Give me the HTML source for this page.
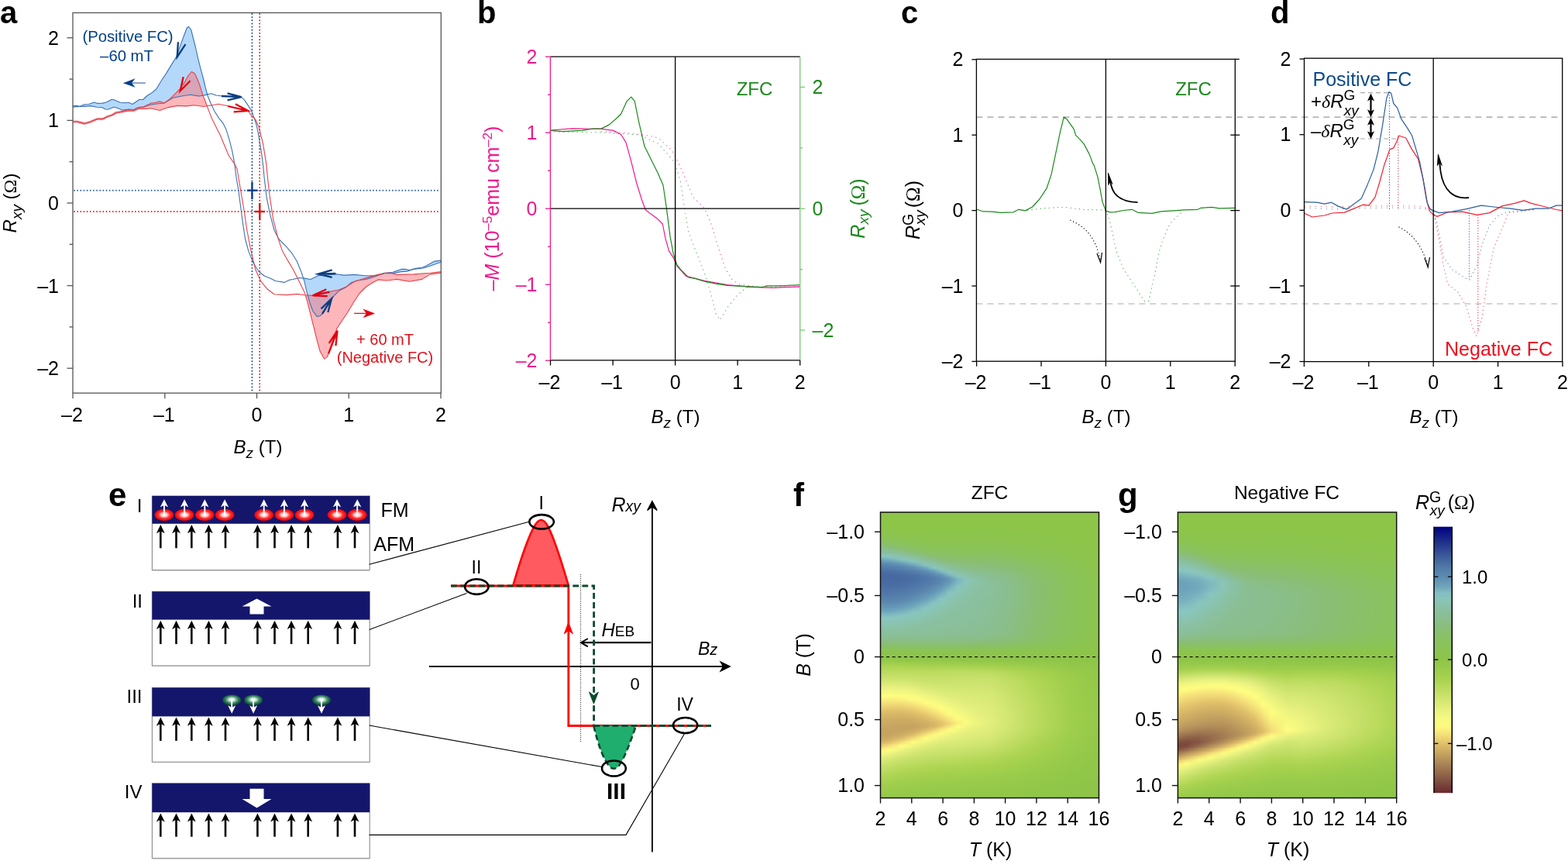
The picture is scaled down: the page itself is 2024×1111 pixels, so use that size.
<!DOCTYPE html>
<html><head><meta charset="utf-8"><style>
html,body{margin:0;padding:0;background:#fff;}
svg{display:block;}
text{font-family:"Liberation Sans",Arial,Helvetica,sans-serif;}
</style></head><body>
<svg width="2024" height="1111" viewBox="0 0 2024 1111">
<defs><clipPath id="cpb"><polygon points="94.1,136.6 98.7,136.4 102.5,137.4 109,134.7 114.5,134.5 121.5,132 125.9,133.4 132.4,133.1 137.3,132 144.3,128.2 147.1,128.8 155.2,132.3 160.7,132.8 166.1,132.3 171,134.5 179.7,128.5 184.6,128.5 190.5,123 195,120.6 201.7,115 208.5,103.7 215.2,93.6 222,82.4 227.6,73.4 233.2,57.6 237.7,45.2 241.1,36.2 243.6,34.2 246.7,38.5 249,47.5 252.4,61 255.7,75.6 259.1,89.1 262.5,101.5 265,112.2 267.5,121.4 267.5,122 263.6,122.9 256.9,124 245.6,122.3 234.4,124 223.1,126.2 211.9,133 200,134.3 193.3,135.5 185.1,138.3 177,139.3 172.6,141.5 166.1,141 157.9,142.1 150.9,139.3 147.1,138.3 138.9,141.3 136.2,141 131.3,138.5 124.8,138.3 117.2,136.6 109,137.4 102.5,137.4 94.1,138.3"/><polygon points="390.3,358.9 392.9,359.1 401,360.5 410.5,355.8 434.8,353.7 444.2,355.1 457.7,354.4 471.2,355.8 484.7,355.8 496.2,352.3 507,351.2 517.8,347.4 523.2,347.4 528.6,348.5 536.7,346.3 544.8,345.2 550.2,343.1 561,337.1 569.2,336.1 569.2,338.2 555.6,343.1 547.5,345.8 534,347.4 525.9,350.1 517.8,350.6 507,352.6 496.2,352.8 484.7,356.4 472.6,360.5 461.8,361.8 453.7,364.5 445.6,371.3 437.5,375.3 430.7,382.1 424,392.9 418.6,402.3 413.2,407.7 409.1,408.4 403.7,401 399.7,390.2 396.3,378 392.9,363.2 390.3,355.3"/></clipPath><radialGradient id="gred" cx="50%" cy="50%" r="50%"><stop offset="0" stop-color="#ffffff"/><stop offset="0.3" stop-color="#ffd0d0"/><stop offset="0.62" stop-color="#ff3030"/><stop offset="1" stop-color="#f00000"/></radialGradient><radialGradient id="ggrn" cx="50%" cy="45%" r="50%"><stop offset="0" stop-color="#ffffff"/><stop offset="0.25" stop-color="#e0f0e8"/><stop offset="0.65" stop-color="#3c8a66"/><stop offset="1" stop-color="#0c4a32"/></radialGradient><linearGradient id="f0"><stop offset="0" stop-color="#8dc548"/><stop offset="0.05" stop-color="#8dc548"/><stop offset="0.107" stop-color="#8dc548"/><stop offset="0.16" stop-color="#8dc548"/><stop offset="0.214" stop-color="#8dc548"/><stop offset="0.25" stop-color="#8dc548"/><stop offset="0.286" stop-color="#8dc548"/><stop offset="0.321" stop-color="#8dc548"/><stop offset="0.357" stop-color="#8dc548"/><stop offset="0.393" stop-color="#8dc548"/><stop offset="0.429" stop-color="#8dc548"/><stop offset="0.5" stop-color="#8dc548"/><stop offset="0.571" stop-color="#8dc548"/><stop offset="0.714" stop-color="#8dc548"/><stop offset="0.857" stop-color="#8dc548"/><stop offset="1" stop-color="#8dc548"/></linearGradient><linearGradient id="f1"><stop offset="0" stop-color="#8dc548"/><stop offset="0.05" stop-color="#8dc548"/><stop offset="0.107" stop-color="#8dc548"/><stop offset="0.16" stop-color="#8dc548"/><stop offset="0.214" stop-color="#8dc548"/><stop offset="0.25" stop-color="#8dc548"/><stop offset="0.286" stop-color="#8dc548"/><stop offset="0.321" stop-color="#8dc548"/><stop offset="0.357" stop-color="#8dc548"/><stop offset="0.393" stop-color="#8dc548"/><stop offset="0.429" stop-color="#8dc548"/><stop offset="0.5" stop-color="#8dc548"/><stop offset="0.571" stop-color="#8dc548"/><stop offset="0.714" stop-color="#8dc548"/><stop offset="0.857" stop-color="#8dc548"/><stop offset="1" stop-color="#8dc548"/></linearGradient><linearGradient id="f2"><stop offset="0" stop-color="#8dc548"/><stop offset="0.05" stop-color="#8dc548"/><stop offset="0.107" stop-color="#8dc548"/><stop offset="0.16" stop-color="#8dc548"/><stop offset="0.214" stop-color="#8dc548"/><stop offset="0.25" stop-color="#8dc548"/><stop offset="0.286" stop-color="#8dc548"/><stop offset="0.321" stop-color="#8dc548"/><stop offset="0.357" stop-color="#8dc548"/><stop offset="0.393" stop-color="#8dc548"/><stop offset="0.429" stop-color="#8dc548"/><stop offset="0.5" stop-color="#8dc548"/><stop offset="0.571" stop-color="#8dc548"/><stop offset="0.714" stop-color="#8dc548"/><stop offset="0.857" stop-color="#8dc548"/><stop offset="1" stop-color="#8dc548"/></linearGradient><linearGradient id="f3"><stop offset="0" stop-color="#8dc548"/><stop offset="0.05" stop-color="#8dc548"/><stop offset="0.107" stop-color="#8dc548"/><stop offset="0.16" stop-color="#8dc548"/><stop offset="0.214" stop-color="#8dc548"/><stop offset="0.25" stop-color="#8dc548"/><stop offset="0.286" stop-color="#8dc548"/><stop offset="0.321" stop-color="#8dc548"/><stop offset="0.357" stop-color="#8dc548"/><stop offset="0.393" stop-color="#8dc548"/><stop offset="0.429" stop-color="#8dc548"/><stop offset="0.5" stop-color="#8dc549"/><stop offset="0.571" stop-color="#8dc549"/><stop offset="0.714" stop-color="#8dc548"/><stop offset="0.857" stop-color="#8dc548"/><stop offset="1" stop-color="#8dc548"/></linearGradient><linearGradient id="f4"><stop offset="0" stop-color="#8dc548"/><stop offset="0.05" stop-color="#8dc548"/><stop offset="0.107" stop-color="#8dc548"/><stop offset="0.16" stop-color="#8dc548"/><stop offset="0.214" stop-color="#8dc548"/><stop offset="0.25" stop-color="#8dc548"/><stop offset="0.286" stop-color="#8dc548"/><stop offset="0.321" stop-color="#8dc548"/><stop offset="0.357" stop-color="#8dc549"/><stop offset="0.393" stop-color="#8dc549"/><stop offset="0.429" stop-color="#8dc549"/><stop offset="0.5" stop-color="#8dc549"/><stop offset="0.571" stop-color="#8dc549"/><stop offset="0.714" stop-color="#8dc549"/><stop offset="0.857" stop-color="#8dc548"/><stop offset="1" stop-color="#8dc548"/></linearGradient><linearGradient id="f5"><stop offset="0" stop-color="#8dc549"/><stop offset="0.05" stop-color="#8dc548"/><stop offset="0.107" stop-color="#8dc548"/><stop offset="0.16" stop-color="#8dc548"/><stop offset="0.214" stop-color="#8dc548"/><stop offset="0.25" stop-color="#8dc548"/><stop offset="0.286" stop-color="#8dc549"/><stop offset="0.321" stop-color="#8dc549"/><stop offset="0.357" stop-color="#8dc549"/><stop offset="0.393" stop-color="#8dc549"/><stop offset="0.429" stop-color="#8dc549"/><stop offset="0.5" stop-color="#8dc549"/><stop offset="0.571" stop-color="#8dc549"/><stop offset="0.714" stop-color="#8dc549"/><stop offset="0.857" stop-color="#8dc548"/><stop offset="1" stop-color="#8dc548"/></linearGradient><linearGradient id="f6"><stop offset="0" stop-color="#8dc549"/><stop offset="0.05" stop-color="#8dc548"/><stop offset="0.107" stop-color="#8dc548"/><stop offset="0.16" stop-color="#8dc548"/><stop offset="0.214" stop-color="#8dc549"/><stop offset="0.25" stop-color="#8dc549"/><stop offset="0.286" stop-color="#8dc549"/><stop offset="0.321" stop-color="#8dc549"/><stop offset="0.357" stop-color="#8dc549"/><stop offset="0.393" stop-color="#8dc549"/><stop offset="0.429" stop-color="#8dc549"/><stop offset="0.5" stop-color="#8dc549"/><stop offset="0.571" stop-color="#8dc549"/><stop offset="0.714" stop-color="#8dc549"/><stop offset="0.857" stop-color="#8dc548"/><stop offset="1" stop-color="#8dc548"/></linearGradient><linearGradient id="f7"><stop offset="0" stop-color="#8dc549"/><stop offset="0.05" stop-color="#8dc549"/><stop offset="0.107" stop-color="#8dc548"/><stop offset="0.16" stop-color="#8dc549"/><stop offset="0.214" stop-color="#8dc549"/><stop offset="0.25" stop-color="#8dc549"/><stop offset="0.286" stop-color="#8dc549"/><stop offset="0.321" stop-color="#8dc549"/><stop offset="0.357" stop-color="#8dc549"/><stop offset="0.393" stop-color="#8dc549"/><stop offset="0.429" stop-color="#8dc549"/><stop offset="0.5" stop-color="#8dc549"/><stop offset="0.571" stop-color="#8dc549"/><stop offset="0.714" stop-color="#8dc549"/><stop offset="0.857" stop-color="#8dc549"/><stop offset="1" stop-color="#8dc548"/></linearGradient><linearGradient id="f8"><stop offset="0" stop-color="#8dc54a"/><stop offset="0.05" stop-color="#8dc549"/><stop offset="0.107" stop-color="#8dc549"/><stop offset="0.16" stop-color="#8dc549"/><stop offset="0.214" stop-color="#8dc549"/><stop offset="0.25" stop-color="#8dc549"/><stop offset="0.286" stop-color="#8dc549"/><stop offset="0.321" stop-color="#8dc549"/><stop offset="0.357" stop-color="#8dc549"/><stop offset="0.393" stop-color="#8dc54a"/><stop offset="0.429" stop-color="#8dc54a"/><stop offset="0.5" stop-color="#8dc54a"/><stop offset="0.571" stop-color="#8dc54a"/><stop offset="0.714" stop-color="#8dc549"/><stop offset="0.857" stop-color="#8dc549"/><stop offset="1" stop-color="#8dc548"/></linearGradient><linearGradient id="f9"><stop offset="0" stop-color="#8dc54b"/><stop offset="0.05" stop-color="#8dc54a"/><stop offset="0.107" stop-color="#8dc549"/><stop offset="0.16" stop-color="#8dc549"/><stop offset="0.214" stop-color="#8dc549"/><stop offset="0.25" stop-color="#8dc54a"/><stop offset="0.286" stop-color="#8dc54a"/><stop offset="0.321" stop-color="#8dc54a"/><stop offset="0.357" stop-color="#8dc54a"/><stop offset="0.393" stop-color="#8dc54a"/><stop offset="0.429" stop-color="#8dc54a"/><stop offset="0.5" stop-color="#8dc54a"/><stop offset="0.571" stop-color="#8dc54a"/><stop offset="0.714" stop-color="#8dc549"/><stop offset="0.857" stop-color="#8dc549"/><stop offset="1" stop-color="#8dc548"/></linearGradient><linearGradient id="f10"><stop offset="0" stop-color="#8cc54d"/><stop offset="0.05" stop-color="#8dc54b"/><stop offset="0.107" stop-color="#8dc54a"/><stop offset="0.16" stop-color="#8dc54a"/><stop offset="0.214" stop-color="#8dc54a"/><stop offset="0.25" stop-color="#8dc54a"/><stop offset="0.286" stop-color="#8dc54a"/><stop offset="0.321" stop-color="#8dc54a"/><stop offset="0.357" stop-color="#8dc54a"/><stop offset="0.393" stop-color="#8dc54a"/><stop offset="0.429" stop-color="#8dc54b"/><stop offset="0.5" stop-color="#8dc54b"/><stop offset="0.571" stop-color="#8dc54b"/><stop offset="0.714" stop-color="#8dc54a"/><stop offset="0.857" stop-color="#8dc549"/><stop offset="1" stop-color="#8dc548"/></linearGradient><linearGradient id="f11"><stop offset="0" stop-color="#8cc44f"/><stop offset="0.05" stop-color="#8cc54c"/><stop offset="0.107" stop-color="#8dc54b"/><stop offset="0.16" stop-color="#8dc54a"/><stop offset="0.214" stop-color="#8dc54a"/><stop offset="0.25" stop-color="#8dc54a"/><stop offset="0.286" stop-color="#8dc54b"/><stop offset="0.321" stop-color="#8dc54b"/><stop offset="0.357" stop-color="#8dc54b"/><stop offset="0.393" stop-color="#8dc54b"/><stop offset="0.429" stop-color="#8dc54b"/><stop offset="0.5" stop-color="#8dc54b"/><stop offset="0.571" stop-color="#8dc54b"/><stop offset="0.714" stop-color="#8dc54a"/><stop offset="0.857" stop-color="#8dc549"/><stop offset="1" stop-color="#8dc548"/></linearGradient><linearGradient id="f12"><stop offset="0" stop-color="#8cc451"/><stop offset="0.05" stop-color="#8cc44e"/><stop offset="0.107" stop-color="#8cc54c"/><stop offset="0.16" stop-color="#8dc54b"/><stop offset="0.214" stop-color="#8dc54b"/><stop offset="0.25" stop-color="#8dc54b"/><stop offset="0.286" stop-color="#8cc54b"/><stop offset="0.321" stop-color="#8cc54c"/><stop offset="0.357" stop-color="#8cc54c"/><stop offset="0.393" stop-color="#8cc54c"/><stop offset="0.429" stop-color="#8cc54c"/><stop offset="0.5" stop-color="#8cc54c"/><stop offset="0.571" stop-color="#8cc54c"/><stop offset="0.714" stop-color="#8dc54b"/><stop offset="0.857" stop-color="#8dc54a"/><stop offset="1" stop-color="#8dc548"/></linearGradient><linearGradient id="f13"><stop offset="0" stop-color="#8bc455"/><stop offset="0.05" stop-color="#8cc451"/><stop offset="0.107" stop-color="#8cc44d"/><stop offset="0.16" stop-color="#8cc54c"/><stop offset="0.214" stop-color="#8cc54c"/><stop offset="0.25" stop-color="#8cc54c"/><stop offset="0.286" stop-color="#8cc54c"/><stop offset="0.321" stop-color="#8cc54c"/><stop offset="0.357" stop-color="#8cc54d"/><stop offset="0.393" stop-color="#8cc54d"/><stop offset="0.429" stop-color="#8cc54d"/><stop offset="0.5" stop-color="#8cc54d"/><stop offset="0.571" stop-color="#8cc54c"/><stop offset="0.714" stop-color="#8dc54b"/><stop offset="0.857" stop-color="#8dc54a"/><stop offset="1" stop-color="#8dc548"/></linearGradient><linearGradient id="f14"><stop offset="0" stop-color="#8bc358"/><stop offset="0.05" stop-color="#8bc454"/><stop offset="0.107" stop-color="#8cc44f"/><stop offset="0.16" stop-color="#8cc44d"/><stop offset="0.214" stop-color="#8cc54d"/><stop offset="0.25" stop-color="#8cc44d"/><stop offset="0.286" stop-color="#8cc44d"/><stop offset="0.321" stop-color="#8cc44d"/><stop offset="0.357" stop-color="#8cc44e"/><stop offset="0.393" stop-color="#8cc44e"/><stop offset="0.429" stop-color="#8cc44e"/><stop offset="0.5" stop-color="#8cc44e"/><stop offset="0.571" stop-color="#8cc44d"/><stop offset="0.714" stop-color="#8cc54c"/><stop offset="0.857" stop-color="#8dc54a"/><stop offset="1" stop-color="#8dc549"/></linearGradient><linearGradient id="f15"><stop offset="0" stop-color="#8ac35d"/><stop offset="0.05" stop-color="#8bc357"/><stop offset="0.107" stop-color="#8bc452"/><stop offset="0.16" stop-color="#8cc44f"/><stop offset="0.214" stop-color="#8cc44e"/><stop offset="0.25" stop-color="#8cc44e"/><stop offset="0.286" stop-color="#8cc44e"/><stop offset="0.321" stop-color="#8cc44f"/><stop offset="0.357" stop-color="#8cc44f"/><stop offset="0.393" stop-color="#8cc44f"/><stop offset="0.429" stop-color="#8cc44f"/><stop offset="0.5" stop-color="#8cc44f"/><stop offset="0.571" stop-color="#8cc44e"/><stop offset="0.714" stop-color="#8cc54d"/><stop offset="0.857" stop-color="#8dc54a"/><stop offset="1" stop-color="#8dc549"/></linearGradient><linearGradient id="f16"><stop offset="0" stop-color="#8ac163"/><stop offset="0.05" stop-color="#8ac35c"/><stop offset="0.107" stop-color="#8bc455"/><stop offset="0.16" stop-color="#8cc452"/><stop offset="0.214" stop-color="#8cc450"/><stop offset="0.25" stop-color="#8cc450"/><stop offset="0.286" stop-color="#8cc450"/><stop offset="0.321" stop-color="#8cc450"/><stop offset="0.357" stop-color="#8cc450"/><stop offset="0.393" stop-color="#8cc450"/><stop offset="0.429" stop-color="#8cc450"/><stop offset="0.5" stop-color="#8cc450"/><stop offset="0.571" stop-color="#8cc450"/><stop offset="0.714" stop-color="#8cc44d"/><stop offset="0.857" stop-color="#8dc54b"/><stop offset="1" stop-color="#8dc549"/></linearGradient><linearGradient id="f17"><stop offset="0" stop-color="#8ac06b"/><stop offset="0.05" stop-color="#8ac163"/><stop offset="0.107" stop-color="#8ac35a"/><stop offset="0.16" stop-color="#8bc454"/><stop offset="0.214" stop-color="#8cc452"/><stop offset="0.25" stop-color="#8cc451"/><stop offset="0.286" stop-color="#8cc451"/><stop offset="0.321" stop-color="#8cc452"/><stop offset="0.357" stop-color="#8cc452"/><stop offset="0.393" stop-color="#8cc452"/><stop offset="0.429" stop-color="#8cc452"/><stop offset="0.5" stop-color="#8cc452"/><stop offset="0.571" stop-color="#8cc451"/><stop offset="0.714" stop-color="#8cc44e"/><stop offset="0.857" stop-color="#8cc54b"/><stop offset="1" stop-color="#8dc549"/></linearGradient><linearGradient id="f18"><stop offset="0" stop-color="#8abe73"/><stop offset="0.05" stop-color="#8ac06b"/><stop offset="0.107" stop-color="#8ac25f"/><stop offset="0.16" stop-color="#8bc358"/><stop offset="0.214" stop-color="#8bc455"/><stop offset="0.25" stop-color="#8bc454"/><stop offset="0.286" stop-color="#8bc453"/><stop offset="0.321" stop-color="#8bc453"/><stop offset="0.357" stop-color="#8bc453"/><stop offset="0.393" stop-color="#8bc453"/><stop offset="0.429" stop-color="#8bc453"/><stop offset="0.5" stop-color="#8bc453"/><stop offset="0.571" stop-color="#8bc452"/><stop offset="0.714" stop-color="#8cc44f"/><stop offset="0.857" stop-color="#8cc54c"/><stop offset="1" stop-color="#8dc549"/></linearGradient><linearGradient id="f19"><stop offset="0" stop-color="#8abe80"/><stop offset="0.05" stop-color="#8abe74"/><stop offset="0.107" stop-color="#8ac067"/><stop offset="0.16" stop-color="#8ac35d"/><stop offset="0.214" stop-color="#8bc358"/><stop offset="0.25" stop-color="#8bc456"/><stop offset="0.286" stop-color="#8bc456"/><stop offset="0.321" stop-color="#8bc455"/><stop offset="0.357" stop-color="#8bc455"/><stop offset="0.393" stop-color="#8bc455"/><stop offset="0.429" stop-color="#8bc455"/><stop offset="0.5" stop-color="#8bc455"/><stop offset="0.571" stop-color="#8bc454"/><stop offset="0.714" stop-color="#8cc450"/><stop offset="0.857" stop-color="#8cc54d"/><stop offset="1" stop-color="#8dc549"/></linearGradient><linearGradient id="f20"><stop offset="0" stop-color="#8abe8d"/><stop offset="0.05" stop-color="#8abe81"/><stop offset="0.107" stop-color="#8abf70"/><stop offset="0.16" stop-color="#8ac164"/><stop offset="0.214" stop-color="#8ac35b"/><stop offset="0.25" stop-color="#8ac359"/><stop offset="0.286" stop-color="#8bc358"/><stop offset="0.321" stop-color="#8bc358"/><stop offset="0.357" stop-color="#8bc358"/><stop offset="0.393" stop-color="#8bc358"/><stop offset="0.429" stop-color="#8bc357"/><stop offset="0.5" stop-color="#8bc457"/><stop offset="0.571" stop-color="#8bc456"/><stop offset="0.714" stop-color="#8cc451"/><stop offset="0.857" stop-color="#8cc44d"/><stop offset="1" stop-color="#8dc549"/></linearGradient><linearGradient id="f21"><stop offset="0" stop-color="#8abf99"/><stop offset="0.05" stop-color="#8abe90"/><stop offset="0.107" stop-color="#8abe7d"/><stop offset="0.16" stop-color="#8abf6c"/><stop offset="0.214" stop-color="#8ac261"/><stop offset="0.25" stop-color="#8ac35d"/><stop offset="0.286" stop-color="#8ac35b"/><stop offset="0.321" stop-color="#8ac35a"/><stop offset="0.357" stop-color="#8ac35a"/><stop offset="0.393" stop-color="#8ac35a"/><stop offset="0.429" stop-color="#8ac35a"/><stop offset="0.5" stop-color="#8ac359"/><stop offset="0.571" stop-color="#8bc358"/><stop offset="0.714" stop-color="#8bc453"/><stop offset="0.857" stop-color="#8cc44e"/><stop offset="1" stop-color="#8dc54a"/></linearGradient><linearGradient id="f22"><stop offset="0" stop-color="#8ac1a5"/><stop offset="0.05" stop-color="#8ac09c"/><stop offset="0.107" stop-color="#8abe8b"/><stop offset="0.16" stop-color="#8abe76"/><stop offset="0.214" stop-color="#8ac068"/><stop offset="0.25" stop-color="#8ac263"/><stop offset="0.286" stop-color="#8ac25f"/><stop offset="0.321" stop-color="#8ac35e"/><stop offset="0.357" stop-color="#8ac35d"/><stop offset="0.393" stop-color="#8ac35d"/><stop offset="0.429" stop-color="#8ac35c"/><stop offset="0.5" stop-color="#8ac35b"/><stop offset="0.571" stop-color="#8ac35a"/><stop offset="0.714" stop-color="#8bc454"/><stop offset="0.857" stop-color="#8cc44f"/><stop offset="1" stop-color="#8dc54a"/></linearGradient><linearGradient id="f23"><stop offset="0" stop-color="#8ac3b2"/><stop offset="0.05" stop-color="#8ac2a9"/><stop offset="0.107" stop-color="#8abf99"/><stop offset="0.16" stop-color="#8abe85"/><stop offset="0.214" stop-color="#8abe70"/><stop offset="0.25" stop-color="#8ac069"/><stop offset="0.286" stop-color="#8ac165"/><stop offset="0.321" stop-color="#8ac262"/><stop offset="0.357" stop-color="#8ac261"/><stop offset="0.393" stop-color="#8ac260"/><stop offset="0.429" stop-color="#8ac260"/><stop offset="0.5" stop-color="#8ac25f"/><stop offset="0.571" stop-color="#8ac35c"/><stop offset="0.714" stop-color="#8bc456"/><stop offset="0.857" stop-color="#8cc44f"/><stop offset="1" stop-color="#8dc54a"/></linearGradient><linearGradient id="f24"><stop offset="0" stop-color="#8ac6c0"/><stop offset="0.05" stop-color="#8ac4b7"/><stop offset="0.107" stop-color="#8ac1a7"/><stop offset="0.16" stop-color="#8abf93"/><stop offset="0.214" stop-color="#8abe7d"/><stop offset="0.25" stop-color="#8abe71"/><stop offset="0.286" stop-color="#8ac06b"/><stop offset="0.321" stop-color="#8ac067"/><stop offset="0.357" stop-color="#8ac165"/><stop offset="0.393" stop-color="#8ac164"/><stop offset="0.429" stop-color="#8ac164"/><stop offset="0.5" stop-color="#8ac262"/><stop offset="0.571" stop-color="#8ac25f"/><stop offset="0.714" stop-color="#8bc357"/><stop offset="0.857" stop-color="#8cc450"/><stop offset="1" stop-color="#8dc54a"/></linearGradient><linearGradient id="f25"><stop offset="0" stop-color="#7ab3be"/><stop offset="0.05" stop-color="#85c0c1"/><stop offset="0.107" stop-color="#8ac4b6"/><stop offset="0.16" stop-color="#8ac1a1"/><stop offset="0.214" stop-color="#8abe8b"/><stop offset="0.25" stop-color="#8abe7c"/><stop offset="0.286" stop-color="#8abe71"/><stop offset="0.321" stop-color="#8abf6d"/><stop offset="0.357" stop-color="#8ac06a"/><stop offset="0.393" stop-color="#8ac069"/><stop offset="0.429" stop-color="#8ac068"/><stop offset="0.5" stop-color="#8ac166"/><stop offset="0.571" stop-color="#8ac262"/><stop offset="0.714" stop-color="#8ac359"/><stop offset="0.857" stop-color="#8cc451"/><stop offset="1" stop-color="#8dc54a"/></linearGradient><linearGradient id="f26"><stop offset="0" stop-color="#6a9fb9"/><stop offset="0.05" stop-color="#72aabc"/><stop offset="0.107" stop-color="#86c2c1"/><stop offset="0.16" stop-color="#8ac3b0"/><stop offset="0.214" stop-color="#8abf99"/><stop offset="0.25" stop-color="#8abe89"/><stop offset="0.286" stop-color="#8abe7c"/><stop offset="0.321" stop-color="#8abe73"/><stop offset="0.357" stop-color="#8abf6f"/><stop offset="0.393" stop-color="#8abf6d"/><stop offset="0.429" stop-color="#8abf6c"/><stop offset="0.5" stop-color="#8ac06a"/><stop offset="0.571" stop-color="#8ac166"/><stop offset="0.714" stop-color="#8ac35a"/><stop offset="0.857" stop-color="#8cc452"/><stop offset="1" stop-color="#8dc54b"/></linearGradient><linearGradient id="f27"><stop offset="0" stop-color="#6191b3"/><stop offset="0.05" stop-color="#6699b6"/><stop offset="0.107" stop-color="#73aabc"/><stop offset="0.16" stop-color="#8ac6c0"/><stop offset="0.214" stop-color="#8ac1a6"/><stop offset="0.25" stop-color="#8abf97"/><stop offset="0.286" stop-color="#8abe88"/><stop offset="0.321" stop-color="#8abe7d"/><stop offset="0.357" stop-color="#8abe76"/><stop offset="0.393" stop-color="#8abe72"/><stop offset="0.429" stop-color="#8abe71"/><stop offset="0.5" stop-color="#8abf6e"/><stop offset="0.571" stop-color="#8ac069"/><stop offset="0.714" stop-color="#8ac35c"/><stop offset="0.857" stop-color="#8bc453"/><stop offset="1" stop-color="#8dc54b"/></linearGradient><linearGradient id="f28"><stop offset="0" stop-color="#5986ae"/><stop offset="0.05" stop-color="#5d8cb1"/><stop offset="0.107" stop-color="#6699b6"/><stop offset="0.16" stop-color="#79b1bd"/><stop offset="0.214" stop-color="#8ac4b5"/><stop offset="0.25" stop-color="#8ac1a3"/><stop offset="0.286" stop-color="#8abf94"/><stop offset="0.321" stop-color="#8abe87"/><stop offset="0.357" stop-color="#8abe7e"/><stop offset="0.393" stop-color="#8abe79"/><stop offset="0.429" stop-color="#8abe76"/><stop offset="0.5" stop-color="#8abe72"/><stop offset="0.571" stop-color="#8abf6d"/><stop offset="0.714" stop-color="#8ac25e"/><stop offset="0.857" stop-color="#8bc454"/><stop offset="1" stop-color="#8dc54b"/></linearGradient><linearGradient id="f29"><stop offset="0" stop-color="#547fab"/><stop offset="0.05" stop-color="#5884ad"/><stop offset="0.107" stop-color="#5d8cb1"/><stop offset="0.16" stop-color="#689db8"/><stop offset="0.214" stop-color="#86c1c1"/><stop offset="0.25" stop-color="#8ac3b2"/><stop offset="0.286" stop-color="#8ac1a0"/><stop offset="0.321" stop-color="#8abe92"/><stop offset="0.357" stop-color="#8abe87"/><stop offset="0.393" stop-color="#8abe80"/><stop offset="0.429" stop-color="#8abe7d"/><stop offset="0.5" stop-color="#8abe77"/><stop offset="0.571" stop-color="#8abe71"/><stop offset="0.714" stop-color="#8ac261"/><stop offset="0.857" stop-color="#8bc455"/><stop offset="1" stop-color="#8dc54b"/></linearGradient><linearGradient id="f30"><stop offset="0" stop-color="#5078a8"/><stop offset="0.05" stop-color="#537daa"/><stop offset="0.107" stop-color="#5783ad"/><stop offset="0.16" stop-color="#5f8eb2"/><stop offset="0.214" stop-color="#72a9bc"/><stop offset="0.25" stop-color="#8ac6c1"/><stop offset="0.286" stop-color="#8ac3ad"/><stop offset="0.321" stop-color="#8ac09d"/><stop offset="0.357" stop-color="#8abe91"/><stop offset="0.393" stop-color="#8abe88"/><stop offset="0.429" stop-color="#8abe83"/><stop offset="0.5" stop-color="#8abe7d"/><stop offset="0.571" stop-color="#8abe75"/><stop offset="0.714" stop-color="#8ac163"/><stop offset="0.857" stop-color="#8bc456"/><stop offset="1" stop-color="#8cc54c"/></linearGradient><linearGradient id="f31"><stop offset="0" stop-color="#4b70a4"/><stop offset="0.05" stop-color="#4f76a7"/><stop offset="0.107" stop-color="#537caa"/><stop offset="0.16" stop-color="#5885ae"/><stop offset="0.214" stop-color="#6597b6"/><stop offset="0.25" stop-color="#77b0bd"/><stop offset="0.286" stop-color="#8ac5bb"/><stop offset="0.321" stop-color="#8ac2a8"/><stop offset="0.357" stop-color="#8abf9a"/><stop offset="0.393" stop-color="#8abe90"/><stop offset="0.429" stop-color="#8abe8a"/><stop offset="0.5" stop-color="#8abe83"/><stop offset="0.571" stop-color="#8abe7a"/><stop offset="0.714" stop-color="#8ac165"/><stop offset="0.857" stop-color="#8bc456"/><stop offset="1" stop-color="#8cc54c"/></linearGradient><linearGradient id="f32"><stop offset="0" stop-color="#486ba2"/><stop offset="0.05" stop-color="#4b70a4"/><stop offset="0.107" stop-color="#4f76a7"/><stop offset="0.16" stop-color="#547daa"/><stop offset="0.214" stop-color="#5c8ab0"/><stop offset="0.25" stop-color="#689cb7"/><stop offset="0.286" stop-color="#80babf"/><stop offset="0.321" stop-color="#8ac4b5"/><stop offset="0.357" stop-color="#8ac1a3"/><stop offset="0.393" stop-color="#8abf97"/><stop offset="0.429" stop-color="#8abe91"/><stop offset="0.5" stop-color="#8abe88"/><stop offset="0.571" stop-color="#8abe7e"/><stop offset="0.714" stop-color="#8ac067"/><stop offset="0.857" stop-color="#8bc357"/><stop offset="1" stop-color="#8cc54c"/></linearGradient><linearGradient id="f33"><stop offset="0" stop-color="#4668a1"/><stop offset="0.05" stop-color="#486ba2"/><stop offset="0.107" stop-color="#4b70a4"/><stop offset="0.16" stop-color="#5077a8"/><stop offset="0.214" stop-color="#5782ac"/><stop offset="0.25" stop-color="#5f8eb2"/><stop offset="0.286" stop-color="#6da4ba"/><stop offset="0.321" stop-color="#8ac6c2"/><stop offset="0.357" stop-color="#8ac2ad"/><stop offset="0.393" stop-color="#8ac09f"/><stop offset="0.429" stop-color="#8abf96"/><stop offset="0.5" stop-color="#8abe8d"/><stop offset="0.571" stop-color="#8abe83"/><stop offset="0.714" stop-color="#8ac069"/><stop offset="0.857" stop-color="#8bc358"/><stop offset="1" stop-color="#8cc54c"/></linearGradient><linearGradient id="f34"><stop offset="0" stop-color="#4668a1"/><stop offset="0.05" stop-color="#4669a1"/><stop offset="0.107" stop-color="#486ca2"/><stop offset="0.16" stop-color="#4b70a5"/><stop offset="0.214" stop-color="#527ba9"/><stop offset="0.25" stop-color="#5885ae"/><stop offset="0.286" stop-color="#6495b5"/><stop offset="0.321" stop-color="#79b2be"/><stop offset="0.357" stop-color="#8ac4b8"/><stop offset="0.393" stop-color="#8ac1a7"/><stop offset="0.429" stop-color="#8ac09c"/><stop offset="0.5" stop-color="#8abe91"/><stop offset="0.571" stop-color="#8abe87"/><stop offset="0.714" stop-color="#8ac06b"/><stop offset="0.857" stop-color="#8ac359"/><stop offset="1" stop-color="#8cc54c"/></linearGradient><linearGradient id="f35"><stop offset="0" stop-color="#4668a1"/><stop offset="0.05" stop-color="#4669a1"/><stop offset="0.107" stop-color="#476aa2"/><stop offset="0.16" stop-color="#4a6ea3"/><stop offset="0.214" stop-color="#4e76a7"/><stop offset="0.25" stop-color="#547eab"/><stop offset="0.286" stop-color="#5c89b0"/><stop offset="0.321" stop-color="#6aa0b9"/><stop offset="0.357" stop-color="#88c3c1"/><stop offset="0.393" stop-color="#8ac3af"/><stop offset="0.429" stop-color="#8ac1a2"/><stop offset="0.5" stop-color="#8abf94"/><stop offset="0.571" stop-color="#8abe8a"/><stop offset="0.714" stop-color="#8abf6d"/><stop offset="0.857" stop-color="#8ac359"/><stop offset="1" stop-color="#8cc54d"/></linearGradient><linearGradient id="f36"><stop offset="0" stop-color="#4769a1"/><stop offset="0.05" stop-color="#4769a1"/><stop offset="0.107" stop-color="#476aa2"/><stop offset="0.16" stop-color="#4a6ea3"/><stop offset="0.214" stop-color="#4f76a7"/><stop offset="0.25" stop-color="#537daa"/><stop offset="0.286" stop-color="#5985ae"/><stop offset="0.321" stop-color="#6394b4"/><stop offset="0.357" stop-color="#79b2bd"/><stop offset="0.393" stop-color="#8ac4b9"/><stop offset="0.429" stop-color="#8ac2a8"/><stop offset="0.5" stop-color="#8abf97"/><stop offset="0.571" stop-color="#8abe8d"/><stop offset="0.714" stop-color="#8abf6e"/><stop offset="0.857" stop-color="#8ac35a"/><stop offset="1" stop-color="#8cc54d"/></linearGradient><linearGradient id="f37"><stop offset="0" stop-color="#476aa2"/><stop offset="0.05" stop-color="#476aa2"/><stop offset="0.107" stop-color="#486ba2"/><stop offset="0.16" stop-color="#4b6fa4"/><stop offset="0.214" stop-color="#5078a8"/><stop offset="0.25" stop-color="#547eab"/><stop offset="0.286" stop-color="#5a87af"/><stop offset="0.321" stop-color="#6598b6"/><stop offset="0.357" stop-color="#79b2bd"/><stop offset="0.393" stop-color="#8ac5bc"/><stop offset="0.429" stop-color="#8ac2ac"/><stop offset="0.5" stop-color="#8ac09a"/><stop offset="0.571" stop-color="#8abe8f"/><stop offset="0.714" stop-color="#8abf6f"/><stop offset="0.857" stop-color="#8ac35a"/><stop offset="1" stop-color="#8cc54d"/></linearGradient><linearGradient id="f38"><stop offset="0" stop-color="#486ba2"/><stop offset="0.05" stop-color="#486ba2"/><stop offset="0.107" stop-color="#496da3"/><stop offset="0.16" stop-color="#4c72a5"/><stop offset="0.214" stop-color="#517aa9"/><stop offset="0.25" stop-color="#5681ac"/><stop offset="0.286" stop-color="#5d8bb0"/><stop offset="0.321" stop-color="#689db8"/><stop offset="0.357" stop-color="#7fb8bf"/><stop offset="0.393" stop-color="#8ac4b9"/><stop offset="0.429" stop-color="#8ac2ab"/><stop offset="0.5" stop-color="#8ac09b"/><stop offset="0.571" stop-color="#8abe90"/><stop offset="0.714" stop-color="#8abe70"/><stop offset="0.857" stop-color="#8ac35b"/><stop offset="1" stop-color="#8cc54d"/></linearGradient><linearGradient id="f39"><stop offset="0" stop-color="#496da3"/><stop offset="0.05" stop-color="#496da3"/><stop offset="0.107" stop-color="#4a6fa4"/><stop offset="0.16" stop-color="#4e75a6"/><stop offset="0.214" stop-color="#537daa"/><stop offset="0.25" stop-color="#5884ae"/><stop offset="0.286" stop-color="#6090b3"/><stop offset="0.321" stop-color="#6da3ba"/><stop offset="0.357" stop-color="#85c0c1"/><stop offset="0.393" stop-color="#8ac4b5"/><stop offset="0.429" stop-color="#8ac2a9"/><stop offset="0.5" stop-color="#8ac09b"/><stop offset="0.571" stop-color="#8abe91"/><stop offset="0.714" stop-color="#8abe70"/><stop offset="0.857" stop-color="#8ac35b"/><stop offset="1" stop-color="#8cc54d"/></linearGradient><linearGradient id="f40"><stop offset="0" stop-color="#4a6fa4"/><stop offset="0.05" stop-color="#4a6fa4"/><stop offset="0.107" stop-color="#4c71a5"/><stop offset="0.16" stop-color="#5078a8"/><stop offset="0.214" stop-color="#5580ac"/><stop offset="0.25" stop-color="#5b88af"/><stop offset="0.286" stop-color="#6496b5"/><stop offset="0.321" stop-color="#74abbc"/><stop offset="0.357" stop-color="#8ac6c1"/><stop offset="0.393" stop-color="#8ac3b2"/><stop offset="0.429" stop-color="#8ac2a7"/><stop offset="0.5" stop-color="#8ac09b"/><stop offset="0.571" stop-color="#8abe91"/><stop offset="0.714" stop-color="#8abe71"/><stop offset="0.857" stop-color="#8ac35b"/><stop offset="1" stop-color="#8cc54d"/></linearGradient><linearGradient id="f41"><stop offset="0" stop-color="#4c72a5"/><stop offset="0.05" stop-color="#4c71a5"/><stop offset="0.107" stop-color="#4e74a6"/><stop offset="0.16" stop-color="#527aa9"/><stop offset="0.214" stop-color="#5783ad"/><stop offset="0.25" stop-color="#5e8db1"/><stop offset="0.286" stop-color="#689cb8"/><stop offset="0.321" stop-color="#7bb4be"/><stop offset="0.357" stop-color="#8ac5bc"/><stop offset="0.393" stop-color="#8ac3ae"/><stop offset="0.429" stop-color="#8ac1a5"/><stop offset="0.5" stop-color="#8ac09b"/><stop offset="0.571" stop-color="#8abe91"/><stop offset="0.714" stop-color="#8abe71"/><stop offset="0.857" stop-color="#8ac35b"/><stop offset="1" stop-color="#8cc54d"/></linearGradient><linearGradient id="f42"><stop offset="0" stop-color="#4e75a7"/><stop offset="0.05" stop-color="#4e74a6"/><stop offset="0.107" stop-color="#5078a8"/><stop offset="0.16" stop-color="#537daa"/><stop offset="0.214" stop-color="#5a87af"/><stop offset="0.25" stop-color="#6292b4"/><stop offset="0.286" stop-color="#6ca2ba"/><stop offset="0.321" stop-color="#82bdc0"/><stop offset="0.357" stop-color="#8ac4b8"/><stop offset="0.393" stop-color="#8ac2ac"/><stop offset="0.429" stop-color="#8ac1a4"/><stop offset="0.5" stop-color="#8ac09a"/><stop offset="0.571" stop-color="#8abe91"/><stop offset="0.714" stop-color="#8abe71"/><stop offset="0.857" stop-color="#8ac35b"/><stop offset="1" stop-color="#8cc54d"/></linearGradient><linearGradient id="f43"><stop offset="0" stop-color="#5078a8"/><stop offset="0.05" stop-color="#5078a8"/><stop offset="0.107" stop-color="#527ba9"/><stop offset="0.16" stop-color="#5680ac"/><stop offset="0.214" stop-color="#5d8bb0"/><stop offset="0.25" stop-color="#6698b6"/><stop offset="0.286" stop-color="#74abbc"/><stop offset="0.321" stop-color="#89c5c2"/><stop offset="0.357" stop-color="#8ac4b4"/><stop offset="0.393" stop-color="#8ac2a9"/><stop offset="0.429" stop-color="#8ac1a3"/><stop offset="0.5" stop-color="#8ac09a"/><stop offset="0.571" stop-color="#8abe91"/><stop offset="0.714" stop-color="#8abe71"/><stop offset="0.857" stop-color="#8ac35b"/><stop offset="1" stop-color="#8cc54d"/></linearGradient><linearGradient id="f44"><stop offset="0" stop-color="#527ba9"/><stop offset="0.05" stop-color="#527aa9"/><stop offset="0.107" stop-color="#547daa"/><stop offset="0.16" stop-color="#5884ad"/><stop offset="0.214" stop-color="#6091b3"/><stop offset="0.25" stop-color="#6a9fb9"/><stop offset="0.286" stop-color="#7bb4be"/><stop offset="0.321" stop-color="#8ac5be"/><stop offset="0.357" stop-color="#8ac3b1"/><stop offset="0.393" stop-color="#8ac2a7"/><stop offset="0.429" stop-color="#8ac1a2"/><stop offset="0.5" stop-color="#8ac09a"/><stop offset="0.571" stop-color="#8abe91"/><stop offset="0.714" stop-color="#8abe71"/><stop offset="0.857" stop-color="#8ac35b"/><stop offset="1" stop-color="#8cc54d"/></linearGradient><linearGradient id="f45"><stop offset="0" stop-color="#547eab"/><stop offset="0.05" stop-color="#547daa"/><stop offset="0.107" stop-color="#5681ac"/><stop offset="0.16" stop-color="#5a88af"/><stop offset="0.214" stop-color="#6597b5"/><stop offset="0.25" stop-color="#6fa6bb"/><stop offset="0.286" stop-color="#82bdc0"/><stop offset="0.321" stop-color="#8ac5ba"/><stop offset="0.357" stop-color="#8ac3ae"/><stop offset="0.393" stop-color="#8ac1a5"/><stop offset="0.429" stop-color="#8ac1a1"/><stop offset="0.5" stop-color="#8abf9a"/><stop offset="0.571" stop-color="#8abe91"/><stop offset="0.714" stop-color="#8abe70"/><stop offset="0.857" stop-color="#8ac35b"/><stop offset="1" stop-color="#8cc54d"/></linearGradient><linearGradient id="f46"><stop offset="0" stop-color="#5681ac"/><stop offset="0.05" stop-color="#5681ac"/><stop offset="0.107" stop-color="#5884ad"/><stop offset="0.16" stop-color="#5d8cb1"/><stop offset="0.214" stop-color="#699db8"/><stop offset="0.25" stop-color="#77afbd"/><stop offset="0.286" stop-color="#89c5c2"/><stop offset="0.321" stop-color="#8ac4b6"/><stop offset="0.357" stop-color="#8ac2ab"/><stop offset="0.393" stop-color="#8ac1a4"/><stop offset="0.429" stop-color="#8ac0a0"/><stop offset="0.5" stop-color="#8abf99"/><stop offset="0.571" stop-color="#8abe91"/><stop offset="0.714" stop-color="#8abe70"/><stop offset="0.857" stop-color="#8ac35b"/><stop offset="1" stop-color="#8cc54d"/></linearGradient><linearGradient id="f47"><stop offset="0" stop-color="#5985ae"/><stop offset="0.05" stop-color="#5884ad"/><stop offset="0.107" stop-color="#5b88af"/><stop offset="0.16" stop-color="#6292b3"/><stop offset="0.214" stop-color="#6ea4ba"/><stop offset="0.25" stop-color="#7fb8bf"/><stop offset="0.286" stop-color="#8ac5be"/><stop offset="0.321" stop-color="#8ac3b2"/><stop offset="0.357" stop-color="#8ac2a8"/><stop offset="0.393" stop-color="#8ac1a3"/><stop offset="0.429" stop-color="#8ac09f"/><stop offset="0.5" stop-color="#8abf99"/><stop offset="0.571" stop-color="#8abe90"/><stop offset="0.714" stop-color="#8abe70"/><stop offset="0.857" stop-color="#8ac35b"/><stop offset="1" stop-color="#8cc54d"/></linearGradient><linearGradient id="f48"><stop offset="0" stop-color="#5b89b0"/><stop offset="0.05" stop-color="#5b88af"/><stop offset="0.107" stop-color="#5e8db1"/><stop offset="0.16" stop-color="#6699b6"/><stop offset="0.214" stop-color="#75adbd"/><stop offset="0.25" stop-color="#86c1c1"/><stop offset="0.286" stop-color="#8ac5b9"/><stop offset="0.321" stop-color="#8ac3ae"/><stop offset="0.357" stop-color="#8ac1a6"/><stop offset="0.393" stop-color="#8ac1a2"/><stop offset="0.429" stop-color="#8ac09f"/><stop offset="0.5" stop-color="#8abf99"/><stop offset="0.571" stop-color="#8abe90"/><stop offset="0.714" stop-color="#8abe70"/><stop offset="0.857" stop-color="#8ac35b"/><stop offset="1" stop-color="#8cc54d"/></linearGradient><linearGradient id="f49"><stop offset="0" stop-color="#5f8fb2"/><stop offset="0.05" stop-color="#5e8db1"/><stop offset="0.107" stop-color="#6293b4"/><stop offset="0.16" stop-color="#6a9fb9"/><stop offset="0.214" stop-color="#7db7bf"/><stop offset="0.25" stop-color="#8ac6c0"/><stop offset="0.286" stop-color="#8ac4b5"/><stop offset="0.321" stop-color="#8ac2ab"/><stop offset="0.357" stop-color="#8ac1a5"/><stop offset="0.393" stop-color="#8ac1a1"/><stop offset="0.429" stop-color="#8ac09e"/><stop offset="0.5" stop-color="#8abf98"/><stop offset="0.571" stop-color="#8abe90"/><stop offset="0.714" stop-color="#8abe70"/><stop offset="0.857" stop-color="#8ac35b"/><stop offset="1" stop-color="#8cc54d"/></linearGradient><linearGradient id="f50"><stop offset="0" stop-color="#6395b5"/><stop offset="0.05" stop-color="#6293b4"/><stop offset="0.107" stop-color="#669ab6"/><stop offset="0.16" stop-color="#70a7bb"/><stop offset="0.214" stop-color="#85c0c1"/><stop offset="0.25" stop-color="#8ac5bb"/><stop offset="0.286" stop-color="#8ac3b1"/><stop offset="0.321" stop-color="#8ac2a9"/><stop offset="0.357" stop-color="#8ac1a3"/><stop offset="0.393" stop-color="#8ac0a0"/><stop offset="0.429" stop-color="#8ac09e"/><stop offset="0.5" stop-color="#8abf98"/><stop offset="0.571" stop-color="#8abe8f"/><stop offset="0.714" stop-color="#8abf70"/><stop offset="0.857" stop-color="#8ac35b"/><stop offset="1" stop-color="#8cc54d"/></linearGradient><linearGradient id="f51"><stop offset="0" stop-color="#689bb7"/><stop offset="0.05" stop-color="#669ab7"/><stop offset="0.107" stop-color="#6ba0b9"/><stop offset="0.16" stop-color="#78b1bd"/><stop offset="0.214" stop-color="#8ac6c0"/><stop offset="0.25" stop-color="#8ac4b7"/><stop offset="0.286" stop-color="#8ac3ae"/><stop offset="0.321" stop-color="#8ac1a7"/><stop offset="0.357" stop-color="#8ac1a2"/><stop offset="0.393" stop-color="#8ac09f"/><stop offset="0.429" stop-color="#8ac09d"/><stop offset="0.5" stop-color="#8abf98"/><stop offset="0.571" stop-color="#8abe8f"/><stop offset="0.714" stop-color="#8abf70"/><stop offset="0.857" stop-color="#8ac35b"/><stop offset="1" stop-color="#8cc54d"/></linearGradient><linearGradient id="f52"><stop offset="0" stop-color="#6ca2ba"/><stop offset="0.05" stop-color="#6ba0b9"/><stop offset="0.107" stop-color="#72a9bc"/><stop offset="0.16" stop-color="#80babf"/><stop offset="0.214" stop-color="#8ac5bb"/><stop offset="0.25" stop-color="#8ac3b2"/><stop offset="0.286" stop-color="#8ac2aa"/><stop offset="0.321" stop-color="#8ac1a5"/><stop offset="0.357" stop-color="#8ac1a1"/><stop offset="0.393" stop-color="#8ac09e"/><stop offset="0.429" stop-color="#8ac09c"/><stop offset="0.5" stop-color="#8abf97"/><stop offset="0.571" stop-color="#8abe8e"/><stop offset="0.714" stop-color="#8abf6f"/><stop offset="0.857" stop-color="#8ac35b"/><stop offset="1" stop-color="#8cc54d"/></linearGradient><linearGradient id="f53"><stop offset="0" stop-color="#75acbc"/><stop offset="0.05" stop-color="#72a9bc"/><stop offset="0.107" stop-color="#7ab3be"/><stop offset="0.16" stop-color="#88c4c1"/><stop offset="0.214" stop-color="#8ac4b7"/><stop offset="0.25" stop-color="#8ac3ae"/><stop offset="0.286" stop-color="#8ac2a8"/><stop offset="0.321" stop-color="#8ac1a3"/><stop offset="0.357" stop-color="#8ac0a0"/><stop offset="0.393" stop-color="#8ac09d"/><stop offset="0.429" stop-color="#8ac09c"/><stop offset="0.5" stop-color="#8abf97"/><stop offset="0.571" stop-color="#8abe8e"/><stop offset="0.714" stop-color="#8abf6f"/><stop offset="0.857" stop-color="#8ac35a"/><stop offset="1" stop-color="#8cc54d"/></linearGradient><linearGradient id="f54"><stop offset="0" stop-color="#7db6bf"/><stop offset="0.05" stop-color="#7bb4be"/><stop offset="0.107" stop-color="#82bdc0"/><stop offset="0.16" stop-color="#8ac5be"/><stop offset="0.214" stop-color="#8ac3b2"/><stop offset="0.25" stop-color="#8ac2ab"/><stop offset="0.286" stop-color="#8ac1a6"/><stop offset="0.321" stop-color="#8ac1a1"/><stop offset="0.357" stop-color="#8ac09f"/><stop offset="0.393" stop-color="#8ac09d"/><stop offset="0.429" stop-color="#8ac09b"/><stop offset="0.5" stop-color="#8abf96"/><stop offset="0.571" stop-color="#8abe8d"/><stop offset="0.714" stop-color="#8abf6f"/><stop offset="0.857" stop-color="#8ac35a"/><stop offset="1" stop-color="#8cc54d"/></linearGradient><linearGradient id="f55"><stop offset="0" stop-color="#85c0c1"/><stop offset="0.05" stop-color="#83bec0"/><stop offset="0.107" stop-color="#8ac6c2"/><stop offset="0.16" stop-color="#8ac4b9"/><stop offset="0.214" stop-color="#8ac3ae"/><stop offset="0.25" stop-color="#8ac2a8"/><stop offset="0.286" stop-color="#8ac1a4"/><stop offset="0.321" stop-color="#8ac0a0"/><stop offset="0.357" stop-color="#8ac09e"/><stop offset="0.393" stop-color="#8ac09c"/><stop offset="0.429" stop-color="#8ac09b"/><stop offset="0.5" stop-color="#8abf96"/><stop offset="0.571" stop-color="#8abe8d"/><stop offset="0.714" stop-color="#8abf6f"/><stop offset="0.857" stop-color="#8ac35a"/><stop offset="1" stop-color="#8cc54d"/></linearGradient><linearGradient id="f56"><stop offset="0" stop-color="#8ac6bf"/><stop offset="0.05" stop-color="#8ac6c1"/><stop offset="0.107" stop-color="#8ac5bc"/><stop offset="0.16" stop-color="#8ac4b4"/><stop offset="0.214" stop-color="#8ac2aa"/><stop offset="0.25" stop-color="#8ac1a5"/><stop offset="0.286" stop-color="#8ac1a2"/><stop offset="0.321" stop-color="#8ac09f"/><stop offset="0.357" stop-color="#8ac09d"/><stop offset="0.393" stop-color="#8ac09b"/><stop offset="0.429" stop-color="#8ac09a"/><stop offset="0.5" stop-color="#8abf95"/><stop offset="0.571" stop-color="#8abe8c"/><stop offset="0.714" stop-color="#8abf6e"/><stop offset="0.857" stop-color="#8ac35a"/><stop offset="1" stop-color="#8cc54d"/></linearGradient><linearGradient id="f57"><stop offset="0" stop-color="#8ac5ba"/><stop offset="0.05" stop-color="#8ac5bb"/><stop offset="0.107" stop-color="#8ac4b7"/><stop offset="0.16" stop-color="#8ac3af"/><stop offset="0.214" stop-color="#8ac2a7"/><stop offset="0.25" stop-color="#8ac1a3"/><stop offset="0.286" stop-color="#8ac0a0"/><stop offset="0.321" stop-color="#8ac09e"/><stop offset="0.357" stop-color="#8ac09c"/><stop offset="0.393" stop-color="#8ac09a"/><stop offset="0.429" stop-color="#8abf99"/><stop offset="0.5" stop-color="#8abf94"/><stop offset="0.571" stop-color="#8abe8c"/><stop offset="0.714" stop-color="#8abf6e"/><stop offset="0.857" stop-color="#8ac35a"/><stop offset="1" stop-color="#8cc54d"/></linearGradient><linearGradient id="f58"><stop offset="0" stop-color="#8ac4b4"/><stop offset="0.05" stop-color="#8ac4b6"/><stop offset="0.107" stop-color="#8ac3b2"/><stop offset="0.16" stop-color="#8ac2ab"/><stop offset="0.214" stop-color="#8ac1a4"/><stop offset="0.25" stop-color="#8ac1a1"/><stop offset="0.286" stop-color="#8ac09f"/><stop offset="0.321" stop-color="#8ac09d"/><stop offset="0.357" stop-color="#8ac09b"/><stop offset="0.393" stop-color="#8abf9a"/><stop offset="0.429" stop-color="#8abf99"/><stop offset="0.5" stop-color="#8abf94"/><stop offset="0.571" stop-color="#8abe8b"/><stop offset="0.714" stop-color="#8abf6e"/><stop offset="0.857" stop-color="#8ac35a"/><stop offset="1" stop-color="#8cc54d"/></linearGradient><linearGradient id="f59"><stop offset="0" stop-color="#8ac3af"/><stop offset="0.05" stop-color="#8ac3b1"/><stop offset="0.107" stop-color="#8ac2ad"/><stop offset="0.16" stop-color="#8ac2a7"/><stop offset="0.214" stop-color="#8ac1a2"/><stop offset="0.25" stop-color="#8ac09f"/><stop offset="0.286" stop-color="#8ac09d"/><stop offset="0.321" stop-color="#8ac09c"/><stop offset="0.357" stop-color="#8ac09a"/><stop offset="0.393" stop-color="#8abf99"/><stop offset="0.429" stop-color="#8abf98"/><stop offset="0.5" stop-color="#8abe93"/><stop offset="0.571" stop-color="#8abe8a"/><stop offset="0.714" stop-color="#8abf6d"/><stop offset="0.857" stop-color="#8ac35a"/><stop offset="1" stop-color="#8cc54d"/></linearGradient><linearGradient id="f60"><stop offset="0" stop-color="#8ac2aa"/><stop offset="0.05" stop-color="#8ac2ac"/><stop offset="0.107" stop-color="#8ac2a9"/><stop offset="0.16" stop-color="#8ac1a4"/><stop offset="0.214" stop-color="#8ac0a0"/><stop offset="0.25" stop-color="#8ac09d"/><stop offset="0.286" stop-color="#8ac09c"/><stop offset="0.321" stop-color="#8ac09a"/><stop offset="0.357" stop-color="#8abf99"/><stop offset="0.393" stop-color="#8abf98"/><stop offset="0.429" stop-color="#8abf97"/><stop offset="0.5" stop-color="#8abe92"/><stop offset="0.571" stop-color="#8abe89"/><stop offset="0.714" stop-color="#8abf6d"/><stop offset="0.857" stop-color="#8ac35a"/><stop offset="1" stop-color="#8cc54d"/></linearGradient><linearGradient id="f61"><stop offset="0" stop-color="#8ac1a6"/><stop offset="0.05" stop-color="#8ac2a7"/><stop offset="0.107" stop-color="#8ac1a5"/><stop offset="0.16" stop-color="#8ac1a1"/><stop offset="0.214" stop-color="#8ac09d"/><stop offset="0.25" stop-color="#8ac09c"/><stop offset="0.286" stop-color="#8ac09b"/><stop offset="0.321" stop-color="#8abf99"/><stop offset="0.357" stop-color="#8abf98"/><stop offset="0.393" stop-color="#8abf97"/><stop offset="0.429" stop-color="#8abf96"/><stop offset="0.5" stop-color="#8abe92"/><stop offset="0.571" stop-color="#8abe89"/><stop offset="0.714" stop-color="#8abf6d"/><stop offset="0.857" stop-color="#8ac359"/><stop offset="1" stop-color="#8cc54d"/></linearGradient><linearGradient id="f62"><stop offset="0" stop-color="#8ac1a2"/><stop offset="0.05" stop-color="#8ac1a3"/><stop offset="0.107" stop-color="#8ac1a2"/><stop offset="0.16" stop-color="#8ac09e"/><stop offset="0.214" stop-color="#8ac09b"/><stop offset="0.25" stop-color="#8ac09a"/><stop offset="0.286" stop-color="#8abf99"/><stop offset="0.321" stop-color="#8abf98"/><stop offset="0.357" stop-color="#8abf97"/><stop offset="0.393" stop-color="#8abf96"/><stop offset="0.429" stop-color="#8abf95"/><stop offset="0.5" stop-color="#8abe91"/><stop offset="0.571" stop-color="#8abe88"/><stop offset="0.714" stop-color="#8abf6c"/><stop offset="0.857" stop-color="#8ac359"/><stop offset="1" stop-color="#8cc54d"/></linearGradient><linearGradient id="f63"><stop offset="0" stop-color="#8ac09e"/><stop offset="0.05" stop-color="#8ac0a0"/><stop offset="0.107" stop-color="#8ac09e"/><stop offset="0.16" stop-color="#8ac09c"/><stop offset="0.214" stop-color="#8abf99"/><stop offset="0.25" stop-color="#8abf98"/><stop offset="0.286" stop-color="#8abf98"/><stop offset="0.321" stop-color="#8abf97"/><stop offset="0.357" stop-color="#8abf96"/><stop offset="0.393" stop-color="#8abf95"/><stop offset="0.429" stop-color="#8abf94"/><stop offset="0.5" stop-color="#8abe8f"/><stop offset="0.571" stop-color="#8abe86"/><stop offset="0.714" stop-color="#8abf6c"/><stop offset="0.857" stop-color="#8ac359"/><stop offset="1" stop-color="#8cc54c"/></linearGradient><linearGradient id="f64"><stop offset="0" stop-color="#8ac09a"/><stop offset="0.05" stop-color="#8ac09c"/><stop offset="0.107" stop-color="#8ac09b"/><stop offset="0.16" stop-color="#8abf99"/><stop offset="0.214" stop-color="#8abf97"/><stop offset="0.25" stop-color="#8abf96"/><stop offset="0.286" stop-color="#8abf96"/><stop offset="0.321" stop-color="#8abf95"/><stop offset="0.357" stop-color="#8abf94"/><stop offset="0.393" stop-color="#8abe93"/><stop offset="0.429" stop-color="#8abe92"/><stop offset="0.5" stop-color="#8abe8d"/><stop offset="0.571" stop-color="#8abe85"/><stop offset="0.714" stop-color="#8ac06b"/><stop offset="0.857" stop-color="#8ac359"/><stop offset="1" stop-color="#8cc54c"/></linearGradient><linearGradient id="f65"><stop offset="0" stop-color="#8abf96"/><stop offset="0.05" stop-color="#8abf97"/><stop offset="0.107" stop-color="#8abf97"/><stop offset="0.16" stop-color="#8abf95"/><stop offset="0.214" stop-color="#8abf94"/><stop offset="0.25" stop-color="#8abf93"/><stop offset="0.286" stop-color="#8abf93"/><stop offset="0.321" stop-color="#8abe92"/><stop offset="0.357" stop-color="#8abe92"/><stop offset="0.393" stop-color="#8abe91"/><stop offset="0.429" stop-color="#8abe90"/><stop offset="0.5" stop-color="#8abe8b"/><stop offset="0.571" stop-color="#8abe82"/><stop offset="0.714" stop-color="#8ac06a"/><stop offset="0.857" stop-color="#8bc358"/><stop offset="1" stop-color="#8cc54c"/></linearGradient><linearGradient id="f66"><stop offset="0" stop-color="#8abe91"/><stop offset="0.05" stop-color="#8abe92"/><stop offset="0.107" stop-color="#8abe92"/><stop offset="0.16" stop-color="#8abe91"/><stop offset="0.214" stop-color="#8abe90"/><stop offset="0.25" stop-color="#8abe90"/><stop offset="0.286" stop-color="#8abe90"/><stop offset="0.321" stop-color="#8abe8f"/><stop offset="0.357" stop-color="#8abe8e"/><stop offset="0.393" stop-color="#8abe8d"/><stop offset="0.429" stop-color="#8abe8c"/><stop offset="0.5" stop-color="#8abe87"/><stop offset="0.571" stop-color="#8abe7f"/><stop offset="0.714" stop-color="#8ac068"/><stop offset="0.857" stop-color="#8bc358"/><stop offset="1" stop-color="#8cc54c"/></linearGradient><linearGradient id="f67"><stop offset="0" stop-color="#8abe8a"/><stop offset="0.05" stop-color="#8abe8b"/><stop offset="0.107" stop-color="#8abe8b"/><stop offset="0.16" stop-color="#8abe8b"/><stop offset="0.214" stop-color="#8abe8a"/><stop offset="0.25" stop-color="#8abe8a"/><stop offset="0.286" stop-color="#8abe8a"/><stop offset="0.321" stop-color="#8abe89"/><stop offset="0.357" stop-color="#8abe88"/><stop offset="0.393" stop-color="#8abe87"/><stop offset="0.429" stop-color="#8abe86"/><stop offset="0.5" stop-color="#8abe82"/><stop offset="0.571" stop-color="#8abe7a"/><stop offset="0.714" stop-color="#8ac166"/><stop offset="0.857" stop-color="#8bc457"/><stop offset="1" stop-color="#8cc54c"/></linearGradient><linearGradient id="f68"><stop offset="0" stop-color="#8abe81"/><stop offset="0.05" stop-color="#8abe83"/><stop offset="0.107" stop-color="#8abe83"/><stop offset="0.16" stop-color="#8abe82"/><stop offset="0.214" stop-color="#8abe82"/><stop offset="0.25" stop-color="#8abe82"/><stop offset="0.286" stop-color="#8abe82"/><stop offset="0.321" stop-color="#8abe82"/><stop offset="0.357" stop-color="#8abe81"/><stop offset="0.393" stop-color="#8abe80"/><stop offset="0.429" stop-color="#8abe7f"/><stop offset="0.5" stop-color="#8abe7b"/><stop offset="0.571" stop-color="#8abe74"/><stop offset="0.714" stop-color="#8ac163"/><stop offset="0.857" stop-color="#8bc456"/><stop offset="1" stop-color="#8cc54c"/></linearGradient><linearGradient id="f69"><stop offset="0" stop-color="#8abe77"/><stop offset="0.05" stop-color="#8abe78"/><stop offset="0.107" stop-color="#8abe78"/><stop offset="0.16" stop-color="#8abe78"/><stop offset="0.214" stop-color="#8abe78"/><stop offset="0.25" stop-color="#8abe78"/><stop offset="0.286" stop-color="#8abe78"/><stop offset="0.321" stop-color="#8abe78"/><stop offset="0.357" stop-color="#8abe77"/><stop offset="0.393" stop-color="#8abe76"/><stop offset="0.429" stop-color="#8abe75"/><stop offset="0.5" stop-color="#8abe72"/><stop offset="0.571" stop-color="#8abf6e"/><stop offset="0.714" stop-color="#8ac25f"/><stop offset="0.857" stop-color="#8bc454"/><stop offset="1" stop-color="#8dc54b"/></linearGradient><linearGradient id="f70"><stop offset="0" stop-color="#8abf6d"/><stop offset="0.05" stop-color="#8abf6d"/><stop offset="0.107" stop-color="#8abf6e"/><stop offset="0.16" stop-color="#8abf6e"/><stop offset="0.214" stop-color="#8abf6e"/><stop offset="0.25" stop-color="#8abf6e"/><stop offset="0.286" stop-color="#8abf6e"/><stop offset="0.321" stop-color="#8abf6e"/><stop offset="0.357" stop-color="#8abf6d"/><stop offset="0.393" stop-color="#8abf6d"/><stop offset="0.429" stop-color="#8abf6c"/><stop offset="0.5" stop-color="#8ac06a"/><stop offset="0.571" stop-color="#8ac167"/><stop offset="0.714" stop-color="#8ac35b"/><stop offset="0.857" stop-color="#8bc452"/><stop offset="1" stop-color="#8dc54b"/></linearGradient><linearGradient id="f71"><stop offset="0" stop-color="#8ac163"/><stop offset="0.05" stop-color="#8ac164"/><stop offset="0.107" stop-color="#8ac164"/><stop offset="0.16" stop-color="#8ac164"/><stop offset="0.214" stop-color="#8ac164"/><stop offset="0.25" stop-color="#8ac164"/><stop offset="0.286" stop-color="#8ac164"/><stop offset="0.321" stop-color="#8ac164"/><stop offset="0.357" stop-color="#8ac164"/><stop offset="0.393" stop-color="#8ac163"/><stop offset="0.429" stop-color="#8ac163"/><stop offset="0.5" stop-color="#8ac261"/><stop offset="0.571" stop-color="#8ac25f"/><stop offset="0.714" stop-color="#8bc457"/><stop offset="0.857" stop-color="#8cc450"/><stop offset="1" stop-color="#8dc54a"/></linearGradient><linearGradient id="f72"><stop offset="0" stop-color="#8ac35a"/><stop offset="0.05" stop-color="#8ac35a"/><stop offset="0.107" stop-color="#8ac35a"/><stop offset="0.16" stop-color="#8ac35b"/><stop offset="0.214" stop-color="#8ac35b"/><stop offset="0.25" stop-color="#8ac35b"/><stop offset="0.286" stop-color="#8ac35b"/><stop offset="0.321" stop-color="#8ac35b"/><stop offset="0.357" stop-color="#8ac35a"/><stop offset="0.393" stop-color="#8ac35a"/><stop offset="0.429" stop-color="#8ac35a"/><stop offset="0.5" stop-color="#8ac359"/><stop offset="0.571" stop-color="#8bc358"/><stop offset="0.714" stop-color="#8bc453"/><stop offset="0.857" stop-color="#8cc44e"/><stop offset="1" stop-color="#8dc54a"/></linearGradient><linearGradient id="f73"><stop offset="0" stop-color="#8bc453"/><stop offset="0.05" stop-color="#8bc453"/><stop offset="0.107" stop-color="#8bc453"/><stop offset="0.16" stop-color="#8bc454"/><stop offset="0.214" stop-color="#8bc454"/><stop offset="0.25" stop-color="#8bc454"/><stop offset="0.286" stop-color="#8bc454"/><stop offset="0.321" stop-color="#8bc454"/><stop offset="0.357" stop-color="#8bc453"/><stop offset="0.393" stop-color="#8bc453"/><stop offset="0.429" stop-color="#8bc453"/><stop offset="0.5" stop-color="#8bc453"/><stop offset="0.571" stop-color="#8cc452"/><stop offset="0.714" stop-color="#8cc44f"/><stop offset="0.857" stop-color="#8cc54c"/><stop offset="1" stop-color="#8dc549"/></linearGradient><linearGradient id="f74"><stop offset="0" stop-color="#8cc44d"/><stop offset="0.05" stop-color="#8cc44e"/><stop offset="0.107" stop-color="#8cc44e"/><stop offset="0.16" stop-color="#8cc44e"/><stop offset="0.214" stop-color="#8cc44e"/><stop offset="0.25" stop-color="#8cc44e"/><stop offset="0.286" stop-color="#8cc44e"/><stop offset="0.321" stop-color="#8cc44e"/><stop offset="0.357" stop-color="#8cc44e"/><stop offset="0.393" stop-color="#8cc44e"/><stop offset="0.429" stop-color="#8cc44e"/><stop offset="0.5" stop-color="#8cc44d"/><stop offset="0.571" stop-color="#8cc54d"/><stop offset="0.714" stop-color="#8dc54b"/><stop offset="0.857" stop-color="#8dc54a"/><stop offset="1" stop-color="#8dc548"/></linearGradient><linearGradient id="f75"><stop offset="0" stop-color="#8dc54a"/><stop offset="0.05" stop-color="#8dc54a"/><stop offset="0.107" stop-color="#8dc54a"/><stop offset="0.16" stop-color="#8dc54a"/><stop offset="0.214" stop-color="#8dc54a"/><stop offset="0.25" stop-color="#8dc54a"/><stop offset="0.286" stop-color="#8dc54a"/><stop offset="0.321" stop-color="#8dc54a"/><stop offset="0.357" stop-color="#8dc54a"/><stop offset="0.393" stop-color="#8dc54a"/><stop offset="0.429" stop-color="#8dc54a"/><stop offset="0.5" stop-color="#8dc54a"/><stop offset="0.571" stop-color="#8dc549"/><stop offset="0.714" stop-color="#8dc549"/><stop offset="0.857" stop-color="#8dc549"/><stop offset="1" stop-color="#8dc548"/></linearGradient><linearGradient id="f76"><stop offset="0" stop-color="#8dc548"/><stop offset="0.05" stop-color="#8dc548"/><stop offset="0.107" stop-color="#8dc548"/><stop offset="0.16" stop-color="#8dc548"/><stop offset="0.214" stop-color="#8dc548"/><stop offset="0.25" stop-color="#8dc548"/><stop offset="0.286" stop-color="#8dc548"/><stop offset="0.321" stop-color="#8dc548"/><stop offset="0.357" stop-color="#8dc548"/><stop offset="0.393" stop-color="#8dc548"/><stop offset="0.429" stop-color="#8dc548"/><stop offset="0.5" stop-color="#8dc548"/><stop offset="0.571" stop-color="#8dc548"/><stop offset="0.714" stop-color="#8dc548"/><stop offset="0.857" stop-color="#8dc548"/><stop offset="1" stop-color="#8dc548"/></linearGradient><linearGradient id="f77"><stop offset="0" stop-color="#90c649"/><stop offset="0.05" stop-color="#8fc649"/><stop offset="0.107" stop-color="#8fc648"/><stop offset="0.16" stop-color="#8ec648"/><stop offset="0.214" stop-color="#8ec648"/><stop offset="0.25" stop-color="#8ec648"/><stop offset="0.286" stop-color="#8ec648"/><stop offset="0.321" stop-color="#8ec648"/><stop offset="0.357" stop-color="#8ec648"/><stop offset="0.393" stop-color="#8ec648"/><stop offset="0.429" stop-color="#8ec648"/><stop offset="0.5" stop-color="#8ec548"/><stop offset="0.571" stop-color="#8ec548"/><stop offset="0.714" stop-color="#8ec548"/><stop offset="0.857" stop-color="#8dc548"/><stop offset="1" stop-color="#8dc548"/></linearGradient><linearGradient id="f78"><stop offset="0" stop-color="#97ca4b"/><stop offset="0.05" stop-color="#96c94a"/><stop offset="0.107" stop-color="#94c84a"/><stop offset="0.16" stop-color="#93c84a"/><stop offset="0.214" stop-color="#93c84a"/><stop offset="0.25" stop-color="#93c84a"/><stop offset="0.286" stop-color="#92c849"/><stop offset="0.321" stop-color="#92c849"/><stop offset="0.357" stop-color="#92c849"/><stop offset="0.393" stop-color="#92c749"/><stop offset="0.429" stop-color="#92c749"/><stop offset="0.5" stop-color="#92c749"/><stop offset="0.571" stop-color="#91c749"/><stop offset="0.714" stop-color="#90c649"/><stop offset="0.857" stop-color="#8ec648"/><stop offset="1" stop-color="#8dc548"/></linearGradient><linearGradient id="f79"><stop offset="0" stop-color="#a0ce4d"/><stop offset="0.05" stop-color="#9ecd4d"/><stop offset="0.107" stop-color="#9ccc4c"/><stop offset="0.16" stop-color="#9bcc4c"/><stop offset="0.214" stop-color="#9acb4b"/><stop offset="0.25" stop-color="#99cb4b"/><stop offset="0.286" stop-color="#99cb4b"/><stop offset="0.321" stop-color="#99cb4b"/><stop offset="0.357" stop-color="#99cb4b"/><stop offset="0.393" stop-color="#98ca4b"/><stop offset="0.429" stop-color="#98ca4b"/><stop offset="0.5" stop-color="#97ca4b"/><stop offset="0.571" stop-color="#96c94a"/><stop offset="0.714" stop-color="#93c84a"/><stop offset="0.857" stop-color="#90c649"/><stop offset="1" stop-color="#8ec548"/></linearGradient><linearGradient id="f80"><stop offset="0" stop-color="#a7d24f"/><stop offset="0.05" stop-color="#a6d14f"/><stop offset="0.107" stop-color="#a4d04e"/><stop offset="0.16" stop-color="#a2cf4e"/><stop offset="0.214" stop-color="#a1cf4e"/><stop offset="0.25" stop-color="#a1cf4d"/><stop offset="0.286" stop-color="#a1ce4d"/><stop offset="0.321" stop-color="#a0ce4d"/><stop offset="0.357" stop-color="#a0ce4d"/><stop offset="0.393" stop-color="#a0ce4d"/><stop offset="0.429" stop-color="#9fce4d"/><stop offset="0.5" stop-color="#9fcd4d"/><stop offset="0.571" stop-color="#9ccc4c"/><stop offset="0.714" stop-color="#97ca4b"/><stop offset="0.857" stop-color="#92c749"/><stop offset="1" stop-color="#8ec648"/></linearGradient><linearGradient id="f81"><stop offset="0" stop-color="#acd451"/><stop offset="0.05" stop-color="#add453"/><stop offset="0.107" stop-color="#abd451"/><stop offset="0.16" stop-color="#aad350"/><stop offset="0.214" stop-color="#a8d250"/><stop offset="0.25" stop-color="#a8d24f"/><stop offset="0.286" stop-color="#a8d24f"/><stop offset="0.321" stop-color="#a8d24f"/><stop offset="0.357" stop-color="#a8d24f"/><stop offset="0.393" stop-color="#a7d24f"/><stop offset="0.429" stop-color="#a7d24f"/><stop offset="0.5" stop-color="#a6d14f"/><stop offset="0.571" stop-color="#a3cf4e"/><stop offset="0.714" stop-color="#9bcc4c"/><stop offset="0.857" stop-color="#94c84a"/><stop offset="1" stop-color="#8fc649"/></linearGradient><linearGradient id="f82"><stop offset="0" stop-color="#b0d655"/><stop offset="0.05" stop-color="#b3d758"/><stop offset="0.107" stop-color="#b3d758"/><stop offset="0.16" stop-color="#b1d656"/><stop offset="0.214" stop-color="#b0d655"/><stop offset="0.25" stop-color="#b0d655"/><stop offset="0.286" stop-color="#b0d655"/><stop offset="0.321" stop-color="#b0d655"/><stop offset="0.357" stop-color="#b0d656"/><stop offset="0.393" stop-color="#b0d655"/><stop offset="0.429" stop-color="#afd554"/><stop offset="0.5" stop-color="#aed553"/><stop offset="0.571" stop-color="#a9d250"/><stop offset="0.714" stop-color="#a0ce4d"/><stop offset="0.857" stop-color="#96c94a"/><stop offset="1" stop-color="#90c649"/></linearGradient><linearGradient id="f83"><stop offset="0" stop-color="#b4d859"/><stop offset="0.05" stop-color="#b8d95c"/><stop offset="0.107" stop-color="#b8da5c"/><stop offset="0.16" stop-color="#b7d95b"/><stop offset="0.214" stop-color="#b6d95b"/><stop offset="0.25" stop-color="#b6d95b"/><stop offset="0.286" stop-color="#b6d95b"/><stop offset="0.321" stop-color="#b7d95c"/><stop offset="0.357" stop-color="#b8d95c"/><stop offset="0.393" stop-color="#b7d95c"/><stop offset="0.429" stop-color="#b7d95b"/><stop offset="0.5" stop-color="#b6d85a"/><stop offset="0.571" stop-color="#afd555"/><stop offset="0.714" stop-color="#a3d04e"/><stop offset="0.857" stop-color="#98ca4b"/><stop offset="1" stop-color="#90c749"/></linearGradient><linearGradient id="f84"><stop offset="0" stop-color="#b8da5d"/><stop offset="0.05" stop-color="#bcdc60"/><stop offset="0.107" stop-color="#bddc61"/><stop offset="0.16" stop-color="#bcdb60"/><stop offset="0.214" stop-color="#bbdb5f"/><stop offset="0.25" stop-color="#bbdb5f"/><stop offset="0.286" stop-color="#bbdb60"/><stop offset="0.321" stop-color="#bcdc60"/><stop offset="0.357" stop-color="#bddc61"/><stop offset="0.393" stop-color="#bddc61"/><stop offset="0.429" stop-color="#bddc61"/><stop offset="0.5" stop-color="#bcdb60"/><stop offset="0.571" stop-color="#b5d859"/><stop offset="0.714" stop-color="#a6d14f"/><stop offset="0.857" stop-color="#99cb4b"/><stop offset="1" stop-color="#91c749"/></linearGradient><linearGradient id="f85"><stop offset="0" stop-color="#bddc60"/><stop offset="0.05" stop-color="#c1de64"/><stop offset="0.107" stop-color="#c1de64"/><stop offset="0.16" stop-color="#c0dd63"/><stop offset="0.214" stop-color="#bedd62"/><stop offset="0.25" stop-color="#bfdd62"/><stop offset="0.286" stop-color="#bfdd63"/><stop offset="0.321" stop-color="#c0de64"/><stop offset="0.357" stop-color="#c2de65"/><stop offset="0.393" stop-color="#c1de65"/><stop offset="0.429" stop-color="#c1de65"/><stop offset="0.5" stop-color="#c0de64"/><stop offset="0.571" stop-color="#b9da5d"/><stop offset="0.714" stop-color="#a8d250"/><stop offset="0.857" stop-color="#9bcc4c"/><stop offset="1" stop-color="#91c749"/></linearGradient><linearGradient id="f86"><stop offset="0" stop-color="#c1de65"/><stop offset="0.05" stop-color="#c5e068"/><stop offset="0.107" stop-color="#c6e068"/><stop offset="0.16" stop-color="#c4df67"/><stop offset="0.214" stop-color="#c2de65"/><stop offset="0.25" stop-color="#c2de65"/><stop offset="0.286" stop-color="#c2de66"/><stop offset="0.321" stop-color="#c3df67"/><stop offset="0.357" stop-color="#c5e068"/><stop offset="0.393" stop-color="#c5e068"/><stop offset="0.429" stop-color="#c5e068"/><stop offset="0.5" stop-color="#c4df67"/><stop offset="0.571" stop-color="#bcdc60"/><stop offset="0.714" stop-color="#aad350"/><stop offset="0.857" stop-color="#9bcc4c"/><stop offset="1" stop-color="#91c749"/></linearGradient><linearGradient id="f87"><stop offset="0" stop-color="#c7e069"/><stop offset="0.05" stop-color="#cbe26d"/><stop offset="0.107" stop-color="#cae26d"/><stop offset="0.16" stop-color="#c8e16a"/><stop offset="0.214" stop-color="#c5e068"/><stop offset="0.25" stop-color="#c5e068"/><stop offset="0.286" stop-color="#c5e068"/><stop offset="0.321" stop-color="#c6e069"/><stop offset="0.357" stop-color="#c7e16a"/><stop offset="0.393" stop-color="#c7e16a"/><stop offset="0.429" stop-color="#c7e16a"/><stop offset="0.5" stop-color="#c7e16a"/><stop offset="0.571" stop-color="#bfdd62"/><stop offset="0.714" stop-color="#acd452"/><stop offset="0.857" stop-color="#9ccc4c"/><stop offset="1" stop-color="#92c749"/></linearGradient><linearGradient id="f88"><stop offset="0" stop-color="#cce36e"/><stop offset="0.05" stop-color="#d0e571"/><stop offset="0.107" stop-color="#cfe571"/><stop offset="0.16" stop-color="#cce36e"/><stop offset="0.214" stop-color="#c9e16b"/><stop offset="0.25" stop-color="#c8e16a"/><stop offset="0.286" stop-color="#c8e16a"/><stop offset="0.321" stop-color="#c8e16b"/><stop offset="0.357" stop-color="#cae26c"/><stop offset="0.393" stop-color="#cae26c"/><stop offset="0.429" stop-color="#cae26c"/><stop offset="0.5" stop-color="#c9e26c"/><stop offset="0.571" stop-color="#c1de64"/><stop offset="0.714" stop-color="#aed553"/><stop offset="0.857" stop-color="#9dcd4c"/><stop offset="1" stop-color="#92c749"/></linearGradient><linearGradient id="f89"><stop offset="0" stop-color="#d2e672"/><stop offset="0.05" stop-color="#d6e875"/><stop offset="0.107" stop-color="#d5e874"/><stop offset="0.16" stop-color="#d1e572"/><stop offset="0.214" stop-color="#cce36e"/><stop offset="0.25" stop-color="#cbe26d"/><stop offset="0.286" stop-color="#cae26d"/><stop offset="0.321" stop-color="#cbe26d"/><stop offset="0.357" stop-color="#cce36e"/><stop offset="0.393" stop-color="#cce36e"/><stop offset="0.429" stop-color="#cce36e"/><stop offset="0.5" stop-color="#cbe36d"/><stop offset="0.571" stop-color="#c3df66"/><stop offset="0.714" stop-color="#afd554"/><stop offset="0.857" stop-color="#9dcd4c"/><stop offset="1" stop-color="#92c749"/></linearGradient><linearGradient id="f90"><stop offset="0" stop-color="#d8e976"/><stop offset="0.05" stop-color="#ddeb78"/><stop offset="0.107" stop-color="#dbeb77"/><stop offset="0.16" stop-color="#d6e875"/><stop offset="0.214" stop-color="#d0e571"/><stop offset="0.25" stop-color="#cee470"/><stop offset="0.286" stop-color="#cde36f"/><stop offset="0.321" stop-color="#cde36f"/><stop offset="0.357" stop-color="#cee470"/><stop offset="0.393" stop-color="#cee470"/><stop offset="0.429" stop-color="#cde46f"/><stop offset="0.5" stop-color="#cde36f"/><stop offset="0.571" stop-color="#c4df67"/><stop offset="0.714" stop-color="#b0d655"/><stop offset="0.857" stop-color="#9dcd4d"/><stop offset="1" stop-color="#92c749"/></linearGradient><linearGradient id="f91"><stop offset="0" stop-color="#dfec7a"/><stop offset="0.05" stop-color="#e3ef7c"/><stop offset="0.107" stop-color="#e1ee7b"/><stop offset="0.16" stop-color="#dceb78"/><stop offset="0.214" stop-color="#d5e774"/><stop offset="0.25" stop-color="#d2e672"/><stop offset="0.286" stop-color="#d0e571"/><stop offset="0.321" stop-color="#cfe571"/><stop offset="0.357" stop-color="#d0e571"/><stop offset="0.393" stop-color="#d0e571"/><stop offset="0.429" stop-color="#cfe571"/><stop offset="0.5" stop-color="#cfe470"/><stop offset="0.571" stop-color="#c6e069"/><stop offset="0.714" stop-color="#b1d656"/><stop offset="0.857" stop-color="#9ecd4d"/><stop offset="1" stop-color="#92c749"/></linearGradient><linearGradient id="f92"><stop offset="0" stop-color="#e6f07d"/><stop offset="0.05" stop-color="#eaf280"/><stop offset="0.107" stop-color="#e8f17f"/><stop offset="0.16" stop-color="#e2ee7b"/><stop offset="0.214" stop-color="#daea77"/><stop offset="0.25" stop-color="#d6e874"/><stop offset="0.286" stop-color="#d3e773"/><stop offset="0.321" stop-color="#d2e672"/><stop offset="0.357" stop-color="#d2e672"/><stop offset="0.393" stop-color="#d2e672"/><stop offset="0.429" stop-color="#d1e672"/><stop offset="0.5" stop-color="#d0e571"/><stop offset="0.571" stop-color="#c7e16a"/><stop offset="0.714" stop-color="#b2d757"/><stop offset="0.857" stop-color="#9ecd4d"/><stop offset="1" stop-color="#92c849"/></linearGradient><linearGradient id="f93"><stop offset="0" stop-color="#ecf380"/><stop offset="0.05" stop-color="#eff580"/><stop offset="0.107" stop-color="#edf480"/><stop offset="0.16" stop-color="#e8f17f"/><stop offset="0.214" stop-color="#dfec7a"/><stop offset="0.25" stop-color="#daea77"/><stop offset="0.286" stop-color="#d6e875"/><stop offset="0.321" stop-color="#d5e774"/><stop offset="0.357" stop-color="#d4e774"/><stop offset="0.393" stop-color="#d3e773"/><stop offset="0.429" stop-color="#d3e673"/><stop offset="0.5" stop-color="#d2e672"/><stop offset="0.571" stop-color="#c8e16b"/><stop offset="0.714" stop-color="#b3d758"/><stop offset="0.857" stop-color="#9ecd4d"/><stop offset="1" stop-color="#92c849"/></linearGradient><linearGradient id="f94"><stop offset="0" stop-color="#f1f680"/><stop offset="0.05" stop-color="#f4f880"/><stop offset="0.107" stop-color="#f2f780"/><stop offset="0.16" stop-color="#edf480"/><stop offset="0.214" stop-color="#e4ef7d"/><stop offset="0.25" stop-color="#dfec79"/><stop offset="0.286" stop-color="#daea77"/><stop offset="0.321" stop-color="#d8e975"/><stop offset="0.357" stop-color="#d7e875"/><stop offset="0.393" stop-color="#d5e874"/><stop offset="0.429" stop-color="#d5e774"/><stop offset="0.5" stop-color="#d4e773"/><stop offset="0.571" stop-color="#cae26c"/><stop offset="0.714" stop-color="#b3d758"/><stop offset="0.857" stop-color="#9fce4d"/><stop offset="1" stop-color="#92c84a"/></linearGradient><linearGradient id="f95"><stop offset="0" stop-color="#f6f980"/><stop offset="0.05" stop-color="#f9fb80"/><stop offset="0.107" stop-color="#f7fa80"/><stop offset="0.16" stop-color="#f2f780"/><stop offset="0.214" stop-color="#eaf280"/><stop offset="0.25" stop-color="#e3ef7c"/><stop offset="0.286" stop-color="#deec79"/><stop offset="0.321" stop-color="#dbea77"/><stop offset="0.357" stop-color="#d9ea76"/><stop offset="0.393" stop-color="#d7e975"/><stop offset="0.429" stop-color="#d6e875"/><stop offset="0.5" stop-color="#d5e874"/><stop offset="0.571" stop-color="#cbe36d"/><stop offset="0.714" stop-color="#b4d859"/><stop offset="0.857" stop-color="#9fce4d"/><stop offset="1" stop-color="#93c84a"/></linearGradient><linearGradient id="f96"><stop offset="0" stop-color="#fbfc80"/><stop offset="0.05" stop-color="#fefe80"/><stop offset="0.107" stop-color="#fcfd80"/><stop offset="0.16" stop-color="#f7fa80"/><stop offset="0.214" stop-color="#eef580"/><stop offset="0.25" stop-color="#e9f17f"/><stop offset="0.286" stop-color="#e2ee7c"/><stop offset="0.321" stop-color="#deec79"/><stop offset="0.357" stop-color="#dceb78"/><stop offset="0.393" stop-color="#d9ea76"/><stop offset="0.429" stop-color="#d8e976"/><stop offset="0.5" stop-color="#d7e875"/><stop offset="0.571" stop-color="#cce36e"/><stop offset="0.714" stop-color="#b5d85a"/><stop offset="0.857" stop-color="#9fce4d"/><stop offset="1" stop-color="#93c84a"/></linearGradient><linearGradient id="f97"><stop offset="0" stop-color="#fffe80"/><stop offset="0.05" stop-color="#fcf77e"/><stop offset="0.107" stop-color="#fdfb7f"/><stop offset="0.16" stop-color="#fcfd80"/><stop offset="0.214" stop-color="#f3f780"/><stop offset="0.25" stop-color="#edf480"/><stop offset="0.286" stop-color="#e7f07e"/><stop offset="0.321" stop-color="#e1ee7b"/><stop offset="0.357" stop-color="#deec79"/><stop offset="0.393" stop-color="#dbeb78"/><stop offset="0.429" stop-color="#daea77"/><stop offset="0.5" stop-color="#d8e976"/><stop offset="0.571" stop-color="#cde46f"/><stop offset="0.714" stop-color="#b6d95a"/><stop offset="0.857" stop-color="#9fce4d"/><stop offset="1" stop-color="#93c84a"/></linearGradient><linearGradient id="f98"><stop offset="0" stop-color="#fbf47e"/><stop offset="0.05" stop-color="#f9ee7c"/><stop offset="0.107" stop-color="#faf17d"/><stop offset="0.16" stop-color="#fefc7f"/><stop offset="0.214" stop-color="#f7fa80"/><stop offset="0.25" stop-color="#f1f680"/><stop offset="0.286" stop-color="#ebf380"/><stop offset="0.321" stop-color="#e5f07d"/><stop offset="0.357" stop-color="#e1ed7b"/><stop offset="0.393" stop-color="#ddec79"/><stop offset="0.429" stop-color="#dbeb78"/><stop offset="0.5" stop-color="#d9ea77"/><stop offset="0.571" stop-color="#cee470"/><stop offset="0.714" stop-color="#b6d95b"/><stop offset="0.857" stop-color="#a0ce4d"/><stop offset="1" stop-color="#93c84a"/></linearGradient><linearGradient id="f99"><stop offset="0" stop-color="#f8ec7c"/><stop offset="0.05" stop-color="#f6e57a"/><stop offset="0.107" stop-color="#f7e87b"/><stop offset="0.16" stop-color="#fbf27d"/><stop offset="0.214" stop-color="#fcfd80"/><stop offset="0.25" stop-color="#f5f980"/><stop offset="0.286" stop-color="#eff580"/><stop offset="0.321" stop-color="#e9f17f"/><stop offset="0.357" stop-color="#e4ef7c"/><stop offset="0.393" stop-color="#dfed7a"/><stop offset="0.429" stop-color="#ddeb79"/><stop offset="0.5" stop-color="#dbea77"/><stop offset="0.571" stop-color="#cfe571"/><stop offset="0.714" stop-color="#b7d95b"/><stop offset="0.857" stop-color="#a0ce4d"/><stop offset="1" stop-color="#93c84a"/></linearGradient><linearGradient id="f100"><stop offset="0" stop-color="#f5e37a"/><stop offset="0.05" stop-color="#f3dd79"/><stop offset="0.107" stop-color="#f4df79"/><stop offset="0.16" stop-color="#f7e97b"/><stop offset="0.214" stop-color="#fefb7f"/><stop offset="0.25" stop-color="#fafc80"/><stop offset="0.286" stop-color="#f3f780"/><stop offset="0.321" stop-color="#ecf380"/><stop offset="0.357" stop-color="#e7f07e"/><stop offset="0.393" stop-color="#e1ee7b"/><stop offset="0.429" stop-color="#deec79"/><stop offset="0.5" stop-color="#dceb78"/><stop offset="0.571" stop-color="#d0e571"/><stop offset="0.714" stop-color="#b7d95c"/><stop offset="0.857" stop-color="#a0ce4d"/><stop offset="1" stop-color="#93c84a"/></linearGradient><linearGradient id="f101"><stop offset="0" stop-color="#f2db78"/><stop offset="0.05" stop-color="#eed575"/><stop offset="0.107" stop-color="#f0d676"/><stop offset="0.16" stop-color="#f4e079"/><stop offset="0.214" stop-color="#faf27d"/><stop offset="0.25" stop-color="#feff80"/><stop offset="0.286" stop-color="#f7fa80"/><stop offset="0.321" stop-color="#f0f580"/><stop offset="0.357" stop-color="#eaf280"/><stop offset="0.393" stop-color="#e4ef7c"/><stop offset="0.429" stop-color="#e0ed7a"/><stop offset="0.5" stop-color="#ddeb79"/><stop offset="0.571" stop-color="#d1e572"/><stop offset="0.714" stop-color="#b8da5c"/><stop offset="0.857" stop-color="#a0ce4d"/><stop offset="1" stop-color="#93c84a"/></linearGradient><linearGradient id="f102"><stop offset="0" stop-color="#edd374"/><stop offset="0.05" stop-color="#e9cc70"/><stop offset="0.107" stop-color="#eace71"/><stop offset="0.16" stop-color="#f0d776"/><stop offset="0.214" stop-color="#f7e97b"/><stop offset="0.25" stop-color="#fcf77e"/><stop offset="0.286" stop-color="#fbfc80"/><stop offset="0.321" stop-color="#f3f880"/><stop offset="0.357" stop-color="#edf480"/><stop offset="0.393" stop-color="#e6f07e"/><stop offset="0.429" stop-color="#e2ee7b"/><stop offset="0.5" stop-color="#deec79"/><stop offset="0.571" stop-color="#d2e672"/><stop offset="0.714" stop-color="#b8da5d"/><stop offset="0.857" stop-color="#a0ce4d"/><stop offset="1" stop-color="#93c84a"/></linearGradient><linearGradient id="f103"><stop offset="0" stop-color="#e8cc70"/><stop offset="0.05" stop-color="#e4c56c"/><stop offset="0.107" stop-color="#e4c56c"/><stop offset="0.16" stop-color="#eace71"/><stop offset="0.214" stop-color="#f4e079"/><stop offset="0.25" stop-color="#f9ee7c"/><stop offset="0.286" stop-color="#ffff80"/><stop offset="0.321" stop-color="#f7fa80"/><stop offset="0.357" stop-color="#f0f580"/><stop offset="0.393" stop-color="#e9f17f"/><stop offset="0.429" stop-color="#e3ef7c"/><stop offset="0.5" stop-color="#dfec7a"/><stop offset="0.571" stop-color="#d2e672"/><stop offset="0.714" stop-color="#b9da5d"/><stop offset="0.857" stop-color="#a1ce4d"/><stop offset="1" stop-color="#93c84a"/></linearGradient><linearGradient id="f104"><stop offset="0" stop-color="#e4c56c"/><stop offset="0.05" stop-color="#dfbf69"/><stop offset="0.107" stop-color="#dfbf69"/><stop offset="0.16" stop-color="#e5c66c"/><stop offset="0.214" stop-color="#f0d776"/><stop offset="0.25" stop-color="#f6e67b"/><stop offset="0.286" stop-color="#fcf77e"/><stop offset="0.321" stop-color="#fbfc80"/><stop offset="0.357" stop-color="#f3f780"/><stop offset="0.393" stop-color="#ebf380"/><stop offset="0.429" stop-color="#e5f07d"/><stop offset="0.5" stop-color="#e0ed7a"/><stop offset="0.571" stop-color="#d3e673"/><stop offset="0.714" stop-color="#b9da5d"/><stop offset="0.857" stop-color="#a1ce4d"/><stop offset="1" stop-color="#93c84a"/></linearGradient><linearGradient id="f105"><stop offset="0" stop-color="#dfbf69"/><stop offset="0.05" stop-color="#daba68"/><stop offset="0.107" stop-color="#dab967"/><stop offset="0.16" stop-color="#dfbf69"/><stop offset="0.214" stop-color="#eace71"/><stop offset="0.25" stop-color="#f3dd79"/><stop offset="0.286" stop-color="#f9ee7c"/><stop offset="0.321" stop-color="#feff80"/><stop offset="0.357" stop-color="#f6f980"/><stop offset="0.393" stop-color="#edf480"/><stop offset="0.429" stop-color="#e7f07e"/><stop offset="0.5" stop-color="#e0ed7a"/><stop offset="0.571" stop-color="#d3e773"/><stop offset="0.714" stop-color="#b9da5e"/><stop offset="0.857" stop-color="#a1ce4d"/><stop offset="1" stop-color="#93c84a"/></linearGradient><linearGradient id="f106"><stop offset="0" stop-color="#dbbb68"/><stop offset="0.05" stop-color="#d6b666"/><stop offset="0.107" stop-color="#d5b566"/><stop offset="0.16" stop-color="#dab967"/><stop offset="0.214" stop-color="#e5c66c"/><stop offset="0.25" stop-color="#eed475"/><stop offset="0.286" stop-color="#f6e67b"/><stop offset="0.321" stop-color="#fdf87f"/><stop offset="0.357" stop-color="#f9fb80"/><stop offset="0.393" stop-color="#f0f680"/><stop offset="0.429" stop-color="#e9f17f"/><stop offset="0.5" stop-color="#e1ed7b"/><stop offset="0.571" stop-color="#d4e773"/><stop offset="0.714" stop-color="#b9da5e"/><stop offset="0.857" stop-color="#a1cf4d"/><stop offset="1" stop-color="#93c84a"/></linearGradient><linearGradient id="f107"><stop offset="0" stop-color="#d7b767"/><stop offset="0.05" stop-color="#d3b265"/><stop offset="0.107" stop-color="#d2b165"/><stop offset="0.16" stop-color="#d5b466"/><stop offset="0.214" stop-color="#dfbf69"/><stop offset="0.25" stop-color="#e8cc70"/><stop offset="0.286" stop-color="#f3de79"/><stop offset="0.321" stop-color="#faf07d"/><stop offset="0.357" stop-color="#fcfd80"/><stop offset="0.393" stop-color="#f2f780"/><stop offset="0.429" stop-color="#ebf280"/><stop offset="0.5" stop-color="#e2ee7b"/><stop offset="0.571" stop-color="#d4e773"/><stop offset="0.714" stop-color="#bada5e"/><stop offset="0.857" stop-color="#a1cf4d"/><stop offset="1" stop-color="#93c84a"/></linearGradient><linearGradient id="f108"><stop offset="0" stop-color="#d4b366"/><stop offset="0.05" stop-color="#d0ae64"/><stop offset="0.107" stop-color="#cead64"/><stop offset="0.16" stop-color="#d1b065"/><stop offset="0.214" stop-color="#dab967"/><stop offset="0.25" stop-color="#e3c36b"/><stop offset="0.286" stop-color="#efd575"/><stop offset="0.321" stop-color="#f7e87b"/><stop offset="0.357" stop-color="#fefd80"/><stop offset="0.393" stop-color="#f5f980"/><stop offset="0.429" stop-color="#ecf480"/><stop offset="0.5" stop-color="#e2ee7c"/><stop offset="0.571" stop-color="#d4e774"/><stop offset="0.714" stop-color="#bada5e"/><stop offset="0.857" stop-color="#a1cf4d"/><stop offset="1" stop-color="#93c84a"/></linearGradient><linearGradient id="f109"><stop offset="0" stop-color="#d1b065"/><stop offset="0.05" stop-color="#cdac63"/><stop offset="0.107" stop-color="#cbaa63"/><stop offset="0.16" stop-color="#cdac64"/><stop offset="0.214" stop-color="#d5b466"/><stop offset="0.25" stop-color="#ddbd69"/><stop offset="0.286" stop-color="#e9cd70"/><stop offset="0.321" stop-color="#f4e179"/><stop offset="0.357" stop-color="#fcf67e"/><stop offset="0.393" stop-color="#f8fb80"/><stop offset="0.429" stop-color="#eef580"/><stop offset="0.5" stop-color="#e3ee7c"/><stop offset="0.571" stop-color="#d4e774"/><stop offset="0.714" stop-color="#bada5e"/><stop offset="0.857" stop-color="#a1cf4d"/><stop offset="1" stop-color="#93c84a"/></linearGradient><linearGradient id="f110"><stop offset="0" stop-color="#cfad64"/><stop offset="0.05" stop-color="#cba963"/><stop offset="0.107" stop-color="#c9a762"/><stop offset="0.16" stop-color="#caa963"/><stop offset="0.214" stop-color="#d1b065"/><stop offset="0.25" stop-color="#d8b867"/><stop offset="0.286" stop-color="#e4c56c"/><stop offset="0.321" stop-color="#f1d977"/><stop offset="0.357" stop-color="#f9ef7c"/><stop offset="0.393" stop-color="#fbfc80"/><stop offset="0.429" stop-color="#f0f680"/><stop offset="0.5" stop-color="#e3ee7c"/><stop offset="0.571" stop-color="#d4e774"/><stop offset="0.714" stop-color="#b9da5e"/><stop offset="0.857" stop-color="#a1ce4d"/><stop offset="1" stop-color="#93c84a"/></linearGradient><linearGradient id="f111"><stop offset="0" stop-color="#ccab63"/><stop offset="0.05" stop-color="#c9a762"/><stop offset="0.107" stop-color="#c7a562"/><stop offset="0.16" stop-color="#c8a662"/><stop offset="0.214" stop-color="#cdac63"/><stop offset="0.25" stop-color="#d4b366"/><stop offset="0.286" stop-color="#dfbe69"/><stop offset="0.321" stop-color="#efd575"/><stop offset="0.357" stop-color="#faf17d"/><stop offset="0.393" stop-color="#f8fa80"/><stop offset="0.429" stop-color="#edf480"/><stop offset="0.5" stop-color="#e2ee7b"/><stop offset="0.571" stop-color="#d4e773"/><stop offset="0.714" stop-color="#b9da5d"/><stop offset="0.857" stop-color="#a0ce4d"/><stop offset="1" stop-color="#93c84a"/></linearGradient><linearGradient id="f112"><stop offset="0" stop-color="#cba963"/><stop offset="0.05" stop-color="#c7a662"/><stop offset="0.107" stop-color="#c5a461"/><stop offset="0.16" stop-color="#c6a461"/><stop offset="0.214" stop-color="#ccab63"/><stop offset="0.25" stop-color="#d7b767"/><stop offset="0.286" stop-color="#e8cb6f"/><stop offset="0.321" stop-color="#f6e67b"/><stop offset="0.357" stop-color="#feff80"/><stop offset="0.393" stop-color="#f2f780"/><stop offset="0.429" stop-color="#eaf280"/><stop offset="0.5" stop-color="#e1ed7b"/><stop offset="0.571" stop-color="#d3e673"/><stop offset="0.714" stop-color="#b8da5d"/><stop offset="0.857" stop-color="#a0ce4d"/><stop offset="1" stop-color="#93c84a"/></linearGradient><linearGradient id="f113"><stop offset="0" stop-color="#c9a762"/><stop offset="0.05" stop-color="#c6a461"/><stop offset="0.107" stop-color="#c4a261"/><stop offset="0.16" stop-color="#c7a562"/><stop offset="0.214" stop-color="#d3b265"/><stop offset="0.25" stop-color="#e2c26a"/><stop offset="0.286" stop-color="#f3dc78"/><stop offset="0.321" stop-color="#fcf67e"/><stop offset="0.357" stop-color="#f8fa80"/><stop offset="0.393" stop-color="#edf480"/><stop offset="0.429" stop-color="#e6f07e"/><stop offset="0.5" stop-color="#e0ed7a"/><stop offset="0.571" stop-color="#d2e672"/><stop offset="0.714" stop-color="#b7d95c"/><stop offset="0.857" stop-color="#a0ce4d"/><stop offset="1" stop-color="#93c84a"/></linearGradient><linearGradient id="f114"><stop offset="0" stop-color="#c8a662"/><stop offset="0.05" stop-color="#c5a361"/><stop offset="0.107" stop-color="#c5a361"/><stop offset="0.16" stop-color="#cbaa63"/><stop offset="0.214" stop-color="#ddbc68"/><stop offset="0.25" stop-color="#edd274"/><stop offset="0.286" stop-color="#f8ec7c"/><stop offset="0.321" stop-color="#fcfd80"/><stop offset="0.357" stop-color="#f2f780"/><stop offset="0.393" stop-color="#eaf280"/><stop offset="0.429" stop-color="#e4ef7c"/><stop offset="0.5" stop-color="#deec79"/><stop offset="0.571" stop-color="#d1e572"/><stop offset="0.714" stop-color="#b7d95b"/><stop offset="0.857" stop-color="#9fce4d"/><stop offset="1" stop-color="#93c84a"/></linearGradient><linearGradient id="f115"><stop offset="0" stop-color="#c6a561"/><stop offset="0.05" stop-color="#c5a361"/><stop offset="0.107" stop-color="#c7a562"/><stop offset="0.16" stop-color="#d1b065"/><stop offset="0.214" stop-color="#e7ca6f"/><stop offset="0.25" stop-color="#f5e37a"/><stop offset="0.286" stop-color="#fefd80"/><stop offset="0.321" stop-color="#f5f980"/><stop offset="0.357" stop-color="#edf480"/><stop offset="0.393" stop-color="#e6f07d"/><stop offset="0.429" stop-color="#e1ee7b"/><stop offset="0.5" stop-color="#ddeb78"/><stop offset="0.571" stop-color="#cfe571"/><stop offset="0.714" stop-color="#b5d85a"/><stop offset="0.857" stop-color="#9fce4d"/><stop offset="1" stop-color="#92c84a"/></linearGradient><linearGradient id="f116"><stop offset="0" stop-color="#c6a461"/><stop offset="0.05" stop-color="#c5a361"/><stop offset="0.107" stop-color="#cbaa63"/><stop offset="0.16" stop-color="#daba68"/><stop offset="0.214" stop-color="#f3dc78"/><stop offset="0.25" stop-color="#fbf57e"/><stop offset="0.286" stop-color="#f8fb80"/><stop offset="0.321" stop-color="#eff580"/><stop offset="0.357" stop-color="#e8f17f"/><stop offset="0.393" stop-color="#e2ee7c"/><stop offset="0.429" stop-color="#dfec7a"/><stop offset="0.5" stop-color="#dbea77"/><stop offset="0.571" stop-color="#cde46f"/><stop offset="0.714" stop-color="#b4d859"/><stop offset="0.857" stop-color="#9fcd4d"/><stop offset="1" stop-color="#92c849"/></linearGradient><linearGradient id="f117"><stop offset="0" stop-color="#c6a461"/><stop offset="0.05" stop-color="#c8a662"/><stop offset="0.107" stop-color="#d2b165"/><stop offset="0.16" stop-color="#e5c76d"/><stop offset="0.214" stop-color="#f9ed7c"/><stop offset="0.25" stop-color="#fcfd80"/><stop offset="0.286" stop-color="#f1f680"/><stop offset="0.321" stop-color="#eaf280"/><stop offset="0.357" stop-color="#e4ef7d"/><stop offset="0.393" stop-color="#dfed7a"/><stop offset="0.429" stop-color="#ddeb78"/><stop offset="0.5" stop-color="#d8e976"/><stop offset="0.571" stop-color="#cbe36e"/><stop offset="0.714" stop-color="#b3d758"/><stop offset="0.857" stop-color="#9ecd4d"/><stop offset="1" stop-color="#92c749"/></linearGradient><linearGradient id="f118"><stop offset="0" stop-color="#c7a662"/><stop offset="0.05" stop-color="#ccab63"/><stop offset="0.107" stop-color="#dbba68"/><stop offset="0.16" stop-color="#f1d977"/><stop offset="0.214" stop-color="#ffff80"/><stop offset="0.25" stop-color="#f4f880"/><stop offset="0.286" stop-color="#ebf380"/><stop offset="0.321" stop-color="#e4ef7d"/><stop offset="0.357" stop-color="#e0ed7a"/><stop offset="0.393" stop-color="#ddeb78"/><stop offset="0.429" stop-color="#daea77"/><stop offset="0.5" stop-color="#d6e874"/><stop offset="0.571" stop-color="#c9e26c"/><stop offset="0.714" stop-color="#b1d656"/><stop offset="0.857" stop-color="#9dcd4d"/><stop offset="1" stop-color="#92c749"/></linearGradient><linearGradient id="f119"><stop offset="0" stop-color="#cbaa63"/><stop offset="0.05" stop-color="#d3b265"/><stop offset="0.107" stop-color="#e6c86d"/><stop offset="0.16" stop-color="#f8eb7c"/><stop offset="0.214" stop-color="#f7fa80"/><stop offset="0.25" stop-color="#edf480"/><stop offset="0.286" stop-color="#e5ef7d"/><stop offset="0.321" stop-color="#dfed7a"/><stop offset="0.357" stop-color="#ddeb79"/><stop offset="0.393" stop-color="#daea77"/><stop offset="0.429" stop-color="#d7e975"/><stop offset="0.5" stop-color="#d3e773"/><stop offset="0.571" stop-color="#c7e16a"/><stop offset="0.714" stop-color="#b0d655"/><stop offset="0.857" stop-color="#9dcd4c"/><stop offset="1" stop-color="#92c749"/></linearGradient><linearGradient id="f120"><stop offset="0" stop-color="#d1b065"/><stop offset="0.05" stop-color="#ddbc68"/><stop offset="0.107" stop-color="#f2da78"/><stop offset="0.16" stop-color="#fefd80"/><stop offset="0.214" stop-color="#eff580"/><stop offset="0.25" stop-color="#e6f07e"/><stop offset="0.286" stop-color="#dfed7a"/><stop offset="0.321" stop-color="#dbeb78"/><stop offset="0.357" stop-color="#daea77"/><stop offset="0.393" stop-color="#d7e875"/><stop offset="0.429" stop-color="#d4e774"/><stop offset="0.5" stop-color="#d0e571"/><stop offset="0.571" stop-color="#c4df67"/><stop offset="0.714" stop-color="#aed553"/><stop offset="0.857" stop-color="#9ccc4c"/><stop offset="1" stop-color="#92c749"/></linearGradient><linearGradient id="f121"><stop offset="0" stop-color="#daba68"/><stop offset="0.05" stop-color="#e8ca6f"/><stop offset="0.107" stop-color="#f8ec7c"/><stop offset="0.16" stop-color="#f7fa80"/><stop offset="0.214" stop-color="#e8f17f"/><stop offset="0.25" stop-color="#dfed7a"/><stop offset="0.286" stop-color="#daea77"/><stop offset="0.321" stop-color="#d8e976"/><stop offset="0.357" stop-color="#d6e875"/><stop offset="0.393" stop-color="#d4e773"/><stop offset="0.429" stop-color="#d1e672"/><stop offset="0.5" stop-color="#cde36f"/><stop offset="0.571" stop-color="#c2de65"/><stop offset="0.714" stop-color="#acd452"/><stop offset="0.857" stop-color="#9ccc4c"/><stop offset="1" stop-color="#91c749"/></linearGradient><linearGradient id="f122"><stop offset="0" stop-color="#e5c66c"/><stop offset="0.05" stop-color="#f3dc79"/><stop offset="0.107" stop-color="#ffff80"/><stop offset="0.16" stop-color="#eff580"/><stop offset="0.214" stop-color="#e0ed7a"/><stop offset="0.25" stop-color="#daea77"/><stop offset="0.286" stop-color="#d6e875"/><stop offset="0.321" stop-color="#d4e774"/><stop offset="0.357" stop-color="#d3e673"/><stop offset="0.393" stop-color="#d0e571"/><stop offset="0.429" stop-color="#cee470"/><stop offset="0.5" stop-color="#cae26c"/><stop offset="0.571" stop-color="#bfdd63"/><stop offset="0.714" stop-color="#aad350"/><stop offset="0.857" stop-color="#9bcc4c"/><stop offset="1" stop-color="#91c749"/></linearGradient><linearGradient id="f123"><stop offset="0" stop-color="#f0d776"/><stop offset="0.05" stop-color="#f9ee7c"/><stop offset="0.107" stop-color="#f6fa80"/><stop offset="0.16" stop-color="#e7f17e"/><stop offset="0.214" stop-color="#daea77"/><stop offset="0.25" stop-color="#d5e774"/><stop offset="0.286" stop-color="#d2e672"/><stop offset="0.321" stop-color="#d1e571"/><stop offset="0.357" stop-color="#cfe571"/><stop offset="0.393" stop-color="#cde36f"/><stop offset="0.429" stop-color="#cbe26d"/><stop offset="0.5" stop-color="#c7e069"/><stop offset="0.571" stop-color="#bcdc60"/><stop offset="0.714" stop-color="#a9d250"/><stop offset="0.857" stop-color="#9acb4c"/><stop offset="1" stop-color="#91c749"/></linearGradient><linearGradient id="f124"><stop offset="0" stop-color="#f7e87b"/><stop offset="0.05" stop-color="#fefe80"/><stop offset="0.107" stop-color="#eef480"/><stop offset="0.16" stop-color="#dfec7a"/><stop offset="0.214" stop-color="#d4e773"/><stop offset="0.25" stop-color="#d1e571"/><stop offset="0.286" stop-color="#cee470"/><stop offset="0.321" stop-color="#cde46f"/><stop offset="0.357" stop-color="#cce36e"/><stop offset="0.393" stop-color="#c9e26c"/><stop offset="0.429" stop-color="#c7e16a"/><stop offset="0.5" stop-color="#c3df66"/><stop offset="0.571" stop-color="#b9da5e"/><stop offset="0.714" stop-color="#a7d24f"/><stop offset="0.857" stop-color="#99cb4b"/><stop offset="1" stop-color="#91c749"/></linearGradient><linearGradient id="f125"><stop offset="0" stop-color="#fdfa7f"/><stop offset="0.05" stop-color="#f5f980"/><stop offset="0.107" stop-color="#e5f07d"/><stop offset="0.16" stop-color="#d8e976"/><stop offset="0.214" stop-color="#cfe571"/><stop offset="0.25" stop-color="#cde36f"/><stop offset="0.286" stop-color="#cbe26d"/><stop offset="0.321" stop-color="#c9e26c"/><stop offset="0.357" stop-color="#c8e16b"/><stop offset="0.393" stop-color="#c6e069"/><stop offset="0.429" stop-color="#c4df67"/><stop offset="0.5" stop-color="#c0dd63"/><stop offset="0.571" stop-color="#b6d95b"/><stop offset="0.714" stop-color="#a6d14f"/><stop offset="0.857" stop-color="#99cb4b"/><stop offset="1" stop-color="#91c749"/></linearGradient><linearGradient id="f126"><stop offset="0" stop-color="#f9fb80"/><stop offset="0.05" stop-color="#edf480"/><stop offset="0.107" stop-color="#ddeb79"/><stop offset="0.16" stop-color="#d2e672"/><stop offset="0.214" stop-color="#cbe36d"/><stop offset="0.25" stop-color="#c9e26b"/><stop offset="0.286" stop-color="#c7e16a"/><stop offset="0.321" stop-color="#c6e069"/><stop offset="0.357" stop-color="#c5e068"/><stop offset="0.393" stop-color="#c2de66"/><stop offset="0.429" stop-color="#c0dd64"/><stop offset="0.5" stop-color="#bcdc60"/><stop offset="0.571" stop-color="#b3d758"/><stop offset="0.714" stop-color="#a4d04e"/><stop offset="0.857" stop-color="#98ca4b"/><stop offset="1" stop-color="#90c749"/></linearGradient><linearGradient id="f127"><stop offset="0" stop-color="#f1f680"/><stop offset="0.05" stop-color="#e4ef7d"/><stop offset="0.107" stop-color="#d6e874"/><stop offset="0.16" stop-color="#cde36f"/><stop offset="0.214" stop-color="#c7e16a"/><stop offset="0.25" stop-color="#c5e068"/><stop offset="0.286" stop-color="#c3df67"/><stop offset="0.321" stop-color="#c2de65"/><stop offset="0.357" stop-color="#c1de64"/><stop offset="0.393" stop-color="#bfdd62"/><stop offset="0.429" stop-color="#bddc60"/><stop offset="0.5" stop-color="#b9da5d"/><stop offset="0.571" stop-color="#b0d656"/><stop offset="0.714" stop-color="#a3d04e"/><stop offset="0.857" stop-color="#97ca4b"/><stop offset="1" stop-color="#90c649"/></linearGradient><linearGradient id="f128"><stop offset="0" stop-color="#e9f280"/><stop offset="0.05" stop-color="#dceb78"/><stop offset="0.107" stop-color="#d0e571"/><stop offset="0.16" stop-color="#c8e16b"/><stop offset="0.214" stop-color="#c3df67"/><stop offset="0.25" stop-color="#c1de65"/><stop offset="0.286" stop-color="#c0dd63"/><stop offset="0.321" stop-color="#bedd62"/><stop offset="0.357" stop-color="#bddc61"/><stop offset="0.393" stop-color="#bbdb5f"/><stop offset="0.429" stop-color="#b9da5d"/><stop offset="0.5" stop-color="#b6d85a"/><stop offset="0.571" stop-color="#aed553"/><stop offset="0.714" stop-color="#a1cf4e"/><stop offset="0.857" stop-color="#97ca4b"/><stop offset="1" stop-color="#90c649"/></linearGradient><linearGradient id="f129"><stop offset="0" stop-color="#e1ed7b"/><stop offset="0.05" stop-color="#d5e774"/><stop offset="0.107" stop-color="#cae26d"/><stop offset="0.16" stop-color="#c4df67"/><stop offset="0.214" stop-color="#c0dd63"/><stop offset="0.25" stop-color="#bedc61"/><stop offset="0.286" stop-color="#bcdc60"/><stop offset="0.321" stop-color="#bbdb5f"/><stop offset="0.357" stop-color="#b9da5e"/><stop offset="0.393" stop-color="#b7d95c"/><stop offset="0.429" stop-color="#b5d85a"/><stop offset="0.5" stop-color="#b2d757"/><stop offset="0.571" stop-color="#abd351"/><stop offset="0.714" stop-color="#a0ce4d"/><stop offset="0.857" stop-color="#96c94a"/><stop offset="1" stop-color="#90c649"/></linearGradient><linearGradient id="f130"><stop offset="0" stop-color="#d9ea76"/><stop offset="0.05" stop-color="#cfe470"/><stop offset="0.107" stop-color="#c6e069"/><stop offset="0.16" stop-color="#c0dd64"/><stop offset="0.214" stop-color="#bcdb60"/><stop offset="0.25" stop-color="#badb5e"/><stop offset="0.286" stop-color="#b8da5d"/><stop offset="0.321" stop-color="#b7d95c"/><stop offset="0.357" stop-color="#b6d95a"/><stop offset="0.393" stop-color="#b4d859"/><stop offset="0.429" stop-color="#b2d757"/><stop offset="0.5" stop-color="#afd554"/><stop offset="0.571" stop-color="#a8d250"/><stop offset="0.714" stop-color="#9fce4d"/><stop offset="0.857" stop-color="#95c94a"/><stop offset="1" stop-color="#8fc649"/></linearGradient><linearGradient id="f131"><stop offset="0" stop-color="#d3e673"/><stop offset="0.05" stop-color="#c9e26c"/><stop offset="0.107" stop-color="#c2de65"/><stop offset="0.16" stop-color="#bcdc60"/><stop offset="0.214" stop-color="#b8da5c"/><stop offset="0.25" stop-color="#b6d95b"/><stop offset="0.286" stop-color="#b5d859"/><stop offset="0.321" stop-color="#b3d758"/><stop offset="0.357" stop-color="#b2d757"/><stop offset="0.393" stop-color="#b0d656"/><stop offset="0.429" stop-color="#afd554"/><stop offset="0.5" stop-color="#acd451"/><stop offset="0.571" stop-color="#a6d14f"/><stop offset="0.714" stop-color="#9dcd4d"/><stop offset="0.857" stop-color="#95c94a"/><stop offset="1" stop-color="#8fc649"/></linearGradient><linearGradient id="f132"><stop offset="0" stop-color="#cde46f"/><stop offset="0.05" stop-color="#c5e068"/><stop offset="0.107" stop-color="#bddc61"/><stop offset="0.16" stop-color="#b8da5d"/><stop offset="0.214" stop-color="#b4d859"/><stop offset="0.25" stop-color="#b2d758"/><stop offset="0.286" stop-color="#b1d656"/><stop offset="0.321" stop-color="#b0d655"/><stop offset="0.357" stop-color="#afd554"/><stop offset="0.393" stop-color="#add453"/><stop offset="0.429" stop-color="#abd451"/><stop offset="0.5" stop-color="#a9d250"/><stop offset="0.571" stop-color="#a4d04e"/><stop offset="0.714" stop-color="#9ccc4c"/><stop offset="0.857" stop-color="#94c84a"/><stop offset="1" stop-color="#8fc649"/></linearGradient><linearGradient id="f133"><stop offset="0" stop-color="#c8e16b"/><stop offset="0.05" stop-color="#c0dd64"/><stop offset="0.107" stop-color="#b9da5e"/><stop offset="0.16" stop-color="#b4d859"/><stop offset="0.214" stop-color="#b1d656"/><stop offset="0.25" stop-color="#afd554"/><stop offset="0.286" stop-color="#add553"/><stop offset="0.321" stop-color="#acd452"/><stop offset="0.357" stop-color="#abd451"/><stop offset="0.393" stop-color="#aad350"/><stop offset="0.429" stop-color="#a9d250"/><stop offset="0.5" stop-color="#a7d14f"/><stop offset="0.571" stop-color="#a3cf4e"/><stop offset="0.714" stop-color="#9bcc4c"/><stop offset="0.857" stop-color="#94c84a"/><stop offset="1" stop-color="#8fc649"/></linearGradient><linearGradient id="f134"><stop offset="0" stop-color="#c4df67"/><stop offset="0.05" stop-color="#bcdb60"/><stop offset="0.107" stop-color="#b5d85a"/><stop offset="0.16" stop-color="#b1d656"/><stop offset="0.214" stop-color="#add453"/><stop offset="0.25" stop-color="#abd451"/><stop offset="0.286" stop-color="#aad350"/><stop offset="0.321" stop-color="#a9d350"/><stop offset="0.357" stop-color="#a8d250"/><stop offset="0.393" stop-color="#a7d24f"/><stop offset="0.429" stop-color="#a6d14f"/><stop offset="0.5" stop-color="#a5d04e"/><stop offset="0.571" stop-color="#a1cf4d"/><stop offset="0.714" stop-color="#9acb4b"/><stop offset="0.857" stop-color="#93c84a"/><stop offset="1" stop-color="#8fc648"/></linearGradient><linearGradient id="f135"><stop offset="0" stop-color="#bfdd63"/><stop offset="0.05" stop-color="#b8d95c"/><stop offset="0.107" stop-color="#b1d657"/><stop offset="0.16" stop-color="#add453"/><stop offset="0.214" stop-color="#aad350"/><stop offset="0.25" stop-color="#a9d250"/><stop offset="0.286" stop-color="#a8d24f"/><stop offset="0.321" stop-color="#a7d14f"/><stop offset="0.357" stop-color="#a6d14f"/><stop offset="0.393" stop-color="#a5d14f"/><stop offset="0.429" stop-color="#a4d04e"/><stop offset="0.5" stop-color="#a2cf4e"/><stop offset="0.571" stop-color="#9fce4d"/><stop offset="0.714" stop-color="#99cb4b"/><stop offset="0.857" stop-color="#92c849"/><stop offset="1" stop-color="#8fc648"/></linearGradient><linearGradient id="f136"><stop offset="0" stop-color="#badb5f"/><stop offset="0.05" stop-color="#b3d758"/><stop offset="0.107" stop-color="#add553"/><stop offset="0.16" stop-color="#aad350"/><stop offset="0.214" stop-color="#a7d24f"/><stop offset="0.25" stop-color="#a6d14f"/><stop offset="0.286" stop-color="#a5d14f"/><stop offset="0.321" stop-color="#a4d04e"/><stop offset="0.357" stop-color="#a4d04e"/><stop offset="0.393" stop-color="#a3d04e"/><stop offset="0.429" stop-color="#a2cf4e"/><stop offset="0.5" stop-color="#a1ce4d"/><stop offset="0.571" stop-color="#9dcd4d"/><stop offset="0.714" stop-color="#97ca4b"/><stop offset="0.857" stop-color="#92c749"/><stop offset="1" stop-color="#8ec648"/></linearGradient><linearGradient id="f137"><stop offset="0" stop-color="#b6d95b"/><stop offset="0.05" stop-color="#afd655"/><stop offset="0.107" stop-color="#aad350"/><stop offset="0.16" stop-color="#a7d24f"/><stop offset="0.214" stop-color="#a5d04f"/><stop offset="0.25" stop-color="#a4d04e"/><stop offset="0.286" stop-color="#a3d04e"/><stop offset="0.321" stop-color="#a2cf4e"/><stop offset="0.357" stop-color="#a2cf4e"/><stop offset="0.393" stop-color="#a1cf4d"/><stop offset="0.429" stop-color="#a0ce4d"/><stop offset="0.5" stop-color="#9fce4d"/><stop offset="0.571" stop-color="#9ccc4c"/><stop offset="0.714" stop-color="#96ca4b"/><stop offset="0.857" stop-color="#91c749"/><stop offset="1" stop-color="#8ec648"/></linearGradient><linearGradient id="f138"><stop offset="0" stop-color="#b2d757"/><stop offset="0.05" stop-color="#abd451"/><stop offset="0.107" stop-color="#a7d24f"/><stop offset="0.16" stop-color="#a5d04f"/><stop offset="0.214" stop-color="#a3cf4e"/><stop offset="0.25" stop-color="#a2cf4e"/><stop offset="0.286" stop-color="#a1cf4d"/><stop offset="0.321" stop-color="#a0ce4d"/><stop offset="0.357" stop-color="#a0ce4d"/><stop offset="0.393" stop-color="#9fce4d"/><stop offset="0.429" stop-color="#9ecd4d"/><stop offset="0.5" stop-color="#9dcd4c"/><stop offset="0.571" stop-color="#9acb4c"/><stop offset="0.714" stop-color="#96c94a"/><stop offset="0.857" stop-color="#91c749"/><stop offset="1" stop-color="#8ec648"/></linearGradient><linearGradient id="f139"><stop offset="0" stop-color="#add553"/><stop offset="0.05" stop-color="#a8d250"/><stop offset="0.107" stop-color="#a5d04f"/><stop offset="0.16" stop-color="#a2cf4e"/><stop offset="0.214" stop-color="#a0ce4d"/><stop offset="0.25" stop-color="#a0ce4d"/><stop offset="0.286" stop-color="#9fce4d"/><stop offset="0.321" stop-color="#9ecd4d"/><stop offset="0.357" stop-color="#9ecd4d"/><stop offset="0.393" stop-color="#9dcd4c"/><stop offset="0.429" stop-color="#9ccc4c"/><stop offset="0.5" stop-color="#9bcc4c"/><stop offset="0.571" stop-color="#99cb4b"/><stop offset="0.714" stop-color="#95c94a"/><stop offset="0.857" stop-color="#91c749"/><stop offset="1" stop-color="#8ec648"/></linearGradient><linearGradient id="f140"><stop offset="0" stop-color="#a9d350"/><stop offset="0.05" stop-color="#a6d14f"/><stop offset="0.107" stop-color="#a2cf4e"/><stop offset="0.16" stop-color="#a0ce4d"/><stop offset="0.214" stop-color="#9ecd4d"/><stop offset="0.25" stop-color="#9ecd4d"/><stop offset="0.286" stop-color="#9dcd4c"/><stop offset="0.321" stop-color="#9dcd4c"/><stop offset="0.357" stop-color="#9ccc4c"/><stop offset="0.393" stop-color="#9bcc4c"/><stop offset="0.429" stop-color="#9bcc4c"/><stop offset="0.5" stop-color="#9acb4c"/><stop offset="0.571" stop-color="#98ca4b"/><stop offset="0.714" stop-color="#94c84a"/><stop offset="0.857" stop-color="#90c749"/><stop offset="1" stop-color="#8ec548"/></linearGradient><linearGradient id="f141"><stop offset="0" stop-color="#a7d14f"/><stop offset="0.05" stop-color="#a3d04e"/><stop offset="0.107" stop-color="#a0ce4d"/><stop offset="0.16" stop-color="#9ecd4d"/><stop offset="0.214" stop-color="#9dcd4c"/><stop offset="0.25" stop-color="#9ccc4c"/><stop offset="0.286" stop-color="#9bcc4c"/><stop offset="0.321" stop-color="#9bcc4c"/><stop offset="0.357" stop-color="#9bcc4c"/><stop offset="0.393" stop-color="#9acb4c"/><stop offset="0.429" stop-color="#99cb4b"/><stop offset="0.5" stop-color="#99cb4b"/><stop offset="0.571" stop-color="#97ca4b"/><stop offset="0.714" stop-color="#93c84a"/><stop offset="0.857" stop-color="#90c649"/><stop offset="1" stop-color="#8ec548"/></linearGradient><linearGradient id="f142"><stop offset="0" stop-color="#a4d04e"/><stop offset="0.05" stop-color="#a1ce4d"/><stop offset="0.107" stop-color="#9ecd4d"/><stop offset="0.16" stop-color="#9ccc4c"/><stop offset="0.214" stop-color="#9bcc4c"/><stop offset="0.25" stop-color="#9acb4c"/><stop offset="0.286" stop-color="#9acb4c"/><stop offset="0.321" stop-color="#99cb4b"/><stop offset="0.357" stop-color="#99cb4b"/><stop offset="0.393" stop-color="#99cb4b"/><stop offset="0.429" stop-color="#98ca4b"/><stop offset="0.5" stop-color="#97ca4b"/><stop offset="0.571" stop-color="#96c94a"/><stop offset="0.714" stop-color="#92c84a"/><stop offset="0.857" stop-color="#90c649"/><stop offset="1" stop-color="#8ec548"/></linearGradient><linearGradient id="f143"><stop offset="0" stop-color="#a1cf4e"/><stop offset="0.05" stop-color="#9ecd4d"/><stop offset="0.107" stop-color="#9ccc4c"/><stop offset="0.16" stop-color="#9bcc4c"/><stop offset="0.214" stop-color="#99cb4b"/><stop offset="0.25" stop-color="#99cb4b"/><stop offset="0.286" stop-color="#98ca4b"/><stop offset="0.321" stop-color="#98ca4b"/><stop offset="0.357" stop-color="#98ca4b"/><stop offset="0.393" stop-color="#97ca4b"/><stop offset="0.429" stop-color="#97ca4b"/><stop offset="0.5" stop-color="#96c94b"/><stop offset="0.571" stop-color="#95c94a"/><stop offset="0.714" stop-color="#92c749"/><stop offset="0.857" stop-color="#8fc649"/><stop offset="1" stop-color="#8ec548"/></linearGradient><linearGradient id="f144"><stop offset="0" stop-color="#9fce4d"/><stop offset="0.05" stop-color="#9ccc4c"/><stop offset="0.107" stop-color="#9acb4c"/><stop offset="0.16" stop-color="#99cb4b"/><stop offset="0.214" stop-color="#98ca4b"/><stop offset="0.25" stop-color="#97ca4b"/><stop offset="0.286" stop-color="#97ca4b"/><stop offset="0.321" stop-color="#97ca4b"/><stop offset="0.357" stop-color="#96ca4b"/><stop offset="0.393" stop-color="#96c94a"/><stop offset="0.429" stop-color="#96c94a"/><stop offset="0.5" stop-color="#95c94a"/><stop offset="0.571" stop-color="#94c84a"/><stop offset="0.714" stop-color="#91c749"/><stop offset="0.857" stop-color="#8fc649"/><stop offset="1" stop-color="#8ec548"/></linearGradient><linearGradient id="f145"><stop offset="0" stop-color="#9dcd4c"/><stop offset="0.05" stop-color="#9acc4c"/><stop offset="0.107" stop-color="#99cb4b"/><stop offset="0.16" stop-color="#97ca4b"/><stop offset="0.214" stop-color="#97ca4b"/><stop offset="0.25" stop-color="#96c94b"/><stop offset="0.286" stop-color="#96c94a"/><stop offset="0.321" stop-color="#96c94a"/><stop offset="0.357" stop-color="#95c94a"/><stop offset="0.393" stop-color="#95c94a"/><stop offset="0.429" stop-color="#95c94a"/><stop offset="0.5" stop-color="#94c84a"/><stop offset="0.571" stop-color="#93c84a"/><stop offset="0.714" stop-color="#91c749"/><stop offset="0.857" stop-color="#8fc648"/><stop offset="1" stop-color="#8ec548"/></linearGradient><linearGradient id="f146"><stop offset="0" stop-color="#9bcc4c"/><stop offset="0.05" stop-color="#99cb4b"/><stop offset="0.107" stop-color="#97ca4b"/><stop offset="0.16" stop-color="#96c94b"/><stop offset="0.214" stop-color="#95c94a"/><stop offset="0.25" stop-color="#95c94a"/><stop offset="0.286" stop-color="#95c94a"/><stop offset="0.321" stop-color="#94c94a"/><stop offset="0.357" stop-color="#94c94a"/><stop offset="0.393" stop-color="#94c84a"/><stop offset="0.429" stop-color="#94c84a"/><stop offset="0.5" stop-color="#93c84a"/><stop offset="0.571" stop-color="#92c749"/><stop offset="0.714" stop-color="#90c749"/><stop offset="0.857" stop-color="#8fc648"/><stop offset="1" stop-color="#8dc548"/></linearGradient><linearGradient id="f147"><stop offset="0" stop-color="#99cb4b"/><stop offset="0.05" stop-color="#97ca4b"/><stop offset="0.107" stop-color="#96c94a"/><stop offset="0.16" stop-color="#95c94a"/><stop offset="0.214" stop-color="#94c94a"/><stop offset="0.25" stop-color="#94c84a"/><stop offset="0.286" stop-color="#94c84a"/><stop offset="0.321" stop-color="#94c84a"/><stop offset="0.357" stop-color="#93c84a"/><stop offset="0.393" stop-color="#93c84a"/><stop offset="0.429" stop-color="#93c84a"/><stop offset="0.5" stop-color="#92c849"/><stop offset="0.571" stop-color="#92c749"/><stop offset="0.714" stop-color="#90c649"/><stop offset="0.857" stop-color="#8ec648"/><stop offset="1" stop-color="#8dc548"/></linearGradient><linearGradient id="f148"><stop offset="0" stop-color="#97ca4b"/><stop offset="0.05" stop-color="#96c94a"/><stop offset="0.107" stop-color="#95c94a"/><stop offset="0.16" stop-color="#94c84a"/><stop offset="0.214" stop-color="#93c84a"/><stop offset="0.25" stop-color="#93c84a"/><stop offset="0.286" stop-color="#93c84a"/><stop offset="0.321" stop-color="#93c84a"/><stop offset="0.357" stop-color="#93c84a"/><stop offset="0.393" stop-color="#92c849"/><stop offset="0.429" stop-color="#92c749"/><stop offset="0.5" stop-color="#92c749"/><stop offset="0.571" stop-color="#91c749"/><stop offset="0.714" stop-color="#90c649"/><stop offset="0.857" stop-color="#8ec648"/><stop offset="1" stop-color="#8dc548"/></linearGradient><linearGradient id="f149"><stop offset="0" stop-color="#96c94a"/><stop offset="0.05" stop-color="#95c94a"/><stop offset="0.107" stop-color="#94c84a"/><stop offset="0.16" stop-color="#93c84a"/><stop offset="0.214" stop-color="#93c84a"/><stop offset="0.25" stop-color="#92c849"/><stop offset="0.286" stop-color="#92c749"/><stop offset="0.321" stop-color="#92c749"/><stop offset="0.357" stop-color="#92c749"/><stop offset="0.393" stop-color="#92c749"/><stop offset="0.429" stop-color="#91c749"/><stop offset="0.5" stop-color="#91c749"/><stop offset="0.571" stop-color="#90c749"/><stop offset="0.714" stop-color="#8fc649"/><stop offset="0.857" stop-color="#8ec548"/><stop offset="1" stop-color="#8dc548"/></linearGradient><linearGradient id="f150"><stop offset="0" stop-color="#96c94a"/><stop offset="0.05" stop-color="#95c94a"/><stop offset="0.107" stop-color="#94c84a"/><stop offset="0.16" stop-color="#93c84a"/><stop offset="0.214" stop-color="#93c84a"/><stop offset="0.25" stop-color="#92c849"/><stop offset="0.286" stop-color="#92c749"/><stop offset="0.321" stop-color="#92c749"/><stop offset="0.357" stop-color="#92c749"/><stop offset="0.393" stop-color="#92c749"/><stop offset="0.429" stop-color="#91c749"/><stop offset="0.5" stop-color="#91c749"/><stop offset="0.571" stop-color="#90c749"/><stop offset="0.714" stop-color="#8fc649"/><stop offset="0.857" stop-color="#8ec548"/><stop offset="1" stop-color="#8dc548"/></linearGradient><linearGradient id="f151"><stop offset="0" stop-color="#96c94a"/><stop offset="0.05" stop-color="#95c94a"/><stop offset="0.107" stop-color="#94c84a"/><stop offset="0.16" stop-color="#93c84a"/><stop offset="0.214" stop-color="#93c84a"/><stop offset="0.25" stop-color="#92c849"/><stop offset="0.286" stop-color="#92c749"/><stop offset="0.321" stop-color="#92c749"/><stop offset="0.357" stop-color="#92c749"/><stop offset="0.393" stop-color="#92c749"/><stop offset="0.429" stop-color="#91c749"/><stop offset="0.5" stop-color="#91c749"/><stop offset="0.571" stop-color="#90c749"/><stop offset="0.714" stop-color="#8fc649"/><stop offset="0.857" stop-color="#8ec548"/><stop offset="1" stop-color="#8dc548"/></linearGradient><clipPath id="cf"><rect x="1136.5" y="661" width="282" height="368.6"/></clipPath><filter id="bf" x="-5%" y="-5%" width="110%" height="110%"><feGaussianBlur stdDeviation="0.6 1.3"/></filter><linearGradient id="g0"><stop offset="0" stop-color="#8dc548"/><stop offset="0.05" stop-color="#8dc548"/><stop offset="0.107" stop-color="#8dc548"/><stop offset="0.16" stop-color="#8dc548"/><stop offset="0.214" stop-color="#8dc548"/><stop offset="0.25" stop-color="#8dc548"/><stop offset="0.286" stop-color="#8dc548"/><stop offset="0.321" stop-color="#8dc548"/><stop offset="0.357" stop-color="#8dc548"/><stop offset="0.393" stop-color="#8dc548"/><stop offset="0.429" stop-color="#8dc548"/><stop offset="0.5" stop-color="#8dc548"/><stop offset="0.571" stop-color="#8dc548"/><stop offset="0.714" stop-color="#8dc548"/><stop offset="0.857" stop-color="#8dc548"/><stop offset="1" stop-color="#8dc548"/></linearGradient><linearGradient id="g1"><stop offset="0" stop-color="#8dc548"/><stop offset="0.05" stop-color="#8dc548"/><stop offset="0.107" stop-color="#8dc548"/><stop offset="0.16" stop-color="#8dc548"/><stop offset="0.214" stop-color="#8dc548"/><stop offset="0.25" stop-color="#8dc548"/><stop offset="0.286" stop-color="#8dc548"/><stop offset="0.321" stop-color="#8dc548"/><stop offset="0.357" stop-color="#8dc548"/><stop offset="0.393" stop-color="#8dc548"/><stop offset="0.429" stop-color="#8dc548"/><stop offset="0.5" stop-color="#8dc548"/><stop offset="0.571" stop-color="#8dc548"/><stop offset="0.714" stop-color="#8dc548"/><stop offset="0.857" stop-color="#8dc548"/><stop offset="1" stop-color="#8dc548"/></linearGradient><linearGradient id="g2"><stop offset="0" stop-color="#8dc548"/><stop offset="0.05" stop-color="#8dc548"/><stop offset="0.107" stop-color="#8dc548"/><stop offset="0.16" stop-color="#8dc548"/><stop offset="0.214" stop-color="#8dc548"/><stop offset="0.25" stop-color="#8dc548"/><stop offset="0.286" stop-color="#8dc548"/><stop offset="0.321" stop-color="#8dc548"/><stop offset="0.357" stop-color="#8dc548"/><stop offset="0.393" stop-color="#8dc548"/><stop offset="0.429" stop-color="#8dc548"/><stop offset="0.5" stop-color="#8dc548"/><stop offset="0.571" stop-color="#8dc548"/><stop offset="0.714" stop-color="#8dc548"/><stop offset="0.857" stop-color="#8dc548"/><stop offset="1" stop-color="#8dc548"/></linearGradient><linearGradient id="g3"><stop offset="0" stop-color="#8dc548"/><stop offset="0.05" stop-color="#8dc548"/><stop offset="0.107" stop-color="#8dc548"/><stop offset="0.16" stop-color="#8dc548"/><stop offset="0.214" stop-color="#8dc548"/><stop offset="0.25" stop-color="#8dc548"/><stop offset="0.286" stop-color="#8dc548"/><stop offset="0.321" stop-color="#8dc548"/><stop offset="0.357" stop-color="#8dc549"/><stop offset="0.393" stop-color="#8dc549"/><stop offset="0.429" stop-color="#8dc549"/><stop offset="0.5" stop-color="#8dc549"/><stop offset="0.571" stop-color="#8dc548"/><stop offset="0.714" stop-color="#8dc548"/><stop offset="0.857" stop-color="#8dc548"/><stop offset="1" stop-color="#8dc548"/></linearGradient><linearGradient id="g4"><stop offset="0" stop-color="#8dc548"/><stop offset="0.05" stop-color="#8dc548"/><stop offset="0.107" stop-color="#8dc548"/><stop offset="0.16" stop-color="#8dc549"/><stop offset="0.214" stop-color="#8dc549"/><stop offset="0.25" stop-color="#8dc549"/><stop offset="0.286" stop-color="#8dc549"/><stop offset="0.321" stop-color="#8dc549"/><stop offset="0.357" stop-color="#8dc549"/><stop offset="0.393" stop-color="#8dc549"/><stop offset="0.429" stop-color="#8dc549"/><stop offset="0.5" stop-color="#8dc549"/><stop offset="0.571" stop-color="#8dc549"/><stop offset="0.714" stop-color="#8dc549"/><stop offset="0.857" stop-color="#8dc548"/><stop offset="1" stop-color="#8dc548"/></linearGradient><linearGradient id="g5"><stop offset="0" stop-color="#8dc548"/><stop offset="0.05" stop-color="#8dc549"/><stop offset="0.107" stop-color="#8dc549"/><stop offset="0.16" stop-color="#8dc549"/><stop offset="0.214" stop-color="#8dc549"/><stop offset="0.25" stop-color="#8dc549"/><stop offset="0.286" stop-color="#8dc549"/><stop offset="0.321" stop-color="#8dc549"/><stop offset="0.357" stop-color="#8dc549"/><stop offset="0.393" stop-color="#8dc549"/><stop offset="0.429" stop-color="#8dc549"/><stop offset="0.5" stop-color="#8dc549"/><stop offset="0.571" stop-color="#8dc549"/><stop offset="0.714" stop-color="#8dc549"/><stop offset="0.857" stop-color="#8dc549"/><stop offset="1" stop-color="#8dc548"/></linearGradient><linearGradient id="g6"><stop offset="0" stop-color="#8dc549"/><stop offset="0.05" stop-color="#8dc549"/><stop offset="0.107" stop-color="#8dc549"/><stop offset="0.16" stop-color="#8dc549"/><stop offset="0.214" stop-color="#8dc549"/><stop offset="0.25" stop-color="#8dc549"/><stop offset="0.286" stop-color="#8dc549"/><stop offset="0.321" stop-color="#8dc549"/><stop offset="0.357" stop-color="#8dc549"/><stop offset="0.393" stop-color="#8dc549"/><stop offset="0.429" stop-color="#8dc549"/><stop offset="0.5" stop-color="#8dc549"/><stop offset="0.571" stop-color="#8dc549"/><stop offset="0.714" stop-color="#8dc549"/><stop offset="0.857" stop-color="#8dc549"/><stop offset="1" stop-color="#8dc548"/></linearGradient><linearGradient id="g7"><stop offset="0" stop-color="#8dc549"/><stop offset="0.05" stop-color="#8dc549"/><stop offset="0.107" stop-color="#8dc549"/><stop offset="0.16" stop-color="#8dc549"/><stop offset="0.214" stop-color="#8dc549"/><stop offset="0.25" stop-color="#8dc549"/><stop offset="0.286" stop-color="#8dc549"/><stop offset="0.321" stop-color="#8dc549"/><stop offset="0.357" stop-color="#8dc549"/><stop offset="0.393" stop-color="#8dc549"/><stop offset="0.429" stop-color="#8dc549"/><stop offset="0.5" stop-color="#8dc549"/><stop offset="0.571" stop-color="#8dc549"/><stop offset="0.714" stop-color="#8dc549"/><stop offset="0.857" stop-color="#8dc549"/><stop offset="1" stop-color="#8dc549"/></linearGradient><linearGradient id="g8"><stop offset="0" stop-color="#8dc549"/><stop offset="0.05" stop-color="#8dc549"/><stop offset="0.107" stop-color="#8dc549"/><stop offset="0.16" stop-color="#8dc549"/><stop offset="0.214" stop-color="#8dc549"/><stop offset="0.25" stop-color="#8dc549"/><stop offset="0.286" stop-color="#8dc549"/><stop offset="0.321" stop-color="#8dc549"/><stop offset="0.357" stop-color="#8dc549"/><stop offset="0.393" stop-color="#8dc549"/><stop offset="0.429" stop-color="#8dc549"/><stop offset="0.5" stop-color="#8dc549"/><stop offset="0.571" stop-color="#8dc549"/><stop offset="0.714" stop-color="#8dc549"/><stop offset="0.857" stop-color="#8dc549"/><stop offset="1" stop-color="#8dc549"/></linearGradient><linearGradient id="g9"><stop offset="0" stop-color="#8dc54a"/><stop offset="0.05" stop-color="#8dc54a"/><stop offset="0.107" stop-color="#8dc54a"/><stop offset="0.16" stop-color="#8dc54a"/><stop offset="0.214" stop-color="#8dc54a"/><stop offset="0.25" stop-color="#8dc54a"/><stop offset="0.286" stop-color="#8dc54a"/><stop offset="0.321" stop-color="#8dc54a"/><stop offset="0.357" stop-color="#8dc54a"/><stop offset="0.393" stop-color="#8dc54a"/><stop offset="0.429" stop-color="#8dc54a"/><stop offset="0.5" stop-color="#8dc54a"/><stop offset="0.571" stop-color="#8dc54a"/><stop offset="0.714" stop-color="#8dc549"/><stop offset="0.857" stop-color="#8dc549"/><stop offset="1" stop-color="#8dc549"/></linearGradient><linearGradient id="g10"><stop offset="0" stop-color="#8dc54a"/><stop offset="0.05" stop-color="#8dc54a"/><stop offset="0.107" stop-color="#8dc54a"/><stop offset="0.16" stop-color="#8dc54a"/><stop offset="0.214" stop-color="#8dc54a"/><stop offset="0.25" stop-color="#8dc54a"/><stop offset="0.286" stop-color="#8dc54a"/><stop offset="0.321" stop-color="#8dc54a"/><stop offset="0.357" stop-color="#8dc54a"/><stop offset="0.393" stop-color="#8dc54a"/><stop offset="0.429" stop-color="#8dc54a"/><stop offset="0.5" stop-color="#8dc54a"/><stop offset="0.571" stop-color="#8dc54a"/><stop offset="0.714" stop-color="#8dc54a"/><stop offset="0.857" stop-color="#8dc549"/><stop offset="1" stop-color="#8dc549"/></linearGradient><linearGradient id="g11"><stop offset="0" stop-color="#8dc54b"/><stop offset="0.05" stop-color="#8dc54b"/><stop offset="0.107" stop-color="#8dc54a"/><stop offset="0.16" stop-color="#8dc54a"/><stop offset="0.214" stop-color="#8dc54b"/><stop offset="0.25" stop-color="#8dc54b"/><stop offset="0.286" stop-color="#8dc54b"/><stop offset="0.321" stop-color="#8dc54b"/><stop offset="0.357" stop-color="#8dc54b"/><stop offset="0.393" stop-color="#8dc54b"/><stop offset="0.429" stop-color="#8dc54a"/><stop offset="0.5" stop-color="#8dc54a"/><stop offset="0.571" stop-color="#8dc54a"/><stop offset="0.714" stop-color="#8dc54a"/><stop offset="0.857" stop-color="#8dc549"/><stop offset="1" stop-color="#8dc549"/></linearGradient><linearGradient id="g12"><stop offset="0" stop-color="#8cc54c"/><stop offset="0.05" stop-color="#8dc54b"/><stop offset="0.107" stop-color="#8dc54b"/><stop offset="0.16" stop-color="#8dc54b"/><stop offset="0.214" stop-color="#8dc54b"/><stop offset="0.25" stop-color="#8dc54b"/><stop offset="0.286" stop-color="#8dc54b"/><stop offset="0.321" stop-color="#8dc54b"/><stop offset="0.357" stop-color="#8dc54b"/><stop offset="0.393" stop-color="#8dc54b"/><stop offset="0.429" stop-color="#8dc54b"/><stop offset="0.5" stop-color="#8dc54b"/><stop offset="0.571" stop-color="#8dc54b"/><stop offset="0.714" stop-color="#8dc54a"/><stop offset="0.857" stop-color="#8dc54a"/><stop offset="1" stop-color="#8dc549"/></linearGradient><linearGradient id="g13"><stop offset="0" stop-color="#8cc44e"/><stop offset="0.05" stop-color="#8cc54c"/><stop offset="0.107" stop-color="#8cc54c"/><stop offset="0.16" stop-color="#8cc54c"/><stop offset="0.214" stop-color="#8cc54c"/><stop offset="0.25" stop-color="#8cc54c"/><stop offset="0.286" stop-color="#8cc54c"/><stop offset="0.321" stop-color="#8cc54c"/><stop offset="0.357" stop-color="#8cc54c"/><stop offset="0.393" stop-color="#8cc54c"/><stop offset="0.429" stop-color="#8cc54c"/><stop offset="0.5" stop-color="#8cc54b"/><stop offset="0.571" stop-color="#8dc54b"/><stop offset="0.714" stop-color="#8dc54b"/><stop offset="0.857" stop-color="#8dc54a"/><stop offset="1" stop-color="#8dc549"/></linearGradient><linearGradient id="g14"><stop offset="0" stop-color="#8cc450"/><stop offset="0.05" stop-color="#8cc44e"/><stop offset="0.107" stop-color="#8cc54d"/><stop offset="0.16" stop-color="#8cc54c"/><stop offset="0.214" stop-color="#8cc54c"/><stop offset="0.25" stop-color="#8cc54c"/><stop offset="0.286" stop-color="#8cc54c"/><stop offset="0.321" stop-color="#8cc54c"/><stop offset="0.357" stop-color="#8cc54c"/><stop offset="0.393" stop-color="#8cc54c"/><stop offset="0.429" stop-color="#8cc54c"/><stop offset="0.5" stop-color="#8cc54c"/><stop offset="0.571" stop-color="#8cc54c"/><stop offset="0.714" stop-color="#8dc54b"/><stop offset="0.857" stop-color="#8dc54a"/><stop offset="1" stop-color="#8dc54a"/></linearGradient><linearGradient id="g15"><stop offset="0" stop-color="#8cc452"/><stop offset="0.05" stop-color="#8cc44f"/><stop offset="0.107" stop-color="#8cc44e"/><stop offset="0.16" stop-color="#8cc44d"/><stop offset="0.214" stop-color="#8cc44d"/><stop offset="0.25" stop-color="#8cc44d"/><stop offset="0.286" stop-color="#8cc44d"/><stop offset="0.321" stop-color="#8cc44d"/><stop offset="0.357" stop-color="#8cc44d"/><stop offset="0.393" stop-color="#8cc54d"/><stop offset="0.429" stop-color="#8cc54d"/><stop offset="0.5" stop-color="#8cc54d"/><stop offset="0.571" stop-color="#8cc54c"/><stop offset="0.714" stop-color="#8cc54c"/><stop offset="0.857" stop-color="#8dc54b"/><stop offset="1" stop-color="#8dc54a"/></linearGradient><linearGradient id="g16"><stop offset="0" stop-color="#8bc455"/><stop offset="0.05" stop-color="#8cc451"/><stop offset="0.107" stop-color="#8cc44f"/><stop offset="0.16" stop-color="#8cc44e"/><stop offset="0.214" stop-color="#8cc44e"/><stop offset="0.25" stop-color="#8cc44e"/><stop offset="0.286" stop-color="#8cc44e"/><stop offset="0.321" stop-color="#8cc44e"/><stop offset="0.357" stop-color="#8cc44e"/><stop offset="0.393" stop-color="#8cc44e"/><stop offset="0.429" stop-color="#8cc44e"/><stop offset="0.5" stop-color="#8cc44d"/><stop offset="0.571" stop-color="#8cc54d"/><stop offset="0.714" stop-color="#8cc54c"/><stop offset="0.857" stop-color="#8dc54b"/><stop offset="1" stop-color="#8dc54a"/></linearGradient><linearGradient id="g17"><stop offset="0" stop-color="#8bc358"/><stop offset="0.05" stop-color="#8bc454"/><stop offset="0.107" stop-color="#8cc450"/><stop offset="0.16" stop-color="#8cc44f"/><stop offset="0.214" stop-color="#8cc44f"/><stop offset="0.25" stop-color="#8cc44f"/><stop offset="0.286" stop-color="#8cc44f"/><stop offset="0.321" stop-color="#8cc44f"/><stop offset="0.357" stop-color="#8cc44f"/><stop offset="0.393" stop-color="#8cc44f"/><stop offset="0.429" stop-color="#8cc44f"/><stop offset="0.5" stop-color="#8cc44e"/><stop offset="0.571" stop-color="#8cc44e"/><stop offset="0.714" stop-color="#8cc54d"/><stop offset="0.857" stop-color="#8cc54c"/><stop offset="1" stop-color="#8dc54b"/></linearGradient><linearGradient id="g18"><stop offset="0" stop-color="#8ac35c"/><stop offset="0.05" stop-color="#8bc457"/><stop offset="0.107" stop-color="#8bc452"/><stop offset="0.16" stop-color="#8cc451"/><stop offset="0.214" stop-color="#8cc450"/><stop offset="0.25" stop-color="#8cc450"/><stop offset="0.286" stop-color="#8cc450"/><stop offset="0.321" stop-color="#8cc450"/><stop offset="0.357" stop-color="#8cc450"/><stop offset="0.393" stop-color="#8cc450"/><stop offset="0.429" stop-color="#8cc450"/><stop offset="0.5" stop-color="#8cc44f"/><stop offset="0.571" stop-color="#8cc44f"/><stop offset="0.714" stop-color="#8cc44d"/><stop offset="0.857" stop-color="#8cc54c"/><stop offset="1" stop-color="#8dc54b"/></linearGradient><linearGradient id="g19"><stop offset="0" stop-color="#8ac262"/><stop offset="0.05" stop-color="#8ac35a"/><stop offset="0.107" stop-color="#8bc454"/><stop offset="0.16" stop-color="#8bc452"/><stop offset="0.214" stop-color="#8cc452"/><stop offset="0.25" stop-color="#8cc452"/><stop offset="0.286" stop-color="#8cc451"/><stop offset="0.321" stop-color="#8cc451"/><stop offset="0.357" stop-color="#8cc451"/><stop offset="0.393" stop-color="#8cc451"/><stop offset="0.429" stop-color="#8cc451"/><stop offset="0.5" stop-color="#8cc450"/><stop offset="0.571" stop-color="#8cc450"/><stop offset="0.714" stop-color="#8cc44e"/><stop offset="0.857" stop-color="#8cc54d"/><stop offset="1" stop-color="#8cc54b"/></linearGradient><linearGradient id="g20"><stop offset="0" stop-color="#8ac068"/><stop offset="0.05" stop-color="#8ac25f"/><stop offset="0.107" stop-color="#8bc357"/><stop offset="0.16" stop-color="#8bc454"/><stop offset="0.214" stop-color="#8bc453"/><stop offset="0.25" stop-color="#8bc453"/><stop offset="0.286" stop-color="#8bc453"/><stop offset="0.321" stop-color="#8bc453"/><stop offset="0.357" stop-color="#8bc452"/><stop offset="0.393" stop-color="#8bc452"/><stop offset="0.429" stop-color="#8cc452"/><stop offset="0.5" stop-color="#8cc451"/><stop offset="0.571" stop-color="#8cc451"/><stop offset="0.714" stop-color="#8cc44f"/><stop offset="0.857" stop-color="#8cc44d"/><stop offset="1" stop-color="#8cc54c"/></linearGradient><linearGradient id="g21"><stop offset="0" stop-color="#8abf6f"/><stop offset="0.05" stop-color="#8ac165"/><stop offset="0.107" stop-color="#8ac35a"/><stop offset="0.16" stop-color="#8bc456"/><stop offset="0.214" stop-color="#8bc455"/><stop offset="0.25" stop-color="#8bc455"/><stop offset="0.286" stop-color="#8bc454"/><stop offset="0.321" stop-color="#8bc454"/><stop offset="0.357" stop-color="#8bc454"/><stop offset="0.393" stop-color="#8bc454"/><stop offset="0.429" stop-color="#8bc453"/><stop offset="0.5" stop-color="#8bc453"/><stop offset="0.571" stop-color="#8cc452"/><stop offset="0.714" stop-color="#8cc450"/><stop offset="0.857" stop-color="#8cc44e"/><stop offset="1" stop-color="#8cc54c"/></linearGradient><linearGradient id="g22"><stop offset="0" stop-color="#8abe78"/><stop offset="0.05" stop-color="#8abf6c"/><stop offset="0.107" stop-color="#8ac25f"/><stop offset="0.16" stop-color="#8bc359"/><stop offset="0.214" stop-color="#8bc457"/><stop offset="0.25" stop-color="#8bc456"/><stop offset="0.286" stop-color="#8bc456"/><stop offset="0.321" stop-color="#8bc456"/><stop offset="0.357" stop-color="#8bc455"/><stop offset="0.393" stop-color="#8bc455"/><stop offset="0.429" stop-color="#8bc455"/><stop offset="0.5" stop-color="#8bc454"/><stop offset="0.571" stop-color="#8bc453"/><stop offset="0.714" stop-color="#8cc451"/><stop offset="0.857" stop-color="#8cc44f"/><stop offset="1" stop-color="#8cc54d"/></linearGradient><linearGradient id="g23"><stop offset="0" stop-color="#8abe82"/><stop offset="0.05" stop-color="#8abe74"/><stop offset="0.107" stop-color="#8ac165"/><stop offset="0.16" stop-color="#8ac35b"/><stop offset="0.214" stop-color="#8ac359"/><stop offset="0.25" stop-color="#8bc358"/><stop offset="0.286" stop-color="#8bc358"/><stop offset="0.321" stop-color="#8bc357"/><stop offset="0.357" stop-color="#8bc357"/><stop offset="0.393" stop-color="#8bc457"/><stop offset="0.429" stop-color="#8bc456"/><stop offset="0.5" stop-color="#8bc455"/><stop offset="0.571" stop-color="#8bc454"/><stop offset="0.714" stop-color="#8cc452"/><stop offset="0.857" stop-color="#8cc450"/><stop offset="1" stop-color="#8cc44d"/></linearGradient><linearGradient id="g24"><stop offset="0" stop-color="#8abe8c"/><stop offset="0.05" stop-color="#8abe7e"/><stop offset="0.107" stop-color="#8ac06b"/><stop offset="0.16" stop-color="#8ac260"/><stop offset="0.214" stop-color="#8ac35b"/><stop offset="0.25" stop-color="#8ac35a"/><stop offset="0.286" stop-color="#8ac35a"/><stop offset="0.321" stop-color="#8ac359"/><stop offset="0.357" stop-color="#8ac359"/><stop offset="0.393" stop-color="#8bc358"/><stop offset="0.429" stop-color="#8bc358"/><stop offset="0.5" stop-color="#8bc457"/><stop offset="0.571" stop-color="#8bc456"/><stop offset="0.714" stop-color="#8bc453"/><stop offset="0.857" stop-color="#8cc451"/><stop offset="1" stop-color="#8cc44e"/></linearGradient><linearGradient id="g25"><stop offset="0" stop-color="#8abf96"/><stop offset="0.05" stop-color="#8abe89"/><stop offset="0.107" stop-color="#8abe72"/><stop offset="0.16" stop-color="#8ac165"/><stop offset="0.214" stop-color="#8ac35e"/><stop offset="0.25" stop-color="#8ac35d"/><stop offset="0.286" stop-color="#8ac35c"/><stop offset="0.321" stop-color="#8ac35b"/><stop offset="0.357" stop-color="#8ac35b"/><stop offset="0.393" stop-color="#8ac35a"/><stop offset="0.429" stop-color="#8ac35a"/><stop offset="0.5" stop-color="#8bc359"/><stop offset="0.571" stop-color="#8bc357"/><stop offset="0.714" stop-color="#8bc454"/><stop offset="0.857" stop-color="#8cc451"/><stop offset="1" stop-color="#8cc44f"/></linearGradient><linearGradient id="g26"><stop offset="0" stop-color="#8ac09e"/><stop offset="0.05" stop-color="#8abe93"/><stop offset="0.107" stop-color="#8abe7d"/><stop offset="0.16" stop-color="#8ac06b"/><stop offset="0.214" stop-color="#8ac262"/><stop offset="0.25" stop-color="#8ac260"/><stop offset="0.286" stop-color="#8ac25f"/><stop offset="0.321" stop-color="#8ac35e"/><stop offset="0.357" stop-color="#8ac35d"/><stop offset="0.393" stop-color="#8ac35c"/><stop offset="0.429" stop-color="#8ac35c"/><stop offset="0.5" stop-color="#8ac35a"/><stop offset="0.571" stop-color="#8ac359"/><stop offset="0.714" stop-color="#8bc456"/><stop offset="0.857" stop-color="#8bc452"/><stop offset="1" stop-color="#8cc44f"/></linearGradient><linearGradient id="g27"><stop offset="0" stop-color="#8ac1a5"/><stop offset="0.05" stop-color="#8ac09c"/><stop offset="0.107" stop-color="#8abe88"/><stop offset="0.16" stop-color="#8abe71"/><stop offset="0.214" stop-color="#8ac166"/><stop offset="0.25" stop-color="#8ac163"/><stop offset="0.286" stop-color="#8ac262"/><stop offset="0.321" stop-color="#8ac261"/><stop offset="0.357" stop-color="#8ac260"/><stop offset="0.393" stop-color="#8ac25f"/><stop offset="0.429" stop-color="#8ac35e"/><stop offset="0.5" stop-color="#8ac35c"/><stop offset="0.571" stop-color="#8ac35a"/><stop offset="0.714" stop-color="#8bc457"/><stop offset="0.857" stop-color="#8bc453"/><stop offset="1" stop-color="#8cc450"/></linearGradient><linearGradient id="g28"><stop offset="0" stop-color="#8ac2ad"/><stop offset="0.05" stop-color="#8ac1a4"/><stop offset="0.107" stop-color="#8abe93"/><stop offset="0.16" stop-color="#8abe7a"/><stop offset="0.214" stop-color="#8ac06b"/><stop offset="0.25" stop-color="#8ac167"/><stop offset="0.286" stop-color="#8ac165"/><stop offset="0.321" stop-color="#8ac164"/><stop offset="0.357" stop-color="#8ac163"/><stop offset="0.393" stop-color="#8ac262"/><stop offset="0.429" stop-color="#8ac261"/><stop offset="0.5" stop-color="#8ac25f"/><stop offset="0.571" stop-color="#8ac35c"/><stop offset="0.714" stop-color="#8bc358"/><stop offset="0.857" stop-color="#8bc455"/><stop offset="1" stop-color="#8cc451"/></linearGradient><linearGradient id="g29"><stop offset="0" stop-color="#8ac4b4"/><stop offset="0.05" stop-color="#8ac2ac"/><stop offset="0.107" stop-color="#8ac09c"/><stop offset="0.16" stop-color="#8abe85"/><stop offset="0.214" stop-color="#8abe70"/><stop offset="0.25" stop-color="#8ac06b"/><stop offset="0.286" stop-color="#8ac068"/><stop offset="0.321" stop-color="#8ac067"/><stop offset="0.357" stop-color="#8ac166"/><stop offset="0.393" stop-color="#8ac165"/><stop offset="0.429" stop-color="#8ac164"/><stop offset="0.5" stop-color="#8ac262"/><stop offset="0.571" stop-color="#8ac25f"/><stop offset="0.714" stop-color="#8ac35a"/><stop offset="0.857" stop-color="#8bc456"/><stop offset="1" stop-color="#8cc452"/></linearGradient><linearGradient id="g30"><stop offset="0" stop-color="#8ac5bb"/><stop offset="0.05" stop-color="#8ac4b4"/><stop offset="0.107" stop-color="#8ac1a5"/><stop offset="0.16" stop-color="#8abe90"/><stop offset="0.214" stop-color="#8abe78"/><stop offset="0.25" stop-color="#8abf6f"/><stop offset="0.286" stop-color="#8abf6c"/><stop offset="0.321" stop-color="#8ac06b"/><stop offset="0.357" stop-color="#8ac069"/><stop offset="0.393" stop-color="#8ac068"/><stop offset="0.429" stop-color="#8ac167"/><stop offset="0.5" stop-color="#8ac164"/><stop offset="0.571" stop-color="#8ac261"/><stop offset="0.714" stop-color="#8ac35b"/><stop offset="0.857" stop-color="#8bc457"/><stop offset="1" stop-color="#8bc452"/></linearGradient><linearGradient id="g31"><stop offset="0" stop-color="#8ac6c1"/><stop offset="0.05" stop-color="#8ac5bb"/><stop offset="0.107" stop-color="#8ac3ae"/><stop offset="0.16" stop-color="#8abf99"/><stop offset="0.214" stop-color="#8abe81"/><stop offset="0.25" stop-color="#8abe75"/><stop offset="0.286" stop-color="#8abf70"/><stop offset="0.321" stop-color="#8abf6e"/><stop offset="0.357" stop-color="#8abf6c"/><stop offset="0.393" stop-color="#8ac06b"/><stop offset="0.429" stop-color="#8ac06a"/><stop offset="0.5" stop-color="#8ac067"/><stop offset="0.571" stop-color="#8ac164"/><stop offset="0.714" stop-color="#8ac35d"/><stop offset="0.857" stop-color="#8bc358"/><stop offset="1" stop-color="#8bc453"/></linearGradient><linearGradient id="g32"><stop offset="0" stop-color="#83bec0"/><stop offset="0.05" stop-color="#8ac6c2"/><stop offset="0.107" stop-color="#8ac4b6"/><stop offset="0.16" stop-color="#8ac1a3"/><stop offset="0.214" stop-color="#8abe8a"/><stop offset="0.25" stop-color="#8abe7c"/><stop offset="0.286" stop-color="#8abe74"/><stop offset="0.321" stop-color="#8abe71"/><stop offset="0.357" stop-color="#8abf70"/><stop offset="0.393" stop-color="#8abf6e"/><stop offset="0.429" stop-color="#8abf6d"/><stop offset="0.5" stop-color="#8ac06a"/><stop offset="0.571" stop-color="#8ac166"/><stop offset="0.714" stop-color="#8ac25f"/><stop offset="0.857" stop-color="#8ac359"/><stop offset="1" stop-color="#8bc454"/></linearGradient><linearGradient id="g33"><stop offset="0" stop-color="#7cb6be"/><stop offset="0.05" stop-color="#83bdc0"/><stop offset="0.107" stop-color="#8ac5be"/><stop offset="0.16" stop-color="#8ac2ac"/><stop offset="0.214" stop-color="#8abf94"/><stop offset="0.25" stop-color="#8abe84"/><stop offset="0.286" stop-color="#8abe7a"/><stop offset="0.321" stop-color="#8abe76"/><stop offset="0.357" stop-color="#8abe73"/><stop offset="0.393" stop-color="#8abe71"/><stop offset="0.429" stop-color="#8abf6f"/><stop offset="0.5" stop-color="#8abf6d"/><stop offset="0.571" stop-color="#8ac069"/><stop offset="0.714" stop-color="#8ac261"/><stop offset="0.857" stop-color="#8ac35a"/><stop offset="1" stop-color="#8bc455"/></linearGradient><linearGradient id="g34"><stop offset="0" stop-color="#77afbd"/><stop offset="0.05" stop-color="#7cb6be"/><stop offset="0.107" stop-color="#86c1c1"/><stop offset="0.16" stop-color="#8ac4b5"/><stop offset="0.214" stop-color="#8ac09d"/><stop offset="0.25" stop-color="#8abe8c"/><stop offset="0.286" stop-color="#8abe80"/><stop offset="0.321" stop-color="#8abe7b"/><stop offset="0.357" stop-color="#8abe78"/><stop offset="0.393" stop-color="#8abe75"/><stop offset="0.429" stop-color="#8abe72"/><stop offset="0.5" stop-color="#8abf6f"/><stop offset="0.571" stop-color="#8ac06b"/><stop offset="0.714" stop-color="#8ac163"/><stop offset="0.857" stop-color="#8ac35b"/><stop offset="1" stop-color="#8bc456"/></linearGradient><linearGradient id="g35"><stop offset="0" stop-color="#72a9bc"/><stop offset="0.05" stop-color="#77afbd"/><stop offset="0.107" stop-color="#7eb8bf"/><stop offset="0.16" stop-color="#8ac5be"/><stop offset="0.214" stop-color="#8ac1a5"/><stop offset="0.25" stop-color="#8abf94"/><stop offset="0.286" stop-color="#8abe87"/><stop offset="0.321" stop-color="#8abe7f"/><stop offset="0.357" stop-color="#8abe7c"/><stop offset="0.393" stop-color="#8abe79"/><stop offset="0.429" stop-color="#8abe77"/><stop offset="0.5" stop-color="#8abe72"/><stop offset="0.571" stop-color="#8abf6e"/><stop offset="0.714" stop-color="#8ac165"/><stop offset="0.857" stop-color="#8ac35d"/><stop offset="1" stop-color="#8bc456"/></linearGradient><linearGradient id="g36"><stop offset="0" stop-color="#6ea4bb"/><stop offset="0.05" stop-color="#72aabc"/><stop offset="0.107" stop-color="#79b2bd"/><stop offset="0.16" stop-color="#85c1c1"/><stop offset="0.214" stop-color="#8ac3ae"/><stop offset="0.25" stop-color="#8ac09c"/><stop offset="0.286" stop-color="#8abe8d"/><stop offset="0.321" stop-color="#8abe84"/><stop offset="0.357" stop-color="#8abe80"/><stop offset="0.393" stop-color="#8abe7d"/><stop offset="0.429" stop-color="#8abe7a"/><stop offset="0.5" stop-color="#8abe75"/><stop offset="0.571" stop-color="#8abe70"/><stop offset="0.714" stop-color="#8ac067"/><stop offset="0.857" stop-color="#8ac35e"/><stop offset="1" stop-color="#8bc357"/></linearGradient><linearGradient id="g37"><stop offset="0" stop-color="#6ca1ba"/><stop offset="0.05" stop-color="#6fa6bb"/><stop offset="0.107" stop-color="#76adbd"/><stop offset="0.16" stop-color="#81bbc0"/><stop offset="0.214" stop-color="#8ac4b7"/><stop offset="0.25" stop-color="#8ac1a4"/><stop offset="0.286" stop-color="#8abf94"/><stop offset="0.321" stop-color="#8abe89"/><stop offset="0.357" stop-color="#8abe84"/><stop offset="0.393" stop-color="#8abe81"/><stop offset="0.429" stop-color="#8abe7e"/><stop offset="0.5" stop-color="#8abe79"/><stop offset="0.571" stop-color="#8abe72"/><stop offset="0.714" stop-color="#8ac069"/><stop offset="0.857" stop-color="#8ac260"/><stop offset="1" stop-color="#8bc358"/></linearGradient><linearGradient id="g38"><stop offset="0" stop-color="#6ba0b9"/><stop offset="0.05" stop-color="#6da3ba"/><stop offset="0.107" stop-color="#73abbc"/><stop offset="0.16" stop-color="#80babf"/><stop offset="0.214" stop-color="#8ac4b8"/><stop offset="0.25" stop-color="#8ac2a8"/><stop offset="0.286" stop-color="#8ac09a"/><stop offset="0.321" stop-color="#8abe8f"/><stop offset="0.357" stop-color="#8abe88"/><stop offset="0.393" stop-color="#8abe84"/><stop offset="0.429" stop-color="#8abe81"/><stop offset="0.5" stop-color="#8abe7c"/><stop offset="0.571" stop-color="#8abe75"/><stop offset="0.714" stop-color="#8ac06b"/><stop offset="0.857" stop-color="#8ac261"/><stop offset="1" stop-color="#8ac359"/></linearGradient><linearGradient id="g39"><stop offset="0" stop-color="#6ba1b9"/><stop offset="0.05" stop-color="#6ca2ba"/><stop offset="0.107" stop-color="#72a9bc"/><stop offset="0.16" stop-color="#7fb9bf"/><stop offset="0.214" stop-color="#8ac4b8"/><stop offset="0.25" stop-color="#8ac2a8"/><stop offset="0.286" stop-color="#8ac09b"/><stop offset="0.321" stop-color="#8abe91"/><stop offset="0.357" stop-color="#8abe8b"/><stop offset="0.393" stop-color="#8abe87"/><stop offset="0.429" stop-color="#8abe84"/><stop offset="0.5" stop-color="#8abe7f"/><stop offset="0.571" stop-color="#8abe78"/><stop offset="0.714" stop-color="#8abf6c"/><stop offset="0.857" stop-color="#8ac262"/><stop offset="1" stop-color="#8ac359"/></linearGradient><linearGradient id="g40"><stop offset="0" stop-color="#6ba1ba"/><stop offset="0.05" stop-color="#6ca2ba"/><stop offset="0.107" stop-color="#72a9bc"/><stop offset="0.16" stop-color="#80babf"/><stop offset="0.214" stop-color="#8ac4b7"/><stop offset="0.25" stop-color="#8ac2a8"/><stop offset="0.286" stop-color="#8ac09b"/><stop offset="0.321" stop-color="#8abe93"/><stop offset="0.357" stop-color="#8abe8d"/><stop offset="0.393" stop-color="#8abe89"/><stop offset="0.429" stop-color="#8abe87"/><stop offset="0.5" stop-color="#8abe82"/><stop offset="0.571" stop-color="#8abe7a"/><stop offset="0.714" stop-color="#8abf6e"/><stop offset="0.857" stop-color="#8ac163"/><stop offset="1" stop-color="#8ac35a"/></linearGradient><linearGradient id="g41"><stop offset="0" stop-color="#6ca2ba"/><stop offset="0.05" stop-color="#6da3ba"/><stop offset="0.107" stop-color="#73abbc"/><stop offset="0.16" stop-color="#82bcc0"/><stop offset="0.214" stop-color="#8ac4b6"/><stop offset="0.25" stop-color="#8ac1a7"/><stop offset="0.286" stop-color="#8ac09b"/><stop offset="0.321" stop-color="#8abf93"/><stop offset="0.357" stop-color="#8abe8f"/><stop offset="0.393" stop-color="#8abe8c"/><stop offset="0.429" stop-color="#8abe89"/><stop offset="0.5" stop-color="#8abe84"/><stop offset="0.571" stop-color="#8abe7c"/><stop offset="0.714" stop-color="#8abf6f"/><stop offset="0.857" stop-color="#8ac164"/><stop offset="1" stop-color="#8ac35a"/></linearGradient><linearGradient id="g42"><stop offset="0" stop-color="#6da3ba"/><stop offset="0.05" stop-color="#6ea5bb"/><stop offset="0.107" stop-color="#75adbd"/><stop offset="0.16" stop-color="#84bfc1"/><stop offset="0.214" stop-color="#8ac4b3"/><stop offset="0.25" stop-color="#8ac1a5"/><stop offset="0.286" stop-color="#8ac09b"/><stop offset="0.321" stop-color="#8abf94"/><stop offset="0.357" stop-color="#8abe90"/><stop offset="0.393" stop-color="#8abe8d"/><stop offset="0.429" stop-color="#8abe8a"/><stop offset="0.5" stop-color="#8abe85"/><stop offset="0.571" stop-color="#8abe7e"/><stop offset="0.714" stop-color="#8abe70"/><stop offset="0.857" stop-color="#8ac165"/><stop offset="1" stop-color="#8ac35b"/></linearGradient><linearGradient id="g43"><stop offset="0" stop-color="#6ea4bb"/><stop offset="0.05" stop-color="#70a7bb"/><stop offset="0.107" stop-color="#78b0bd"/><stop offset="0.16" stop-color="#88c4c1"/><stop offset="0.214" stop-color="#8ac3b1"/><stop offset="0.25" stop-color="#8ac1a4"/><stop offset="0.286" stop-color="#8ac09a"/><stop offset="0.321" stop-color="#8abf94"/><stop offset="0.357" stop-color="#8abe91"/><stop offset="0.393" stop-color="#8abe8e"/><stop offset="0.429" stop-color="#8abe8c"/><stop offset="0.5" stop-color="#8abe87"/><stop offset="0.571" stop-color="#8abe7f"/><stop offset="0.714" stop-color="#8abe71"/><stop offset="0.857" stop-color="#8ac166"/><stop offset="1" stop-color="#8ac35b"/></linearGradient><linearGradient id="g44"><stop offset="0" stop-color="#70a6bb"/><stop offset="0.05" stop-color="#72a9bc"/><stop offset="0.107" stop-color="#7bb4be"/><stop offset="0.16" stop-color="#8ac6c1"/><stop offset="0.214" stop-color="#8ac3ae"/><stop offset="0.25" stop-color="#8ac1a2"/><stop offset="0.286" stop-color="#8abf99"/><stop offset="0.321" stop-color="#8abf94"/><stop offset="0.357" stop-color="#8abe91"/><stop offset="0.393" stop-color="#8abe8f"/><stop offset="0.429" stop-color="#8abe8c"/><stop offset="0.5" stop-color="#8abe88"/><stop offset="0.571" stop-color="#8abe80"/><stop offset="0.714" stop-color="#8abe71"/><stop offset="0.857" stop-color="#8ac166"/><stop offset="1" stop-color="#8ac35c"/></linearGradient><linearGradient id="g45"><stop offset="0" stop-color="#71a9bb"/><stop offset="0.05" stop-color="#74abbc"/><stop offset="0.107" stop-color="#7eb7bf"/><stop offset="0.16" stop-color="#8ac5be"/><stop offset="0.214" stop-color="#8ac2ab"/><stop offset="0.25" stop-color="#8ac0a0"/><stop offset="0.286" stop-color="#8abf98"/><stop offset="0.321" stop-color="#8abf94"/><stop offset="0.357" stop-color="#8abe91"/><stop offset="0.393" stop-color="#8abe8f"/><stop offset="0.429" stop-color="#8abe8d"/><stop offset="0.5" stop-color="#8abe88"/><stop offset="0.571" stop-color="#8abe81"/><stop offset="0.714" stop-color="#8abe72"/><stop offset="0.857" stop-color="#8ac167"/><stop offset="1" stop-color="#8ac35c"/></linearGradient><linearGradient id="g46"><stop offset="0" stop-color="#74abbc"/><stop offset="0.05" stop-color="#76aebd"/><stop offset="0.107" stop-color="#81bbc0"/><stop offset="0.16" stop-color="#8ac5bb"/><stop offset="0.214" stop-color="#8ac2a8"/><stop offset="0.25" stop-color="#8ac09e"/><stop offset="0.286" stop-color="#8abf97"/><stop offset="0.321" stop-color="#8abe93"/><stop offset="0.357" stop-color="#8abe91"/><stop offset="0.393" stop-color="#8abe8f"/><stop offset="0.429" stop-color="#8abe8c"/><stop offset="0.5" stop-color="#8abe88"/><stop offset="0.571" stop-color="#8abe81"/><stop offset="0.714" stop-color="#8abe72"/><stop offset="0.857" stop-color="#8ac167"/><stop offset="1" stop-color="#8ac35c"/></linearGradient><linearGradient id="g47"><stop offset="0" stop-color="#76aebd"/><stop offset="0.05" stop-color="#79b2bd"/><stop offset="0.107" stop-color="#85c0c1"/><stop offset="0.16" stop-color="#8ac4b8"/><stop offset="0.214" stop-color="#8ac1a6"/><stop offset="0.25" stop-color="#8ac09c"/><stop offset="0.286" stop-color="#8abf96"/><stop offset="0.321" stop-color="#8abe93"/><stop offset="0.357" stop-color="#8abe91"/><stop offset="0.393" stop-color="#8abe8f"/><stop offset="0.429" stop-color="#8abe8c"/><stop offset="0.5" stop-color="#8abe88"/><stop offset="0.571" stop-color="#8abe81"/><stop offset="0.714" stop-color="#8abe72"/><stop offset="0.857" stop-color="#8ac067"/><stop offset="1" stop-color="#8ac35c"/></linearGradient><linearGradient id="g48"><stop offset="0" stop-color="#79b2bd"/><stop offset="0.05" stop-color="#7cb5be"/><stop offset="0.107" stop-color="#89c4c2"/><stop offset="0.16" stop-color="#8ac4b4"/><stop offset="0.214" stop-color="#8ac1a4"/><stop offset="0.25" stop-color="#8ac09b"/><stop offset="0.286" stop-color="#8abf95"/><stop offset="0.321" stop-color="#8abe93"/><stop offset="0.357" stop-color="#8abe91"/><stop offset="0.393" stop-color="#8abe8f"/><stop offset="0.429" stop-color="#8abe8c"/><stop offset="0.5" stop-color="#8abe88"/><stop offset="0.571" stop-color="#8abe81"/><stop offset="0.714" stop-color="#8abe72"/><stop offset="0.857" stop-color="#8ac167"/><stop offset="1" stop-color="#8ac35c"/></linearGradient><linearGradient id="g49"><stop offset="0" stop-color="#7cb6be"/><stop offset="0.05" stop-color="#80b9bf"/><stop offset="0.107" stop-color="#8ac6c0"/><stop offset="0.16" stop-color="#8ac3b1"/><stop offset="0.214" stop-color="#8ac1a2"/><stop offset="0.25" stop-color="#8abf9a"/><stop offset="0.286" stop-color="#8abf95"/><stop offset="0.321" stop-color="#8abe92"/><stop offset="0.357" stop-color="#8abe91"/><stop offset="0.393" stop-color="#8abe8e"/><stop offset="0.429" stop-color="#8abe8c"/><stop offset="0.5" stop-color="#8abe88"/><stop offset="0.571" stop-color="#8abe81"/><stop offset="0.714" stop-color="#8abe72"/><stop offset="0.857" stop-color="#8ac167"/><stop offset="1" stop-color="#8ac35c"/></linearGradient><linearGradient id="g50"><stop offset="0" stop-color="#80babf"/><stop offset="0.05" stop-color="#83bec0"/><stop offset="0.107" stop-color="#8ac5bd"/><stop offset="0.16" stop-color="#8ac3ae"/><stop offset="0.214" stop-color="#8ac0a0"/><stop offset="0.25" stop-color="#8abf98"/><stop offset="0.286" stop-color="#8abf94"/><stop offset="0.321" stop-color="#8abe92"/><stop offset="0.357" stop-color="#8abe90"/><stop offset="0.393" stop-color="#8abe8e"/><stop offset="0.429" stop-color="#8abe8c"/><stop offset="0.5" stop-color="#8abe88"/><stop offset="0.571" stop-color="#8abe81"/><stop offset="0.714" stop-color="#8abe72"/><stop offset="0.857" stop-color="#8ac167"/><stop offset="1" stop-color="#8ac35c"/></linearGradient><linearGradient id="g51"><stop offset="0" stop-color="#84bec0"/><stop offset="0.05" stop-color="#87c3c1"/><stop offset="0.107" stop-color="#8ac5ba"/><stop offset="0.16" stop-color="#8ac2ab"/><stop offset="0.214" stop-color="#8ac09e"/><stop offset="0.25" stop-color="#8abf97"/><stop offset="0.286" stop-color="#8abf93"/><stop offset="0.321" stop-color="#8abe92"/><stop offset="0.357" stop-color="#8abe90"/><stop offset="0.393" stop-color="#8abe8e"/><stop offset="0.429" stop-color="#8abe8c"/><stop offset="0.5" stop-color="#8abe87"/><stop offset="0.571" stop-color="#8abe81"/><stop offset="0.714" stop-color="#8abe72"/><stop offset="0.857" stop-color="#8ac167"/><stop offset="1" stop-color="#8ac35c"/></linearGradient><linearGradient id="g52"><stop offset="0" stop-color="#88c3c1"/><stop offset="0.05" stop-color="#8ac6c1"/><stop offset="0.107" stop-color="#8ac4b6"/><stop offset="0.16" stop-color="#8ac2a8"/><stop offset="0.214" stop-color="#8ac09c"/><stop offset="0.25" stop-color="#8abf96"/><stop offset="0.286" stop-color="#8abe93"/><stop offset="0.321" stop-color="#8abe91"/><stop offset="0.357" stop-color="#8abe90"/><stop offset="0.393" stop-color="#8abe8e"/><stop offset="0.429" stop-color="#8abe8c"/><stop offset="0.5" stop-color="#8abe87"/><stop offset="0.571" stop-color="#8abe80"/><stop offset="0.714" stop-color="#8abe72"/><stop offset="0.857" stop-color="#8ac167"/><stop offset="1" stop-color="#8ac35c"/></linearGradient><linearGradient id="g53"><stop offset="0" stop-color="#8ac6c1"/><stop offset="0.05" stop-color="#8ac5be"/><stop offset="0.107" stop-color="#8ac3b3"/><stop offset="0.16" stop-color="#8ac1a5"/><stop offset="0.214" stop-color="#8ac09a"/><stop offset="0.25" stop-color="#8abf95"/><stop offset="0.286" stop-color="#8abe92"/><stop offset="0.321" stop-color="#8abe91"/><stop offset="0.357" stop-color="#8abe90"/><stop offset="0.393" stop-color="#8abe8d"/><stop offset="0.429" stop-color="#8abe8b"/><stop offset="0.5" stop-color="#8abe87"/><stop offset="0.571" stop-color="#8abe80"/><stop offset="0.714" stop-color="#8abe72"/><stop offset="0.857" stop-color="#8ac167"/><stop offset="1" stop-color="#8ac35c"/></linearGradient><linearGradient id="g54"><stop offset="0" stop-color="#8ac5bd"/><stop offset="0.05" stop-color="#8ac5ba"/><stop offset="0.107" stop-color="#8ac3af"/><stop offset="0.16" stop-color="#8ac1a3"/><stop offset="0.214" stop-color="#8abf99"/><stop offset="0.25" stop-color="#8abf94"/><stop offset="0.286" stop-color="#8abe92"/><stop offset="0.321" stop-color="#8abe91"/><stop offset="0.357" stop-color="#8abe8f"/><stop offset="0.393" stop-color="#8abe8d"/><stop offset="0.429" stop-color="#8abe8b"/><stop offset="0.5" stop-color="#8abe87"/><stop offset="0.571" stop-color="#8abe80"/><stop offset="0.714" stop-color="#8abe71"/><stop offset="0.857" stop-color="#8ac167"/><stop offset="1" stop-color="#8ac35c"/></linearGradient><linearGradient id="g55"><stop offset="0" stop-color="#8ac5ba"/><stop offset="0.05" stop-color="#8ac4b7"/><stop offset="0.107" stop-color="#8ac2ac"/><stop offset="0.16" stop-color="#8ac1a0"/><stop offset="0.214" stop-color="#8abf97"/><stop offset="0.25" stop-color="#8abf93"/><stop offset="0.286" stop-color="#8abe91"/><stop offset="0.321" stop-color="#8abe90"/><stop offset="0.357" stop-color="#8abe8f"/><stop offset="0.393" stop-color="#8abe8d"/><stop offset="0.429" stop-color="#8abe8b"/><stop offset="0.5" stop-color="#8abe86"/><stop offset="0.571" stop-color="#8abe80"/><stop offset="0.714" stop-color="#8abe71"/><stop offset="0.857" stop-color="#8ac167"/><stop offset="1" stop-color="#8ac35c"/></linearGradient><linearGradient id="g56"><stop offset="0" stop-color="#8ac4b6"/><stop offset="0.05" stop-color="#8ac4b3"/><stop offset="0.107" stop-color="#8ac2a9"/><stop offset="0.16" stop-color="#8ac09e"/><stop offset="0.214" stop-color="#8abf96"/><stop offset="0.25" stop-color="#8abe93"/><stop offset="0.286" stop-color="#8abe91"/><stop offset="0.321" stop-color="#8abe90"/><stop offset="0.357" stop-color="#8abe8e"/><stop offset="0.393" stop-color="#8abe8c"/><stop offset="0.429" stop-color="#8abe8a"/><stop offset="0.5" stop-color="#8abe86"/><stop offset="0.571" stop-color="#8abe7f"/><stop offset="0.714" stop-color="#8abe71"/><stop offset="0.857" stop-color="#8ac166"/><stop offset="1" stop-color="#8ac35c"/></linearGradient><linearGradient id="g57"><stop offset="0" stop-color="#8ac3b3"/><stop offset="0.05" stop-color="#8ac3b0"/><stop offset="0.107" stop-color="#8ac1a6"/><stop offset="0.16" stop-color="#8ac09c"/><stop offset="0.214" stop-color="#8abf95"/><stop offset="0.25" stop-color="#8abe92"/><stop offset="0.286" stop-color="#8abe90"/><stop offset="0.321" stop-color="#8abe8f"/><stop offset="0.357" stop-color="#8abe8e"/><stop offset="0.393" stop-color="#8abe8c"/><stop offset="0.429" stop-color="#8abe8a"/><stop offset="0.5" stop-color="#8abe86"/><stop offset="0.571" stop-color="#8abe7f"/><stop offset="0.714" stop-color="#8abe71"/><stop offset="0.857" stop-color="#8ac166"/><stop offset="1" stop-color="#8ac35c"/></linearGradient><linearGradient id="g58"><stop offset="0" stop-color="#8ac3af"/><stop offset="0.05" stop-color="#8ac2ac"/><stop offset="0.107" stop-color="#8ac1a3"/><stop offset="0.16" stop-color="#8ac09a"/><stop offset="0.214" stop-color="#8abf93"/><stop offset="0.25" stop-color="#8abe91"/><stop offset="0.286" stop-color="#8abe90"/><stop offset="0.321" stop-color="#8abe8f"/><stop offset="0.357" stop-color="#8abe8d"/><stop offset="0.393" stop-color="#8abe8b"/><stop offset="0.429" stop-color="#8abe89"/><stop offset="0.5" stop-color="#8abe85"/><stop offset="0.571" stop-color="#8abe7f"/><stop offset="0.714" stop-color="#8abe71"/><stop offset="0.857" stop-color="#8ac166"/><stop offset="1" stop-color="#8ac35c"/></linearGradient><linearGradient id="g59"><stop offset="0" stop-color="#8ac2ab"/><stop offset="0.05" stop-color="#8ac2a9"/><stop offset="0.107" stop-color="#8ac0a0"/><stop offset="0.16" stop-color="#8abf98"/><stop offset="0.214" stop-color="#8abe92"/><stop offset="0.25" stop-color="#8abe90"/><stop offset="0.286" stop-color="#8abe8f"/><stop offset="0.321" stop-color="#8abe8e"/><stop offset="0.357" stop-color="#8abe8d"/><stop offset="0.393" stop-color="#8abe8b"/><stop offset="0.429" stop-color="#8abe89"/><stop offset="0.5" stop-color="#8abe85"/><stop offset="0.571" stop-color="#8abe7e"/><stop offset="0.714" stop-color="#8abe70"/><stop offset="0.857" stop-color="#8ac166"/><stop offset="1" stop-color="#8ac35b"/></linearGradient><linearGradient id="g60"><stop offset="0" stop-color="#8ac2a8"/><stop offset="0.05" stop-color="#8ac1a5"/><stop offset="0.107" stop-color="#8ac09d"/><stop offset="0.16" stop-color="#8abf96"/><stop offset="0.214" stop-color="#8abe91"/><stop offset="0.25" stop-color="#8abe8f"/><stop offset="0.286" stop-color="#8abe8e"/><stop offset="0.321" stop-color="#8abe8d"/><stop offset="0.357" stop-color="#8abe8c"/><stop offset="0.393" stop-color="#8abe8a"/><stop offset="0.429" stop-color="#8abe88"/><stop offset="0.5" stop-color="#8abe84"/><stop offset="0.571" stop-color="#8abe7d"/><stop offset="0.714" stop-color="#8abe70"/><stop offset="0.857" stop-color="#8ac166"/><stop offset="1" stop-color="#8ac35b"/></linearGradient><linearGradient id="g61"><stop offset="0" stop-color="#8ac1a4"/><stop offset="0.05" stop-color="#8ac1a2"/><stop offset="0.107" stop-color="#8ac09b"/><stop offset="0.16" stop-color="#8abf94"/><stop offset="0.214" stop-color="#8abe90"/><stop offset="0.25" stop-color="#8abe8e"/><stop offset="0.286" stop-color="#8abe8d"/><stop offset="0.321" stop-color="#8abe8c"/><stop offset="0.357" stop-color="#8abe8b"/><stop offset="0.393" stop-color="#8abe89"/><stop offset="0.429" stop-color="#8abe87"/><stop offset="0.5" stop-color="#8abe83"/><stop offset="0.571" stop-color="#8abe7d"/><stop offset="0.714" stop-color="#8abf70"/><stop offset="0.857" stop-color="#8ac165"/><stop offset="1" stop-color="#8ac35b"/></linearGradient><linearGradient id="g62"><stop offset="0" stop-color="#8ac1a1"/><stop offset="0.05" stop-color="#8ac09f"/><stop offset="0.107" stop-color="#8abf98"/><stop offset="0.16" stop-color="#8abe92"/><stop offset="0.214" stop-color="#8abe8e"/><stop offset="0.25" stop-color="#8abe8d"/><stop offset="0.286" stop-color="#8abe8c"/><stop offset="0.321" stop-color="#8abe8b"/><stop offset="0.357" stop-color="#8abe8a"/><stop offset="0.393" stop-color="#8abe88"/><stop offset="0.429" stop-color="#8abe86"/><stop offset="0.5" stop-color="#8abe82"/><stop offset="0.571" stop-color="#8abe7c"/><stop offset="0.714" stop-color="#8abf6f"/><stop offset="0.857" stop-color="#8ac165"/><stop offset="1" stop-color="#8ac35b"/></linearGradient><linearGradient id="g63"><stop offset="0" stop-color="#8ac09d"/><stop offset="0.05" stop-color="#8ac09b"/><stop offset="0.107" stop-color="#8abf95"/><stop offset="0.16" stop-color="#8abe90"/><stop offset="0.214" stop-color="#8abe8d"/><stop offset="0.25" stop-color="#8abe8b"/><stop offset="0.286" stop-color="#8abe8a"/><stop offset="0.321" stop-color="#8abe8a"/><stop offset="0.357" stop-color="#8abe89"/><stop offset="0.393" stop-color="#8abe87"/><stop offset="0.429" stop-color="#8abe85"/><stop offset="0.5" stop-color="#8abe81"/><stop offset="0.571" stop-color="#8abe7b"/><stop offset="0.714" stop-color="#8abf6f"/><stop offset="0.857" stop-color="#8ac164"/><stop offset="1" stop-color="#8ac35b"/></linearGradient><linearGradient id="g64"><stop offset="0" stop-color="#8abf98"/><stop offset="0.05" stop-color="#8abf97"/><stop offset="0.107" stop-color="#8abe91"/><stop offset="0.16" stop-color="#8abe8c"/><stop offset="0.214" stop-color="#8abe8a"/><stop offset="0.25" stop-color="#8abe89"/><stop offset="0.286" stop-color="#8abe88"/><stop offset="0.321" stop-color="#8abe88"/><stop offset="0.357" stop-color="#8abe86"/><stop offset="0.393" stop-color="#8abe85"/><stop offset="0.429" stop-color="#8abe83"/><stop offset="0.5" stop-color="#8abe7f"/><stop offset="0.571" stop-color="#8abe79"/><stop offset="0.714" stop-color="#8abf6e"/><stop offset="0.857" stop-color="#8ac164"/><stop offset="1" stop-color="#8ac35a"/></linearGradient><linearGradient id="g65"><stop offset="0" stop-color="#8abe93"/><stop offset="0.05" stop-color="#8abe92"/><stop offset="0.107" stop-color="#8abe8d"/><stop offset="0.16" stop-color="#8abe89"/><stop offset="0.214" stop-color="#8abe87"/><stop offset="0.25" stop-color="#8abe86"/><stop offset="0.286" stop-color="#8abe85"/><stop offset="0.321" stop-color="#8abe85"/><stop offset="0.357" stop-color="#8abe83"/><stop offset="0.393" stop-color="#8abe82"/><stop offset="0.429" stop-color="#8abe80"/><stop offset="0.5" stop-color="#8abe7c"/><stop offset="0.571" stop-color="#8abe76"/><stop offset="0.714" stop-color="#8abf6c"/><stop offset="0.857" stop-color="#8ac263"/><stop offset="1" stop-color="#8ac35a"/></linearGradient><linearGradient id="g66"><stop offset="0" stop-color="#8abe8d"/><stop offset="0.05" stop-color="#8abe8b"/><stop offset="0.107" stop-color="#8abe87"/><stop offset="0.16" stop-color="#8abe84"/><stop offset="0.214" stop-color="#8abe82"/><stop offset="0.25" stop-color="#8abe82"/><stop offset="0.286" stop-color="#8abe81"/><stop offset="0.321" stop-color="#8abe80"/><stop offset="0.357" stop-color="#8abe7f"/><stop offset="0.393" stop-color="#8abe7e"/><stop offset="0.429" stop-color="#8abe7c"/><stop offset="0.5" stop-color="#8abe78"/><stop offset="0.571" stop-color="#8abe73"/><stop offset="0.714" stop-color="#8ac06a"/><stop offset="0.857" stop-color="#8ac261"/><stop offset="1" stop-color="#8ac359"/></linearGradient><linearGradient id="g67"><stop offset="0" stop-color="#8abe85"/><stop offset="0.05" stop-color="#8abe83"/><stop offset="0.107" stop-color="#8abe80"/><stop offset="0.16" stop-color="#8abe7d"/><stop offset="0.214" stop-color="#8abe7c"/><stop offset="0.25" stop-color="#8abe7c"/><stop offset="0.286" stop-color="#8abe7b"/><stop offset="0.321" stop-color="#8abe7b"/><stop offset="0.357" stop-color="#8abe7a"/><stop offset="0.393" stop-color="#8abe78"/><stop offset="0.429" stop-color="#8abe76"/><stop offset="0.5" stop-color="#8abe73"/><stop offset="0.571" stop-color="#8abf6f"/><stop offset="0.714" stop-color="#8ac067"/><stop offset="0.857" stop-color="#8ac25f"/><stop offset="1" stop-color="#8bc358"/></linearGradient><linearGradient id="g68"><stop offset="0" stop-color="#8abe7b"/><stop offset="0.05" stop-color="#8abe7a"/><stop offset="0.107" stop-color="#8abe77"/><stop offset="0.16" stop-color="#8abe75"/><stop offset="0.214" stop-color="#8abe75"/><stop offset="0.25" stop-color="#8abe74"/><stop offset="0.286" stop-color="#8abe74"/><stop offset="0.321" stop-color="#8abe73"/><stop offset="0.357" stop-color="#8abe72"/><stop offset="0.393" stop-color="#8abe71"/><stop offset="0.429" stop-color="#8abe70"/><stop offset="0.5" stop-color="#8abf6e"/><stop offset="0.571" stop-color="#8ac06b"/><stop offset="0.714" stop-color="#8ac164"/><stop offset="0.857" stop-color="#8ac35c"/><stop offset="1" stop-color="#8bc456"/></linearGradient><linearGradient id="g69"><stop offset="0" stop-color="#8abe70"/><stop offset="0.05" stop-color="#8abe70"/><stop offset="0.107" stop-color="#8abf6e"/><stop offset="0.16" stop-color="#8abf6e"/><stop offset="0.214" stop-color="#8abf6d"/><stop offset="0.25" stop-color="#8abf6d"/><stop offset="0.286" stop-color="#8abf6d"/><stop offset="0.321" stop-color="#8abf6c"/><stop offset="0.357" stop-color="#8abf6c"/><stop offset="0.393" stop-color="#8ac06b"/><stop offset="0.429" stop-color="#8ac06a"/><stop offset="0.5" stop-color="#8ac069"/><stop offset="0.571" stop-color="#8ac166"/><stop offset="0.714" stop-color="#8ac25f"/><stop offset="0.857" stop-color="#8ac35a"/><stop offset="1" stop-color="#8bc455"/></linearGradient><linearGradient id="g70"><stop offset="0" stop-color="#8ac068"/><stop offset="0.05" stop-color="#8ac067"/><stop offset="0.107" stop-color="#8ac166"/><stop offset="0.16" stop-color="#8ac166"/><stop offset="0.214" stop-color="#8ac166"/><stop offset="0.25" stop-color="#8ac166"/><stop offset="0.286" stop-color="#8ac165"/><stop offset="0.321" stop-color="#8ac165"/><stop offset="0.357" stop-color="#8ac165"/><stop offset="0.393" stop-color="#8ac164"/><stop offset="0.429" stop-color="#8ac163"/><stop offset="0.5" stop-color="#8ac262"/><stop offset="0.571" stop-color="#8ac25f"/><stop offset="0.714" stop-color="#8ac35b"/><stop offset="0.857" stop-color="#8bc457"/><stop offset="1" stop-color="#8bc452"/></linearGradient><linearGradient id="g71"><stop offset="0" stop-color="#8ac25e"/><stop offset="0.05" stop-color="#8ac25e"/><stop offset="0.107" stop-color="#8ac35e"/><stop offset="0.16" stop-color="#8ac35d"/><stop offset="0.214" stop-color="#8ac35d"/><stop offset="0.25" stop-color="#8ac35d"/><stop offset="0.286" stop-color="#8ac35d"/><stop offset="0.321" stop-color="#8ac35d"/><stop offset="0.357" stop-color="#8ac35d"/><stop offset="0.393" stop-color="#8ac35c"/><stop offset="0.429" stop-color="#8ac35c"/><stop offset="0.5" stop-color="#8ac35b"/><stop offset="0.571" stop-color="#8ac359"/><stop offset="0.714" stop-color="#8bc457"/><stop offset="0.857" stop-color="#8bc453"/><stop offset="1" stop-color="#8cc450"/></linearGradient><linearGradient id="g72"><stop offset="0" stop-color="#8bc357"/><stop offset="0.05" stop-color="#8bc357"/><stop offset="0.107" stop-color="#8bc457"/><stop offset="0.16" stop-color="#8bc457"/><stop offset="0.214" stop-color="#8bc457"/><stop offset="0.25" stop-color="#8bc457"/><stop offset="0.286" stop-color="#8bc457"/><stop offset="0.321" stop-color="#8bc457"/><stop offset="0.357" stop-color="#8bc456"/><stop offset="0.393" stop-color="#8bc456"/><stop offset="0.429" stop-color="#8bc456"/><stop offset="0.5" stop-color="#8bc455"/><stop offset="0.571" stop-color="#8bc454"/><stop offset="0.714" stop-color="#8bc452"/><stop offset="0.857" stop-color="#8cc450"/><stop offset="1" stop-color="#8cc44e"/></linearGradient><linearGradient id="g73"><stop offset="0" stop-color="#8cc451"/><stop offset="0.05" stop-color="#8cc451"/><stop offset="0.107" stop-color="#8cc451"/><stop offset="0.16" stop-color="#8cc451"/><stop offset="0.214" stop-color="#8cc451"/><stop offset="0.25" stop-color="#8cc451"/><stop offset="0.286" stop-color="#8cc451"/><stop offset="0.321" stop-color="#8cc451"/><stop offset="0.357" stop-color="#8cc451"/><stop offset="0.393" stop-color="#8cc451"/><stop offset="0.429" stop-color="#8cc451"/><stop offset="0.5" stop-color="#8cc450"/><stop offset="0.571" stop-color="#8cc450"/><stop offset="0.714" stop-color="#8cc44e"/><stop offset="0.857" stop-color="#8cc54d"/><stop offset="1" stop-color="#8cc54c"/></linearGradient><linearGradient id="g74"><stop offset="0" stop-color="#8cc54c"/><stop offset="0.05" stop-color="#8cc54c"/><stop offset="0.107" stop-color="#8cc54c"/><stop offset="0.16" stop-color="#8cc54c"/><stop offset="0.214" stop-color="#8cc54c"/><stop offset="0.25" stop-color="#8cc54c"/><stop offset="0.286" stop-color="#8cc54c"/><stop offset="0.321" stop-color="#8cc54c"/><stop offset="0.357" stop-color="#8cc54c"/><stop offset="0.393" stop-color="#8cc54c"/><stop offset="0.429" stop-color="#8cc54c"/><stop offset="0.5" stop-color="#8cc54c"/><stop offset="0.571" stop-color="#8cc54c"/><stop offset="0.714" stop-color="#8dc54b"/><stop offset="0.857" stop-color="#8dc54a"/><stop offset="1" stop-color="#8dc54a"/></linearGradient><linearGradient id="g75"><stop offset="0" stop-color="#8dc549"/><stop offset="0.05" stop-color="#8dc549"/><stop offset="0.107" stop-color="#8dc549"/><stop offset="0.16" stop-color="#8dc549"/><stop offset="0.214" stop-color="#8dc549"/><stop offset="0.25" stop-color="#8dc549"/><stop offset="0.286" stop-color="#8dc549"/><stop offset="0.321" stop-color="#8dc549"/><stop offset="0.357" stop-color="#8dc549"/><stop offset="0.393" stop-color="#8dc549"/><stop offset="0.429" stop-color="#8dc549"/><stop offset="0.5" stop-color="#8dc549"/><stop offset="0.571" stop-color="#8dc549"/><stop offset="0.714" stop-color="#8dc549"/><stop offset="0.857" stop-color="#8dc549"/><stop offset="1" stop-color="#8dc549"/></linearGradient><linearGradient id="g76"><stop offset="0" stop-color="#8dc548"/><stop offset="0.05" stop-color="#8dc548"/><stop offset="0.107" stop-color="#8dc548"/><stop offset="0.16" stop-color="#8dc548"/><stop offset="0.214" stop-color="#8dc548"/><stop offset="0.25" stop-color="#8dc548"/><stop offset="0.286" stop-color="#8dc548"/><stop offset="0.321" stop-color="#8dc548"/><stop offset="0.357" stop-color="#8dc548"/><stop offset="0.393" stop-color="#8dc548"/><stop offset="0.429" stop-color="#8dc548"/><stop offset="0.5" stop-color="#8dc548"/><stop offset="0.571" stop-color="#8dc548"/><stop offset="0.714" stop-color="#8dc548"/><stop offset="0.857" stop-color="#8dc548"/><stop offset="1" stop-color="#8dc548"/></linearGradient><linearGradient id="g77"><stop offset="0" stop-color="#8dc548"/><stop offset="0.05" stop-color="#8dc548"/><stop offset="0.107" stop-color="#8ec548"/><stop offset="0.16" stop-color="#8ec548"/><stop offset="0.214" stop-color="#8ec548"/><stop offset="0.25" stop-color="#8ec548"/><stop offset="0.286" stop-color="#8dc548"/><stop offset="0.321" stop-color="#8dc548"/><stop offset="0.357" stop-color="#8dc548"/><stop offset="0.393" stop-color="#8dc548"/><stop offset="0.429" stop-color="#8dc548"/><stop offset="0.5" stop-color="#8dc548"/><stop offset="0.571" stop-color="#8dc548"/><stop offset="0.714" stop-color="#8dc548"/><stop offset="0.857" stop-color="#8dc548"/><stop offset="1" stop-color="#8dc548"/></linearGradient><linearGradient id="g78"><stop offset="0" stop-color="#8fc649"/><stop offset="0.05" stop-color="#8fc649"/><stop offset="0.107" stop-color="#8fc649"/><stop offset="0.16" stop-color="#90c649"/><stop offset="0.214" stop-color="#90c649"/><stop offset="0.25" stop-color="#8fc649"/><stop offset="0.286" stop-color="#8fc649"/><stop offset="0.321" stop-color="#8fc649"/><stop offset="0.357" stop-color="#8fc649"/><stop offset="0.393" stop-color="#8fc648"/><stop offset="0.429" stop-color="#8fc648"/><stop offset="0.5" stop-color="#8ec648"/><stop offset="0.571" stop-color="#8fc648"/><stop offset="0.714" stop-color="#8fc648"/><stop offset="0.857" stop-color="#8ec648"/><stop offset="1" stop-color="#8ec548"/></linearGradient><linearGradient id="g79"><stop offset="0" stop-color="#92c749"/><stop offset="0.05" stop-color="#92c849"/><stop offset="0.107" stop-color="#93c84a"/><stop offset="0.16" stop-color="#93c84a"/><stop offset="0.214" stop-color="#93c84a"/><stop offset="0.25" stop-color="#93c84a"/><stop offset="0.286" stop-color="#93c84a"/><stop offset="0.321" stop-color="#92c749"/><stop offset="0.357" stop-color="#92c749"/><stop offset="0.393" stop-color="#91c749"/><stop offset="0.429" stop-color="#91c749"/><stop offset="0.5" stop-color="#91c749"/><stop offset="0.571" stop-color="#91c749"/><stop offset="0.714" stop-color="#91c749"/><stop offset="0.857" stop-color="#90c749"/><stop offset="1" stop-color="#8fc649"/></linearGradient><linearGradient id="g80"><stop offset="0" stop-color="#96c94a"/><stop offset="0.05" stop-color="#97ca4b"/><stop offset="0.107" stop-color="#98ca4b"/><stop offset="0.16" stop-color="#98ca4b"/><stop offset="0.214" stop-color="#98ca4b"/><stop offset="0.25" stop-color="#98ca4b"/><stop offset="0.286" stop-color="#97ca4b"/><stop offset="0.321" stop-color="#96ca4b"/><stop offset="0.357" stop-color="#96c94a"/><stop offset="0.393" stop-color="#95c94a"/><stop offset="0.429" stop-color="#94c84a"/><stop offset="0.5" stop-color="#93c84a"/><stop offset="0.571" stop-color="#94c84a"/><stop offset="0.714" stop-color="#94c84a"/><stop offset="0.857" stop-color="#93c84a"/><stop offset="1" stop-color="#91c749"/></linearGradient><linearGradient id="g81"><stop offset="0" stop-color="#9acc4c"/><stop offset="0.05" stop-color="#9ccc4c"/><stop offset="0.107" stop-color="#9ecd4d"/><stop offset="0.16" stop-color="#9ecd4d"/><stop offset="0.214" stop-color="#9ecd4d"/><stop offset="0.25" stop-color="#9ecd4d"/><stop offset="0.286" stop-color="#9dcd4c"/><stop offset="0.321" stop-color="#9ccc4c"/><stop offset="0.357" stop-color="#9bcc4c"/><stop offset="0.393" stop-color="#99cb4b"/><stop offset="0.429" stop-color="#98ca4b"/><stop offset="0.5" stop-color="#97ca4b"/><stop offset="0.571" stop-color="#98ca4b"/><stop offset="0.714" stop-color="#98ca4b"/><stop offset="0.857" stop-color="#96c94a"/><stop offset="1" stop-color="#93c84a"/></linearGradient><linearGradient id="g82"><stop offset="0" stop-color="#a0ce4d"/><stop offset="0.05" stop-color="#a3cf4e"/><stop offset="0.107" stop-color="#a5d04f"/><stop offset="0.16" stop-color="#a6d14f"/><stop offset="0.214" stop-color="#a6d14f"/><stop offset="0.25" stop-color="#a5d14f"/><stop offset="0.286" stop-color="#a4d04e"/><stop offset="0.321" stop-color="#a2cf4e"/><stop offset="0.357" stop-color="#a0ce4d"/><stop offset="0.393" stop-color="#9ecd4d"/><stop offset="0.429" stop-color="#9ccc4c"/><stop offset="0.5" stop-color="#9bcc4c"/><stop offset="0.571" stop-color="#9dcd4c"/><stop offset="0.714" stop-color="#9ccc4c"/><stop offset="0.857" stop-color="#99cb4b"/><stop offset="1" stop-color="#96c94a"/></linearGradient><linearGradient id="g83"><stop offset="0" stop-color="#a7d14f"/><stop offset="0.05" stop-color="#aad350"/><stop offset="0.107" stop-color="#add553"/><stop offset="0.16" stop-color="#afd554"/><stop offset="0.214" stop-color="#afd554"/><stop offset="0.25" stop-color="#aed553"/><stop offset="0.286" stop-color="#acd451"/><stop offset="0.321" stop-color="#a9d350"/><stop offset="0.357" stop-color="#a7d14f"/><stop offset="0.393" stop-color="#a4d04e"/><stop offset="0.429" stop-color="#a1cf4e"/><stop offset="0.5" stop-color="#a0ce4d"/><stop offset="0.571" stop-color="#a1cf4e"/><stop offset="0.714" stop-color="#a1cf4d"/><stop offset="0.857" stop-color="#9dcd4c"/><stop offset="1" stop-color="#98ca4b"/></linearGradient><linearGradient id="g84"><stop offset="0" stop-color="#afd555"/><stop offset="0.05" stop-color="#b4d859"/><stop offset="0.107" stop-color="#b8da5d"/><stop offset="0.16" stop-color="#badb5f"/><stop offset="0.214" stop-color="#badb5f"/><stop offset="0.25" stop-color="#b9da5d"/><stop offset="0.286" stop-color="#b6d95b"/><stop offset="0.321" stop-color="#b3d758"/><stop offset="0.357" stop-color="#afd554"/><stop offset="0.393" stop-color="#aad350"/><stop offset="0.429" stop-color="#a7d14f"/><stop offset="0.5" stop-color="#a4d04e"/><stop offset="0.571" stop-color="#a6d14f"/><stop offset="0.714" stop-color="#a5d14f"/><stop offset="0.857" stop-color="#a1ce4d"/><stop offset="1" stop-color="#9acb4c"/></linearGradient><linearGradient id="g85"><stop offset="0" stop-color="#b9da5d"/><stop offset="0.05" stop-color="#bfdd63"/><stop offset="0.107" stop-color="#c4df67"/><stop offset="0.16" stop-color="#c6e069"/><stop offset="0.214" stop-color="#c6e069"/><stop offset="0.25" stop-color="#c4df67"/><stop offset="0.286" stop-color="#c1de64"/><stop offset="0.321" stop-color="#bddc61"/><stop offset="0.357" stop-color="#b8da5d"/><stop offset="0.393" stop-color="#b2d757"/><stop offset="0.429" stop-color="#add452"/><stop offset="0.5" stop-color="#a9d250"/><stop offset="0.571" stop-color="#abd451"/><stop offset="0.714" stop-color="#a9d350"/><stop offset="0.857" stop-color="#a4d04e"/><stop offset="1" stop-color="#9dcd4c"/></linearGradient><linearGradient id="g86"><stop offset="0" stop-color="#c3df66"/><stop offset="0.05" stop-color="#cae26c"/><stop offset="0.107" stop-color="#cfe471"/><stop offset="0.16" stop-color="#d2e672"/><stop offset="0.214" stop-color="#d2e672"/><stop offset="0.25" stop-color="#cfe571"/><stop offset="0.286" stop-color="#cbe36e"/><stop offset="0.321" stop-color="#c7e16a"/><stop offset="0.357" stop-color="#c1de65"/><stop offset="0.393" stop-color="#badb5e"/><stop offset="0.429" stop-color="#b3d758"/><stop offset="0.5" stop-color="#aed554"/><stop offset="0.571" stop-color="#b1d656"/><stop offset="0.714" stop-color="#aed554"/><stop offset="0.857" stop-color="#a7d24f"/><stop offset="1" stop-color="#9fcd4d"/></linearGradient><linearGradient id="g87"><stop offset="0" stop-color="#cde46f"/><stop offset="0.05" stop-color="#d4e774"/><stop offset="0.107" stop-color="#dbea77"/><stop offset="0.16" stop-color="#ddec79"/><stop offset="0.214" stop-color="#ddec79"/><stop offset="0.25" stop-color="#daea77"/><stop offset="0.286" stop-color="#d6e874"/><stop offset="0.321" stop-color="#d0e571"/><stop offset="0.357" stop-color="#cae26c"/><stop offset="0.393" stop-color="#c2de65"/><stop offset="0.429" stop-color="#badb5e"/><stop offset="0.5" stop-color="#b4d858"/><stop offset="0.571" stop-color="#b7d95b"/><stop offset="0.714" stop-color="#b3d758"/><stop offset="0.857" stop-color="#aad350"/><stop offset="1" stop-color="#a0ce4d"/></linearGradient><linearGradient id="g88"><stop offset="0" stop-color="#d7e975"/><stop offset="0.05" stop-color="#dfed7a"/><stop offset="0.107" stop-color="#e5f07d"/><stop offset="0.16" stop-color="#e8f17f"/><stop offset="0.214" stop-color="#e8f17f"/><stop offset="0.25" stop-color="#e5ef7d"/><stop offset="0.286" stop-color="#e0ed7a"/><stop offset="0.321" stop-color="#d9ea77"/><stop offset="0.357" stop-color="#d2e672"/><stop offset="0.393" stop-color="#c9e26b"/><stop offset="0.429" stop-color="#c0dd64"/><stop offset="0.5" stop-color="#b9da5d"/><stop offset="0.571" stop-color="#bbdb5f"/><stop offset="0.714" stop-color="#b7d95c"/><stop offset="0.857" stop-color="#add452"/><stop offset="1" stop-color="#a2cf4e"/></linearGradient><linearGradient id="g89"><stop offset="0" stop-color="#e1ed7b"/><stop offset="0.05" stop-color="#e9f17f"/><stop offset="0.107" stop-color="#eef480"/><stop offset="0.16" stop-color="#f0f680"/><stop offset="0.214" stop-color="#f0f580"/><stop offset="0.25" stop-color="#edf480"/><stop offset="0.286" stop-color="#e9f17f"/><stop offset="0.321" stop-color="#e2ee7b"/><stop offset="0.357" stop-color="#daea77"/><stop offset="0.393" stop-color="#cfe571"/><stop offset="0.429" stop-color="#c6e069"/><stop offset="0.5" stop-color="#bddc61"/><stop offset="0.571" stop-color="#c0dd63"/><stop offset="0.714" stop-color="#bbdb5f"/><stop offset="0.857" stop-color="#afd555"/><stop offset="1" stop-color="#a3d04e"/></linearGradient><linearGradient id="g90"><stop offset="0" stop-color="#e9f280"/><stop offset="0.05" stop-color="#f0f680"/><stop offset="0.107" stop-color="#f5f980"/><stop offset="0.16" stop-color="#f7fa80"/><stop offset="0.214" stop-color="#f6fa80"/><stop offset="0.25" stop-color="#f3f880"/><stop offset="0.286" stop-color="#eff580"/><stop offset="0.321" stop-color="#eaf280"/><stop offset="0.357" stop-color="#e1ed7b"/><stop offset="0.393" stop-color="#d6e874"/><stop offset="0.429" stop-color="#cbe36d"/><stop offset="0.5" stop-color="#c1de65"/><stop offset="0.571" stop-color="#c3df66"/><stop offset="0.714" stop-color="#bedc61"/><stop offset="0.857" stop-color="#b1d657"/><stop offset="1" stop-color="#a4d04e"/></linearGradient><linearGradient id="g91"><stop offset="0" stop-color="#f0f580"/><stop offset="0.05" stop-color="#f6f980"/><stop offset="0.107" stop-color="#fbfc80"/><stop offset="0.16" stop-color="#fdfe80"/><stop offset="0.214" stop-color="#fcfd80"/><stop offset="0.25" stop-color="#f9fb80"/><stop offset="0.286" stop-color="#f5f980"/><stop offset="0.321" stop-color="#eff580"/><stop offset="0.357" stop-color="#e7f17f"/><stop offset="0.393" stop-color="#dceb78"/><stop offset="0.429" stop-color="#d0e571"/><stop offset="0.5" stop-color="#c5e068"/><stop offset="0.571" stop-color="#c7e069"/><stop offset="0.714" stop-color="#c0dd64"/><stop offset="0.857" stop-color="#b3d758"/><stop offset="1" stop-color="#a5d14f"/></linearGradient><linearGradient id="g92"><stop offset="0" stop-color="#f5f980"/><stop offset="0.05" stop-color="#fbfd80"/><stop offset="0.107" stop-color="#fefd7f"/><stop offset="0.16" stop-color="#fdf97f"/><stop offset="0.214" stop-color="#fdfa7f"/><stop offset="0.25" stop-color="#fefe80"/><stop offset="0.286" stop-color="#fafc80"/><stop offset="0.321" stop-color="#f4f880"/><stop offset="0.357" stop-color="#edf480"/><stop offset="0.393" stop-color="#e1ee7b"/><stop offset="0.429" stop-color="#d5e774"/><stop offset="0.5" stop-color="#c8e16b"/><stop offset="0.571" stop-color="#cae26c"/><stop offset="0.714" stop-color="#c2df66"/><stop offset="0.857" stop-color="#b5d85a"/><stop offset="1" stop-color="#a6d14f"/></linearGradient><linearGradient id="g93"><stop offset="0" stop-color="#fafc80"/><stop offset="0.05" stop-color="#fefc7f"/><stop offset="0.107" stop-color="#fbf37d"/><stop offset="0.16" stop-color="#f9ef7d"/><stop offset="0.214" stop-color="#faf17d"/><stop offset="0.25" stop-color="#fcf77e"/><stop offset="0.286" stop-color="#fefe80"/><stop offset="0.321" stop-color="#f8fb80"/><stop offset="0.357" stop-color="#f1f680"/><stop offset="0.393" stop-color="#e6f07e"/><stop offset="0.429" stop-color="#d9e976"/><stop offset="0.5" stop-color="#cce36e"/><stop offset="0.571" stop-color="#cce36e"/><stop offset="0.714" stop-color="#c4df67"/><stop offset="0.857" stop-color="#b6d95b"/><stop offset="1" stop-color="#a6d14f"/></linearGradient><linearGradient id="g94"><stop offset="0" stop-color="#feff80"/><stop offset="0.05" stop-color="#fbf47e"/><stop offset="0.107" stop-color="#f8ea7c"/><stop offset="0.16" stop-color="#f6e77b"/><stop offset="0.214" stop-color="#f7e97b"/><stop offset="0.25" stop-color="#f9ef7d"/><stop offset="0.286" stop-color="#fdf97f"/><stop offset="0.321" stop-color="#fcfd80"/><stop offset="0.357" stop-color="#f4f880"/><stop offset="0.393" stop-color="#eaf280"/><stop offset="0.429" stop-color="#ddec79"/><stop offset="0.5" stop-color="#cfe470"/><stop offset="0.571" stop-color="#cfe470"/><stop offset="0.714" stop-color="#c6e069"/><stop offset="0.857" stop-color="#b8d95c"/><stop offset="1" stop-color="#a7d24f"/></linearGradient><linearGradient id="g95"><stop offset="0" stop-color="#fdf87e"/><stop offset="0.05" stop-color="#f8ec7c"/><stop offset="0.107" stop-color="#f5e37a"/><stop offset="0.16" stop-color="#f4df79"/><stop offset="0.214" stop-color="#f5e17a"/><stop offset="0.25" stop-color="#f7e87b"/><stop offset="0.286" stop-color="#faf17d"/><stop offset="0.321" stop-color="#fffe80"/><stop offset="0.357" stop-color="#f8fb80"/><stop offset="0.393" stop-color="#eef480"/><stop offset="0.429" stop-color="#e1ee7b"/><stop offset="0.5" stop-color="#d2e672"/><stop offset="0.571" stop-color="#d1e672"/><stop offset="0.714" stop-color="#c8e16a"/><stop offset="0.857" stop-color="#b9da5d"/><stop offset="1" stop-color="#a8d24f"/></linearGradient><linearGradient id="g96"><stop offset="0" stop-color="#faf17d"/><stop offset="0.05" stop-color="#f6e57a"/><stop offset="0.107" stop-color="#f3dc78"/><stop offset="0.16" stop-color="#f1d877"/><stop offset="0.214" stop-color="#f2da78"/><stop offset="0.25" stop-color="#f4e179"/><stop offset="0.286" stop-color="#f8ea7c"/><stop offset="0.321" stop-color="#fcf77e"/><stop offset="0.357" stop-color="#fbfd80"/><stop offset="0.393" stop-color="#f1f680"/><stop offset="0.429" stop-color="#e5ef7d"/><stop offset="0.5" stop-color="#d5e774"/><stop offset="0.571" stop-color="#d4e773"/><stop offset="0.714" stop-color="#c9e26c"/><stop offset="0.857" stop-color="#bada5e"/><stop offset="1" stop-color="#a8d24f"/></linearGradient><linearGradient id="g97"><stop offset="0" stop-color="#f8ea7b"/><stop offset="0.05" stop-color="#f4de79"/><stop offset="0.107" stop-color="#efd575"/><stop offset="0.16" stop-color="#ecd173"/><stop offset="0.214" stop-color="#edd374"/><stop offset="0.25" stop-color="#f2da78"/><stop offset="0.286" stop-color="#f5e47a"/><stop offset="0.321" stop-color="#faf07d"/><stop offset="0.357" stop-color="#ffff80"/><stop offset="0.393" stop-color="#f4f880"/><stop offset="0.429" stop-color="#e9f17f"/><stop offset="0.5" stop-color="#d8e976"/><stop offset="0.571" stop-color="#d6e874"/><stop offset="0.714" stop-color="#cbe26d"/><stop offset="0.857" stop-color="#bbdb5f"/><stop offset="1" stop-color="#a9d250"/></linearGradient><linearGradient id="g98"><stop offset="0" stop-color="#f6e47a"/><stop offset="0.05" stop-color="#f1d877"/><stop offset="0.107" stop-color="#eace71"/><stop offset="0.16" stop-color="#e7ca6f"/><stop offset="0.214" stop-color="#e9cc70"/><stop offset="0.25" stop-color="#edd374"/><stop offset="0.286" stop-color="#f3dd79"/><stop offset="0.321" stop-color="#f7ea7b"/><stop offset="0.357" stop-color="#fdf97f"/><stop offset="0.393" stop-color="#f7fa80"/><stop offset="0.429" stop-color="#ecf380"/><stop offset="0.5" stop-color="#dbea77"/><stop offset="0.571" stop-color="#d8e976"/><stop offset="0.714" stop-color="#cce36e"/><stop offset="0.857" stop-color="#bcdb60"/><stop offset="1" stop-color="#a9d250"/></linearGradient><linearGradient id="g99"><stop offset="0" stop-color="#f4de79"/><stop offset="0.05" stop-color="#edd273"/><stop offset="0.107" stop-color="#e6c86e"/><stop offset="0.16" stop-color="#e3c46b"/><stop offset="0.214" stop-color="#e4c56c"/><stop offset="0.25" stop-color="#e9cc70"/><stop offset="0.286" stop-color="#f0d776"/><stop offset="0.321" stop-color="#f5e37a"/><stop offset="0.357" stop-color="#fbf37d"/><stop offset="0.393" stop-color="#fafc80"/><stop offset="0.429" stop-color="#eff580"/><stop offset="0.5" stop-color="#deec79"/><stop offset="0.571" stop-color="#daea77"/><stop offset="0.714" stop-color="#cde46f"/><stop offset="0.857" stop-color="#bddc60"/><stop offset="1" stop-color="#a9d350"/></linearGradient><linearGradient id="g100"><stop offset="0" stop-color="#f1d977"/><stop offset="0.05" stop-color="#e9cc70"/><stop offset="0.107" stop-color="#e2c26a"/><stop offset="0.16" stop-color="#dfbf69"/><stop offset="0.214" stop-color="#e0c069"/><stop offset="0.25" stop-color="#e5c66c"/><stop offset="0.286" stop-color="#ecd072"/><stop offset="0.321" stop-color="#f3de79"/><stop offset="0.357" stop-color="#f9ed7c"/><stop offset="0.393" stop-color="#fdfe80"/><stop offset="0.429" stop-color="#f1f680"/><stop offset="0.5" stop-color="#e0ed7a"/><stop offset="0.571" stop-color="#dceb78"/><stop offset="0.714" stop-color="#cee470"/><stop offset="0.857" stop-color="#bddc61"/><stop offset="1" stop-color="#aad350"/></linearGradient><linearGradient id="g101"><stop offset="0" stop-color="#edd374"/><stop offset="0.05" stop-color="#e5c66d"/><stop offset="0.107" stop-color="#debe69"/><stop offset="0.16" stop-color="#dbba68"/><stop offset="0.214" stop-color="#dbbb68"/><stop offset="0.25" stop-color="#e0c069"/><stop offset="0.286" stop-color="#e7ca6f"/><stop offset="0.321" stop-color="#f0d877"/><stop offset="0.357" stop-color="#f7e77b"/><stop offset="0.393" stop-color="#fefd80"/><stop offset="0.429" stop-color="#f4f880"/><stop offset="0.5" stop-color="#e3ef7c"/><stop offset="0.571" stop-color="#deec79"/><stop offset="0.714" stop-color="#cfe571"/><stop offset="0.857" stop-color="#bedc62"/><stop offset="1" stop-color="#aad350"/></linearGradient><linearGradient id="g102"><stop offset="0" stop-color="#eace71"/><stop offset="0.05" stop-color="#e1c16a"/><stop offset="0.107" stop-color="#dab967"/><stop offset="0.16" stop-color="#d6b666"/><stop offset="0.214" stop-color="#d7b667"/><stop offset="0.25" stop-color="#dcbb68"/><stop offset="0.286" stop-color="#e3c46b"/><stop offset="0.321" stop-color="#ecd173"/><stop offset="0.357" stop-color="#f5e27a"/><stop offset="0.393" stop-color="#fdf87e"/><stop offset="0.429" stop-color="#f6fa80"/><stop offset="0.5" stop-color="#e6f07e"/><stop offset="0.571" stop-color="#e0ed7a"/><stop offset="0.714" stop-color="#d0e571"/><stop offset="0.857" stop-color="#bfdd62"/><stop offset="1" stop-color="#aad350"/></linearGradient><linearGradient id="g103"><stop offset="0" stop-color="#e6c86e"/><stop offset="0.05" stop-color="#ddbd69"/><stop offset="0.107" stop-color="#d6b566"/><stop offset="0.16" stop-color="#d2b165"/><stop offset="0.214" stop-color="#d3b265"/><stop offset="0.25" stop-color="#d8b767"/><stop offset="0.286" stop-color="#dfbf69"/><stop offset="0.321" stop-color="#e8cb6f"/><stop offset="0.357" stop-color="#f3dc78"/><stop offset="0.393" stop-color="#fbf27d"/><stop offset="0.429" stop-color="#f9fb80"/><stop offset="0.5" stop-color="#e9f17f"/><stop offset="0.571" stop-color="#e2ee7c"/><stop offset="0.714" stop-color="#d1e672"/><stop offset="0.857" stop-color="#bfdd63"/><stop offset="1" stop-color="#abd351"/></linearGradient><linearGradient id="g104"><stop offset="0" stop-color="#e3c36b"/><stop offset="0.05" stop-color="#dab967"/><stop offset="0.107" stop-color="#d2b165"/><stop offset="0.16" stop-color="#cfad64"/><stop offset="0.214" stop-color="#cfae64"/><stop offset="0.25" stop-color="#d3b365"/><stop offset="0.286" stop-color="#dbba68"/><stop offset="0.321" stop-color="#e4c56c"/><stop offset="0.357" stop-color="#f0d776"/><stop offset="0.393" stop-color="#f9ed7c"/><stop offset="0.429" stop-color="#fcfd80"/><stop offset="0.5" stop-color="#ebf380"/><stop offset="0.571" stop-color="#e4ef7d"/><stop offset="0.714" stop-color="#d2e672"/><stop offset="0.857" stop-color="#c0dd63"/><stop offset="1" stop-color="#abd351"/></linearGradient><linearGradient id="g105"><stop offset="0" stop-color="#dfbf69"/><stop offset="0.05" stop-color="#d6b566"/><stop offset="0.107" stop-color="#cfad64"/><stop offset="0.16" stop-color="#cbaa63"/><stop offset="0.214" stop-color="#cbaa63"/><stop offset="0.25" stop-color="#d0ae64"/><stop offset="0.286" stop-color="#d7b666"/><stop offset="0.321" stop-color="#e0c069"/><stop offset="0.357" stop-color="#ecd173"/><stop offset="0.393" stop-color="#f7e87b"/><stop offset="0.429" stop-color="#fefe80"/><stop offset="0.5" stop-color="#edf480"/><stop offset="0.571" stop-color="#e6f07e"/><stop offset="0.714" stop-color="#d3e673"/><stop offset="0.857" stop-color="#c0dd64"/><stop offset="1" stop-color="#abd451"/></linearGradient><linearGradient id="g106"><stop offset="0" stop-color="#dbbb68"/><stop offset="0.05" stop-color="#d2b165"/><stop offset="0.107" stop-color="#cbaa63"/><stop offset="0.16" stop-color="#c7a662"/><stop offset="0.214" stop-color="#c7a662"/><stop offset="0.25" stop-color="#ccaa63"/><stop offset="0.286" stop-color="#d3b265"/><stop offset="0.321" stop-color="#dcbc68"/><stop offset="0.357" stop-color="#e8cb6f"/><stop offset="0.393" stop-color="#f5e37a"/><stop offset="0.429" stop-color="#fefc7f"/><stop offset="0.5" stop-color="#eff580"/><stop offset="0.571" stop-color="#e8f17f"/><stop offset="0.714" stop-color="#d3e773"/><stop offset="0.857" stop-color="#c0de64"/><stop offset="1" stop-color="#abd451"/></linearGradient><linearGradient id="g107"><stop offset="0" stop-color="#d8b767"/><stop offset="0.05" stop-color="#cfae64"/><stop offset="0.107" stop-color="#c8a662"/><stop offset="0.16" stop-color="#c4a261"/><stop offset="0.214" stop-color="#c4a261"/><stop offset="0.25" stop-color="#c8a662"/><stop offset="0.286" stop-color="#cfae64"/><stop offset="0.321" stop-color="#d8b867"/><stop offset="0.357" stop-color="#e5c66c"/><stop offset="0.393" stop-color="#f4de79"/><stop offset="0.429" stop-color="#fcf87e"/><stop offset="0.5" stop-color="#f1f680"/><stop offset="0.571" stop-color="#e9f280"/><stop offset="0.714" stop-color="#d4e773"/><stop offset="0.857" stop-color="#c1de64"/><stop offset="1" stop-color="#acd451"/></linearGradient><linearGradient id="g108"><stop offset="0" stop-color="#d4b366"/><stop offset="0.05" stop-color="#cbaa63"/><stop offset="0.107" stop-color="#c4a261"/><stop offset="0.16" stop-color="#c09e5f"/><stop offset="0.214" stop-color="#c09e5f"/><stop offset="0.25" stop-color="#c5a361"/><stop offset="0.286" stop-color="#cbaa63"/><stop offset="0.321" stop-color="#d5b466"/><stop offset="0.357" stop-color="#e1c16a"/><stop offset="0.393" stop-color="#f2da78"/><stop offset="0.429" stop-color="#fbf37d"/><stop offset="0.5" stop-color="#f3f880"/><stop offset="0.571" stop-color="#ebf380"/><stop offset="0.714" stop-color="#d4e774"/><stop offset="0.857" stop-color="#c1de64"/><stop offset="1" stop-color="#acd451"/></linearGradient><linearGradient id="g109"><stop offset="0" stop-color="#d1b065"/><stop offset="0.05" stop-color="#c8a662"/><stop offset="0.107" stop-color="#c09e5f"/><stop offset="0.16" stop-color="#bd9a5e"/><stop offset="0.214" stop-color="#bd9a5e"/><stop offset="0.25" stop-color="#c19f60"/><stop offset="0.286" stop-color="#c8a662"/><stop offset="0.321" stop-color="#d1b065"/><stop offset="0.357" stop-color="#ddbd69"/><stop offset="0.393" stop-color="#efd575"/><stop offset="0.429" stop-color="#f9ef7c"/><stop offset="0.5" stop-color="#f5f980"/><stop offset="0.571" stop-color="#ecf380"/><stop offset="0.714" stop-color="#d5e774"/><stop offset="0.857" stop-color="#c1de64"/><stop offset="1" stop-color="#acd451"/></linearGradient><linearGradient id="g110"><stop offset="0" stop-color="#cdac63"/><stop offset="0.05" stop-color="#c4a261"/><stop offset="0.107" stop-color="#bd9a5e"/><stop offset="0.16" stop-color="#b9965c"/><stop offset="0.214" stop-color="#ba965c"/><stop offset="0.25" stop-color="#be9b5e"/><stop offset="0.286" stop-color="#c4a361"/><stop offset="0.321" stop-color="#ceac64"/><stop offset="0.357" stop-color="#dab967"/><stop offset="0.393" stop-color="#ebd072"/><stop offset="0.429" stop-color="#f8ea7c"/><stop offset="0.5" stop-color="#f7fa80"/><stop offset="0.571" stop-color="#edf480"/><stop offset="0.714" stop-color="#d5e774"/><stop offset="0.857" stop-color="#c1de64"/><stop offset="1" stop-color="#acd451"/></linearGradient><linearGradient id="g111"><stop offset="0" stop-color="#c9a862"/><stop offset="0.05" stop-color="#c09d5f"/><stop offset="0.107" stop-color="#b9955c"/><stop offset="0.16" stop-color="#b5915a"/><stop offset="0.214" stop-color="#b6925b"/><stop offset="0.25" stop-color="#bb975d"/><stop offset="0.286" stop-color="#c19f60"/><stop offset="0.321" stop-color="#caa963"/><stop offset="0.357" stop-color="#d6b666"/><stop offset="0.393" stop-color="#e8cc70"/><stop offset="0.429" stop-color="#f6e67b"/><stop offset="0.5" stop-color="#f9fb80"/><stop offset="0.571" stop-color="#eef580"/><stop offset="0.714" stop-color="#d5e774"/><stop offset="0.857" stop-color="#c1de64"/><stop offset="1" stop-color="#abd451"/></linearGradient><linearGradient id="g112"><stop offset="0" stop-color="#c5a361"/><stop offset="0.05" stop-color="#bb985d"/><stop offset="0.107" stop-color="#b48f5a"/><stop offset="0.16" stop-color="#b18c58"/><stop offset="0.214" stop-color="#b28d59"/><stop offset="0.25" stop-color="#b7935b"/><stop offset="0.286" stop-color="#be9c5e"/><stop offset="0.321" stop-color="#c7a662"/><stop offset="0.357" stop-color="#d3b265"/><stop offset="0.393" stop-color="#e6c76d"/><stop offset="0.429" stop-color="#f5e37a"/><stop offset="0.5" stop-color="#fafc80"/><stop offset="0.571" stop-color="#eff580"/><stop offset="0.714" stop-color="#d5e774"/><stop offset="0.857" stop-color="#c0de64"/><stop offset="1" stop-color="#abd351"/></linearGradient><linearGradient id="g113"><stop offset="0" stop-color="#c09e5f"/><stop offset="0.05" stop-color="#b6925b"/><stop offset="0.107" stop-color="#ae8857"/><stop offset="0.16" stop-color="#ac8656"/><stop offset="0.214" stop-color="#ae8957"/><stop offset="0.25" stop-color="#b4905a"/><stop offset="0.286" stop-color="#bb985d"/><stop offset="0.321" stop-color="#c4a361"/><stop offset="0.357" stop-color="#d0af65"/><stop offset="0.393" stop-color="#e3c36b"/><stop offset="0.429" stop-color="#f4df79"/><stop offset="0.5" stop-color="#fcfd80"/><stop offset="0.571" stop-color="#f0f680"/><stop offset="0.714" stop-color="#d4e774"/><stop offset="0.857" stop-color="#c0dd63"/><stop offset="1" stop-color="#aad350"/></linearGradient><linearGradient id="g114"><stop offset="0" stop-color="#bb985d"/><stop offset="0.05" stop-color="#af8a58"/><stop offset="0.107" stop-color="#a78054"/><stop offset="0.16" stop-color="#a67f54"/><stop offset="0.214" stop-color="#ab8456"/><stop offset="0.25" stop-color="#b18c59"/><stop offset="0.286" stop-color="#b9955c"/><stop offset="0.321" stop-color="#c2a060"/><stop offset="0.357" stop-color="#cead64"/><stop offset="0.393" stop-color="#e0c069"/><stop offset="0.429" stop-color="#f3dc78"/><stop offset="0.5" stop-color="#fefe80"/><stop offset="0.571" stop-color="#eff580"/><stop offset="0.714" stop-color="#d3e673"/><stop offset="0.857" stop-color="#bfdd62"/><stop offset="1" stop-color="#aad350"/></linearGradient><linearGradient id="g115"><stop offset="0" stop-color="#b4905a"/><stop offset="0.05" stop-color="#a78054"/><stop offset="0.107" stop-color="#a07851"/><stop offset="0.16" stop-color="#a17951"/><stop offset="0.214" stop-color="#a78054"/><stop offset="0.25" stop-color="#af8957"/><stop offset="0.286" stop-color="#b7935b"/><stop offset="0.321" stop-color="#c09d5f"/><stop offset="0.357" stop-color="#ccaa63"/><stop offset="0.393" stop-color="#debd69"/><stop offset="0.429" stop-color="#f4df79"/><stop offset="0.5" stop-color="#f6f980"/><stop offset="0.571" stop-color="#e9f280"/><stop offset="0.714" stop-color="#d2e672"/><stop offset="0.857" stop-color="#bedc61"/><stop offset="1" stop-color="#a9d350"/></linearGradient><linearGradient id="g116"><stop offset="0" stop-color="#ac8656"/><stop offset="0.05" stop-color="#9f7650"/><stop offset="0.107" stop-color="#996f4d"/><stop offset="0.16" stop-color="#9c734f"/><stop offset="0.214" stop-color="#a47c53"/><stop offset="0.25" stop-color="#ac8657"/><stop offset="0.286" stop-color="#b5915a"/><stop offset="0.321" stop-color="#c09e5f"/><stop offset="0.357" stop-color="#d1b065"/><stop offset="0.393" stop-color="#eace71"/><stop offset="0.429" stop-color="#faf17d"/><stop offset="0.5" stop-color="#eef580"/><stop offset="0.571" stop-color="#e4ef7c"/><stop offset="0.714" stop-color="#d0e571"/><stop offset="0.857" stop-color="#bcdc60"/><stop offset="1" stop-color="#a8d250"/></linearGradient><linearGradient id="g117"><stop offset="0" stop-color="#a37b52"/><stop offset="0.05" stop-color="#966a4c"/><stop offset="0.107" stop-color="#92664a"/><stop offset="0.16" stop-color="#986d4d"/><stop offset="0.214" stop-color="#a27a52"/><stop offset="0.25" stop-color="#ac8656"/><stop offset="0.286" stop-color="#b9955c"/><stop offset="0.321" stop-color="#c9a762"/><stop offset="0.357" stop-color="#debe69"/><stop offset="0.393" stop-color="#f4e17a"/><stop offset="0.429" stop-color="#fdfe80"/><stop offset="0.5" stop-color="#e6f07e"/><stop offset="0.571" stop-color="#dfed7a"/><stop offset="0.714" stop-color="#cee470"/><stop offset="0.857" stop-color="#bbdb5f"/><stop offset="1" stop-color="#a8d24f"/></linearGradient><linearGradient id="g118"><stop offset="0" stop-color="#996f4e"/><stop offset="0.05" stop-color="#8c5f47"/><stop offset="0.107" stop-color="#8c5e47"/><stop offset="0.16" stop-color="#956a4b"/><stop offset="0.214" stop-color="#a37b52"/><stop offset="0.25" stop-color="#b18b58"/><stop offset="0.286" stop-color="#c19f60"/><stop offset="0.321" stop-color="#d5b466"/><stop offset="0.357" stop-color="#ecd173"/><stop offset="0.393" stop-color="#fbf47e"/><stop offset="0.429" stop-color="#f4f880"/><stop offset="0.5" stop-color="#deec79"/><stop offset="0.571" stop-color="#dbeb78"/><stop offset="0.714" stop-color="#cce36e"/><stop offset="0.857" stop-color="#b9da5d"/><stop offset="1" stop-color="#a7d14f"/></linearGradient><linearGradient id="g119"><stop offset="0" stop-color="#8f6249"/><stop offset="0.05" stop-color="#845543"/><stop offset="0.107" stop-color="#885945"/><stop offset="0.16" stop-color="#94694b"/><stop offset="0.214" stop-color="#a88154"/><stop offset="0.25" stop-color="#b9955c"/><stop offset="0.286" stop-color="#cdac64"/><stop offset="0.321" stop-color="#e4c56c"/><stop offset="0.357" stop-color="#f6e57a"/><stop offset="0.393" stop-color="#fbfc80"/><stop offset="0.429" stop-color="#ebf380"/><stop offset="0.5" stop-color="#d8e975"/><stop offset="0.571" stop-color="#d8e976"/><stop offset="0.714" stop-color="#cae26c"/><stop offset="0.857" stop-color="#b7d95c"/><stop offset="1" stop-color="#a6d14f"/></linearGradient><linearGradient id="g120"><stop offset="0" stop-color="#865744"/><stop offset="0.05" stop-color="#7f4c3f"/><stop offset="0.107" stop-color="#865744"/><stop offset="0.16" stop-color="#996e4d"/><stop offset="0.214" stop-color="#b18c59"/><stop offset="0.25" stop-color="#c5a361"/><stop offset="0.286" stop-color="#ddbc68"/><stop offset="0.321" stop-color="#f3dc78"/><stop offset="0.357" stop-color="#fdfa7f"/><stop offset="0.393" stop-color="#f1f780"/><stop offset="0.429" stop-color="#e1ee7b"/><stop offset="0.5" stop-color="#d2e672"/><stop offset="0.571" stop-color="#d4e774"/><stop offset="0.714" stop-color="#c7e16a"/><stop offset="0.857" stop-color="#b5d85a"/><stop offset="1" stop-color="#a5d14f"/></linearGradient><linearGradient id="g121"><stop offset="0" stop-color="#7f4c3f"/><stop offset="0.05" stop-color="#7c473d"/><stop offset="0.107" stop-color="#895b46"/><stop offset="0.16" stop-color="#a27a52"/><stop offset="0.214" stop-color="#be9b5e"/><stop offset="0.25" stop-color="#d5b466"/><stop offset="0.286" stop-color="#edd273"/><stop offset="0.321" stop-color="#faf07d"/><stop offset="0.357" stop-color="#f8fb80"/><stop offset="0.393" stop-color="#e9f17f"/><stop offset="0.429" stop-color="#d9e976"/><stop offset="0.5" stop-color="#cee470"/><stop offset="0.571" stop-color="#d1e672"/><stop offset="0.714" stop-color="#c4df67"/><stop offset="0.857" stop-color="#b3d758"/><stop offset="1" stop-color="#a4d04e"/></linearGradient><linearGradient id="g122"><stop offset="0" stop-color="#7a453c"/><stop offset="0.05" stop-color="#7c493d"/><stop offset="0.107" stop-color="#94684b"/><stop offset="0.16" stop-color="#b08a58"/><stop offset="0.214" stop-color="#cead64"/><stop offset="0.25" stop-color="#e6c86e"/><stop offset="0.286" stop-color="#f7e97b"/><stop offset="0.321" stop-color="#fcfd80"/><stop offset="0.357" stop-color="#eff580"/><stop offset="0.393" stop-color="#dfec7a"/><stop offset="0.429" stop-color="#d1e672"/><stop offset="0.5" stop-color="#cae26c"/><stop offset="0.571" stop-color="#cee470"/><stop offset="0.714" stop-color="#c2de65"/><stop offset="0.857" stop-color="#b1d656"/><stop offset="1" stop-color="#a3d04e"/></linearGradient><linearGradient id="g123"><stop offset="0" stop-color="#79433a"/><stop offset="0.05" stop-color="#845543"/><stop offset="0.107" stop-color="#a27a52"/><stop offset="0.16" stop-color="#bf9d5f"/><stop offset="0.214" stop-color="#e0c069"/><stop offset="0.25" stop-color="#f4e079"/><stop offset="0.286" stop-color="#fffe80"/><stop offset="0.321" stop-color="#f2f780"/><stop offset="0.357" stop-color="#e5f07d"/><stop offset="0.393" stop-color="#d7e875"/><stop offset="0.429" stop-color="#cbe36e"/><stop offset="0.5" stop-color="#c6e069"/><stop offset="0.571" stop-color="#cae26d"/><stop offset="0.714" stop-color="#bfdd62"/><stop offset="0.857" stop-color="#afd554"/><stop offset="1" stop-color="#a2cf4e"/></linearGradient><linearGradient id="g124"><stop offset="0" stop-color="#7e4c3f"/><stop offset="0.05" stop-color="#94684b"/><stop offset="0.107" stop-color="#b38e59"/><stop offset="0.16" stop-color="#d1b065"/><stop offset="0.214" stop-color="#f1d977"/><stop offset="0.25" stop-color="#fcf77e"/><stop offset="0.286" stop-color="#f5f980"/><stop offset="0.321" stop-color="#e9f280"/><stop offset="0.357" stop-color="#dceb78"/><stop offset="0.393" stop-color="#d0e571"/><stop offset="0.429" stop-color="#c7e16a"/><stop offset="0.5" stop-color="#c3df66"/><stop offset="0.571" stop-color="#c7e16a"/><stop offset="0.714" stop-color="#bcdb60"/><stop offset="0.857" stop-color="#acd452"/><stop offset="1" stop-color="#a1ce4d"/></linearGradient><linearGradient id="g125"><stop offset="0" stop-color="#8c5e47"/><stop offset="0.05" stop-color="#a57e54"/><stop offset="0.107" stop-color="#c4a261"/><stop offset="0.16" stop-color="#e3c46b"/><stop offset="0.214" stop-color="#faef7d"/><stop offset="0.25" stop-color="#f9fb80"/><stop offset="0.286" stop-color="#ecf380"/><stop offset="0.321" stop-color="#dfec7a"/><stop offset="0.357" stop-color="#d4e774"/><stop offset="0.393" stop-color="#cae26d"/><stop offset="0.429" stop-color="#c3df66"/><stop offset="0.5" stop-color="#c0dd63"/><stop offset="0.571" stop-color="#c3df67"/><stop offset="0.714" stop-color="#b8da5d"/><stop offset="0.857" stop-color="#aad350"/><stop offset="1" stop-color="#9fce4d"/></linearGradient><linearGradient id="g126"><stop offset="0" stop-color="#9d7450"/><stop offset="0.05" stop-color="#b8945c"/><stop offset="0.107" stop-color="#d6b666"/><stop offset="0.16" stop-color="#f3dd79"/><stop offset="0.214" stop-color="#fcfd80"/><stop offset="0.25" stop-color="#eff580"/><stop offset="0.286" stop-color="#e2ee7b"/><stop offset="0.321" stop-color="#d6e875"/><stop offset="0.357" stop-color="#cee470"/><stop offset="0.393" stop-color="#c5e068"/><stop offset="0.429" stop-color="#bfdd63"/><stop offset="0.5" stop-color="#bcdc60"/><stop offset="0.571" stop-color="#c0dd63"/><stop offset="0.714" stop-color="#b5d85a"/><stop offset="0.857" stop-color="#a8d24f"/><stop offset="1" stop-color="#9ecd4d"/></linearGradient><linearGradient id="g127"><stop offset="0" stop-color="#b08b58"/><stop offset="0.05" stop-color="#caa862"/><stop offset="0.107" stop-color="#e8cb6f"/><stop offset="0.16" stop-color="#fbf47e"/><stop offset="0.214" stop-color="#f2f780"/><stop offset="0.25" stop-color="#e5ef7d"/><stop offset="0.286" stop-color="#d8e976"/><stop offset="0.321" stop-color="#cfe571"/><stop offset="0.357" stop-color="#c8e16b"/><stop offset="0.393" stop-color="#c1de65"/><stop offset="0.429" stop-color="#bbdb5f"/><stop offset="0.5" stop-color="#b9da5d"/><stop offset="0.571" stop-color="#bcdc60"/><stop offset="0.714" stop-color="#b2d757"/><stop offset="0.857" stop-color="#a6d14f"/><stop offset="1" stop-color="#9dcd4c"/></linearGradient><linearGradient id="g128"><stop offset="0" stop-color="#c3a160"/><stop offset="0.05" stop-color="#dcbc68"/><stop offset="0.107" stop-color="#f5e47a"/><stop offset="0.16" stop-color="#fafc80"/><stop offset="0.214" stop-color="#e8f17f"/><stop offset="0.25" stop-color="#dbea77"/><stop offset="0.286" stop-color="#d1e571"/><stop offset="0.321" stop-color="#c9e26c"/><stop offset="0.357" stop-color="#c4df67"/><stop offset="0.393" stop-color="#bddc61"/><stop offset="0.429" stop-color="#b8da5c"/><stop offset="0.5" stop-color="#b6d95a"/><stop offset="0.571" stop-color="#b9da5d"/><stop offset="0.714" stop-color="#afd554"/><stop offset="0.857" stop-color="#a5d04f"/><stop offset="1" stop-color="#9ccc4c"/></linearGradient><linearGradient id="g129"><stop offset="0" stop-color="#d6b566"/><stop offset="0.05" stop-color="#edd273"/><stop offset="0.107" stop-color="#fdfa7f"/><stop offset="0.16" stop-color="#f0f580"/><stop offset="0.214" stop-color="#deec79"/><stop offset="0.25" stop-color="#d3e673"/><stop offset="0.286" stop-color="#cae26d"/><stop offset="0.321" stop-color="#c4df67"/><stop offset="0.357" stop-color="#bfdd63"/><stop offset="0.393" stop-color="#b9da5e"/><stop offset="0.429" stop-color="#b4d859"/><stop offset="0.5" stop-color="#b2d757"/><stop offset="0.571" stop-color="#b5d85a"/><stop offset="0.714" stop-color="#acd452"/><stop offset="0.857" stop-color="#a3d04e"/><stop offset="1" stop-color="#9bcc4c"/></linearGradient><linearGradient id="g130"><stop offset="0" stop-color="#e7ca6f"/><stop offset="0.05" stop-color="#f7e87b"/><stop offset="0.107" stop-color="#f7fa80"/><stop offset="0.16" stop-color="#e6f07d"/><stop offset="0.214" stop-color="#d5e774"/><stop offset="0.25" stop-color="#cce36e"/><stop offset="0.286" stop-color="#c5e068"/><stop offset="0.321" stop-color="#bfdd63"/><stop offset="0.357" stop-color="#bbdb5f"/><stop offset="0.393" stop-color="#b6d95a"/><stop offset="0.429" stop-color="#b1d656"/><stop offset="0.5" stop-color="#afd554"/><stop offset="0.571" stop-color="#b1d656"/><stop offset="0.714" stop-color="#a9d350"/><stop offset="0.857" stop-color="#a1cf4e"/><stop offset="1" stop-color="#9acb4c"/></linearGradient><linearGradient id="g131"><stop offset="0" stop-color="#f4e179"/><stop offset="0.05" stop-color="#fefd80"/><stop offset="0.107" stop-color="#edf480"/><stop offset="0.16" stop-color="#dbeb78"/><stop offset="0.214" stop-color="#cde46f"/><stop offset="0.25" stop-color="#c6e069"/><stop offset="0.286" stop-color="#c0dd63"/><stop offset="0.321" stop-color="#bbdb5f"/><stop offset="0.357" stop-color="#b7d95c"/><stop offset="0.393" stop-color="#b2d757"/><stop offset="0.429" stop-color="#aed553"/><stop offset="0.5" stop-color="#acd451"/><stop offset="0.571" stop-color="#aed553"/><stop offset="0.714" stop-color="#a7d14f"/><stop offset="0.857" stop-color="#a0ce4d"/><stop offset="1" stop-color="#99cb4b"/></linearGradient><linearGradient id="g132"><stop offset="0" stop-color="#fbf47e"/><stop offset="0.05" stop-color="#f6f980"/><stop offset="0.107" stop-color="#e3ef7c"/><stop offset="0.16" stop-color="#d3e673"/><stop offset="0.214" stop-color="#c7e16a"/><stop offset="0.25" stop-color="#c1de64"/><stop offset="0.286" stop-color="#bbdb5f"/><stop offset="0.321" stop-color="#b7d95b"/><stop offset="0.357" stop-color="#b3d758"/><stop offset="0.393" stop-color="#aed554"/><stop offset="0.429" stop-color="#aad350"/><stop offset="0.5" stop-color="#a9d250"/><stop offset="0.571" stop-color="#aad350"/><stop offset="0.714" stop-color="#a5d04f"/><stop offset="0.857" stop-color="#9ecd4d"/><stop offset="1" stop-color="#98ca4b"/></linearGradient><linearGradient id="g133"><stop offset="0" stop-color="#fbfd80"/><stop offset="0.05" stop-color="#edf480"/><stop offset="0.107" stop-color="#daea77"/><stop offset="0.16" stop-color="#cbe36e"/><stop offset="0.214" stop-color="#c2de65"/><stop offset="0.25" stop-color="#bcdb60"/><stop offset="0.286" stop-color="#b7d95b"/><stop offset="0.321" stop-color="#b3d758"/><stop offset="0.357" stop-color="#afd555"/><stop offset="0.393" stop-color="#abd351"/><stop offset="0.429" stop-color="#a8d24f"/><stop offset="0.5" stop-color="#a7d14f"/><stop offset="0.571" stop-color="#a8d24f"/><stop offset="0.714" stop-color="#a3cf4e"/><stop offset="0.857" stop-color="#9dcd4c"/><stop offset="1" stop-color="#97ca4b"/></linearGradient><linearGradient id="g134"><stop offset="0" stop-color="#f3f880"/><stop offset="0.05" stop-color="#e4ef7d"/><stop offset="0.107" stop-color="#d2e672"/><stop offset="0.16" stop-color="#c5e068"/><stop offset="0.214" stop-color="#bcdc60"/><stop offset="0.25" stop-color="#b7d95c"/><stop offset="0.286" stop-color="#b2d758"/><stop offset="0.321" stop-color="#afd554"/><stop offset="0.357" stop-color="#abd451"/><stop offset="0.393" stop-color="#a8d24f"/><stop offset="0.429" stop-color="#a6d14f"/><stop offset="0.5" stop-color="#a4d04e"/><stop offset="0.571" stop-color="#a5d14f"/><stop offset="0.714" stop-color="#a1cf4d"/><stop offset="0.857" stop-color="#9bcc4c"/><stop offset="1" stop-color="#96c94a"/></linearGradient><linearGradient id="g135"><stop offset="0" stop-color="#ecf380"/><stop offset="0.05" stop-color="#dbeb78"/><stop offset="0.107" stop-color="#cbe26d"/><stop offset="0.16" stop-color="#c0dd63"/><stop offset="0.214" stop-color="#b8d95c"/><stop offset="0.25" stop-color="#b3d758"/><stop offset="0.286" stop-color="#aed554"/><stop offset="0.321" stop-color="#abd351"/><stop offset="0.357" stop-color="#a8d250"/><stop offset="0.393" stop-color="#a6d14f"/><stop offset="0.429" stop-color="#a3d04e"/><stop offset="0.5" stop-color="#a2cf4e"/><stop offset="0.571" stop-color="#a3d04e"/><stop offset="0.714" stop-color="#9fce4d"/><stop offset="0.857" stop-color="#9acb4c"/><stop offset="1" stop-color="#95c94a"/></linearGradient><linearGradient id="g136"><stop offset="0" stop-color="#e5ef7d"/><stop offset="0.05" stop-color="#d4e773"/><stop offset="0.107" stop-color="#c5e068"/><stop offset="0.16" stop-color="#badb5f"/><stop offset="0.214" stop-color="#b3d758"/><stop offset="0.25" stop-color="#aed554"/><stop offset="0.286" stop-color="#aad350"/><stop offset="0.321" stop-color="#a8d24f"/><stop offset="0.357" stop-color="#a6d14f"/><stop offset="0.393" stop-color="#a3d04e"/><stop offset="0.429" stop-color="#a1cf4e"/><stop offset="0.5" stop-color="#a0ce4d"/><stop offset="0.571" stop-color="#a1cf4e"/><stop offset="0.714" stop-color="#9dcd4c"/><stop offset="0.857" stop-color="#99cb4b"/><stop offset="1" stop-color="#94c94a"/></linearGradient><linearGradient id="g137"><stop offset="0" stop-color="#deec79"/><stop offset="0.05" stop-color="#cde36f"/><stop offset="0.107" stop-color="#bfdd62"/><stop offset="0.16" stop-color="#b5d85a"/><stop offset="0.214" stop-color="#aed554"/><stop offset="0.25" stop-color="#aad350"/><stop offset="0.286" stop-color="#a7d24f"/><stop offset="0.321" stop-color="#a5d14f"/><stop offset="0.357" stop-color="#a3d04e"/><stop offset="0.393" stop-color="#a1cf4e"/><stop offset="0.429" stop-color="#9fce4d"/><stop offset="0.5" stop-color="#9ecd4d"/><stop offset="0.571" stop-color="#9fce4d"/><stop offset="0.714" stop-color="#9ccc4c"/><stop offset="0.857" stop-color="#98ca4b"/><stop offset="1" stop-color="#94c84a"/></linearGradient><linearGradient id="g138"><stop offset="0" stop-color="#d7e875"/><stop offset="0.05" stop-color="#c7e069"/><stop offset="0.107" stop-color="#b9da5e"/><stop offset="0.16" stop-color="#b1d656"/><stop offset="0.214" stop-color="#aad350"/><stop offset="0.25" stop-color="#a7d24f"/><stop offset="0.286" stop-color="#a5d04f"/><stop offset="0.321" stop-color="#a3d04e"/><stop offset="0.357" stop-color="#a1cf4e"/><stop offset="0.393" stop-color="#9fce4d"/><stop offset="0.429" stop-color="#9dcd4c"/><stop offset="0.5" stop-color="#9ccc4c"/><stop offset="0.571" stop-color="#9dcd4c"/><stop offset="0.714" stop-color="#9acb4c"/><stop offset="0.857" stop-color="#96ca4b"/><stop offset="1" stop-color="#93c84a"/></linearGradient><linearGradient id="g139"><stop offset="0" stop-color="#d0e571"/><stop offset="0.05" stop-color="#c0de64"/><stop offset="0.107" stop-color="#b4d859"/><stop offset="0.16" stop-color="#acd452"/><stop offset="0.214" stop-color="#a7d24f"/><stop offset="0.25" stop-color="#a4d04e"/><stop offset="0.286" stop-color="#a2cf4e"/><stop offset="0.321" stop-color="#a0ce4d"/><stop offset="0.357" stop-color="#9fce4d"/><stop offset="0.393" stop-color="#9dcd4c"/><stop offset="0.429" stop-color="#9ccc4c"/><stop offset="0.5" stop-color="#9bcc4c"/><stop offset="0.571" stop-color="#9bcc4c"/><stop offset="0.714" stop-color="#99cb4b"/><stop offset="0.857" stop-color="#95c94a"/><stop offset="1" stop-color="#92c849"/></linearGradient><linearGradient id="g140"><stop offset="0" stop-color="#c9e26c"/><stop offset="0.05" stop-color="#badb5f"/><stop offset="0.107" stop-color="#afd554"/><stop offset="0.16" stop-color="#a8d24f"/><stop offset="0.214" stop-color="#a4d04e"/><stop offset="0.25" stop-color="#a2cf4e"/><stop offset="0.286" stop-color="#a0ce4d"/><stop offset="0.321" stop-color="#9ecd4d"/><stop offset="0.357" stop-color="#9dcd4c"/><stop offset="0.393" stop-color="#9bcc4c"/><stop offset="0.429" stop-color="#9acb4c"/><stop offset="0.5" stop-color="#99cb4b"/><stop offset="0.571" stop-color="#9acb4c"/><stop offset="0.714" stop-color="#97ca4b"/><stop offset="0.857" stop-color="#94c94a"/><stop offset="1" stop-color="#92c749"/></linearGradient><linearGradient id="g141"><stop offset="0" stop-color="#c3df66"/><stop offset="0.05" stop-color="#b5d859"/><stop offset="0.107" stop-color="#aad350"/><stop offset="0.16" stop-color="#a5d14f"/><stop offset="0.214" stop-color="#a1cf4e"/><stop offset="0.25" stop-color="#9fce4d"/><stop offset="0.286" stop-color="#9ecd4d"/><stop offset="0.321" stop-color="#9ccc4c"/><stop offset="0.357" stop-color="#9bcc4c"/><stop offset="0.393" stop-color="#9acb4b"/><stop offset="0.429" stop-color="#98cb4b"/><stop offset="0.5" stop-color="#98ca4b"/><stop offset="0.571" stop-color="#98ca4b"/><stop offset="0.714" stop-color="#96c94b"/><stop offset="0.857" stop-color="#94c84a"/><stop offset="1" stop-color="#91c749"/></linearGradient><linearGradient id="g142"><stop offset="0" stop-color="#bcdc60"/><stop offset="0.05" stop-color="#afd554"/><stop offset="0.107" stop-color="#a7d14f"/><stop offset="0.16" stop-color="#a2cf4e"/><stop offset="0.214" stop-color="#9fce4d"/><stop offset="0.25" stop-color="#9dcd4c"/><stop offset="0.286" stop-color="#9ccc4c"/><stop offset="0.321" stop-color="#9acb4c"/><stop offset="0.357" stop-color="#99cb4b"/><stop offset="0.393" stop-color="#98ca4b"/><stop offset="0.429" stop-color="#97ca4b"/><stop offset="0.5" stop-color="#96ca4b"/><stop offset="0.571" stop-color="#97ca4b"/><stop offset="0.714" stop-color="#95c94a"/><stop offset="0.857" stop-color="#93c84a"/><stop offset="1" stop-color="#91c749"/></linearGradient><linearGradient id="g143"><stop offset="0" stop-color="#b6d85a"/><stop offset="0.05" stop-color="#aad350"/><stop offset="0.107" stop-color="#a3d04e"/><stop offset="0.16" stop-color="#9fce4d"/><stop offset="0.214" stop-color="#9dcd4c"/><stop offset="0.25" stop-color="#9bcc4c"/><stop offset="0.286" stop-color="#9acb4c"/><stop offset="0.321" stop-color="#99cb4b"/><stop offset="0.357" stop-color="#98ca4b"/><stop offset="0.393" stop-color="#97ca4b"/><stop offset="0.429" stop-color="#96c94a"/><stop offset="0.5" stop-color="#95c94a"/><stop offset="0.571" stop-color="#96c94a"/><stop offset="0.714" stop-color="#94c84a"/><stop offset="0.857" stop-color="#92c749"/><stop offset="1" stop-color="#90c749"/></linearGradient><linearGradient id="g144"><stop offset="0" stop-color="#afd655"/><stop offset="0.05" stop-color="#a6d14f"/><stop offset="0.107" stop-color="#a0ce4d"/><stop offset="0.16" stop-color="#9dcd4c"/><stop offset="0.214" stop-color="#9bcc4c"/><stop offset="0.25" stop-color="#99cb4b"/><stop offset="0.286" stop-color="#98ca4b"/><stop offset="0.321" stop-color="#97ca4b"/><stop offset="0.357" stop-color="#96ca4b"/><stop offset="0.393" stop-color="#95c94a"/><stop offset="0.429" stop-color="#95c94a"/><stop offset="0.5" stop-color="#94c84a"/><stop offset="0.571" stop-color="#95c94a"/><stop offset="0.714" stop-color="#93c84a"/><stop offset="0.857" stop-color="#91c749"/><stop offset="1" stop-color="#90c649"/></linearGradient><linearGradient id="g145"><stop offset="0" stop-color="#aad350"/><stop offset="0.05" stop-color="#a3cf4e"/><stop offset="0.107" stop-color="#9ecd4d"/><stop offset="0.16" stop-color="#9bcc4c"/><stop offset="0.214" stop-color="#99cb4b"/><stop offset="0.25" stop-color="#98ca4b"/><stop offset="0.286" stop-color="#97ca4b"/><stop offset="0.321" stop-color="#96c94a"/><stop offset="0.357" stop-color="#95c94a"/><stop offset="0.393" stop-color="#94c94a"/><stop offset="0.429" stop-color="#94c84a"/><stop offset="0.5" stop-color="#93c84a"/><stop offset="0.571" stop-color="#94c84a"/><stop offset="0.714" stop-color="#92c849"/><stop offset="0.857" stop-color="#91c749"/><stop offset="1" stop-color="#8fc649"/></linearGradient><linearGradient id="g146"><stop offset="0" stop-color="#a6d14f"/><stop offset="0.05" stop-color="#a0ce4d"/><stop offset="0.107" stop-color="#9bcc4c"/><stop offset="0.16" stop-color="#99cb4b"/><stop offset="0.214" stop-color="#97ca4b"/><stop offset="0.25" stop-color="#96c94b"/><stop offset="0.286" stop-color="#95c94a"/><stop offset="0.321" stop-color="#95c94a"/><stop offset="0.357" stop-color="#94c84a"/><stop offset="0.393" stop-color="#93c84a"/><stop offset="0.429" stop-color="#93c84a"/><stop offset="0.5" stop-color="#92c849"/><stop offset="0.571" stop-color="#93c84a"/><stop offset="0.714" stop-color="#92c749"/><stop offset="0.857" stop-color="#90c749"/><stop offset="1" stop-color="#8fc649"/></linearGradient><linearGradient id="g147"><stop offset="0" stop-color="#a2cf4e"/><stop offset="0.05" stop-color="#9dcd4c"/><stop offset="0.107" stop-color="#99cb4b"/><stop offset="0.16" stop-color="#97ca4b"/><stop offset="0.214" stop-color="#96c94a"/><stop offset="0.25" stop-color="#95c94a"/><stop offset="0.286" stop-color="#94c84a"/><stop offset="0.321" stop-color="#93c84a"/><stop offset="0.357" stop-color="#93c84a"/><stop offset="0.393" stop-color="#92c849"/><stop offset="0.429" stop-color="#92c749"/><stop offset="0.5" stop-color="#92c749"/><stop offset="0.571" stop-color="#92c749"/><stop offset="0.714" stop-color="#91c749"/><stop offset="0.857" stop-color="#90c649"/><stop offset="1" stop-color="#8fc649"/></linearGradient><linearGradient id="g148"><stop offset="0" stop-color="#9fcd4d"/><stop offset="0.05" stop-color="#9acb4c"/><stop offset="0.107" stop-color="#97ca4b"/><stop offset="0.16" stop-color="#95c94a"/><stop offset="0.214" stop-color="#94c94a"/><stop offset="0.25" stop-color="#94c84a"/><stop offset="0.286" stop-color="#93c84a"/><stop offset="0.321" stop-color="#93c84a"/><stop offset="0.357" stop-color="#92c749"/><stop offset="0.393" stop-color="#92c749"/><stop offset="0.429" stop-color="#91c749"/><stop offset="0.5" stop-color="#91c749"/><stop offset="0.571" stop-color="#91c749"/><stop offset="0.714" stop-color="#90c749"/><stop offset="0.857" stop-color="#90c649"/><stop offset="1" stop-color="#8fc648"/></linearGradient><linearGradient id="g149"><stop offset="0" stop-color="#9ccc4c"/><stop offset="0.05" stop-color="#98ca4b"/><stop offset="0.107" stop-color="#96c94a"/><stop offset="0.16" stop-color="#94c84a"/><stop offset="0.214" stop-color="#93c84a"/><stop offset="0.25" stop-color="#93c84a"/><stop offset="0.286" stop-color="#92c749"/><stop offset="0.321" stop-color="#92c749"/><stop offset="0.357" stop-color="#91c749"/><stop offset="0.393" stop-color="#91c749"/><stop offset="0.429" stop-color="#91c749"/><stop offset="0.5" stop-color="#90c749"/><stop offset="0.571" stop-color="#91c749"/><stop offset="0.714" stop-color="#90c649"/><stop offset="0.857" stop-color="#8fc649"/><stop offset="1" stop-color="#8ec648"/></linearGradient><linearGradient id="g150"><stop offset="0" stop-color="#9ccc4c"/><stop offset="0.05" stop-color="#98ca4b"/><stop offset="0.107" stop-color="#96c94a"/><stop offset="0.16" stop-color="#94c84a"/><stop offset="0.214" stop-color="#93c84a"/><stop offset="0.25" stop-color="#93c84a"/><stop offset="0.286" stop-color="#92c749"/><stop offset="0.321" stop-color="#92c749"/><stop offset="0.357" stop-color="#91c749"/><stop offset="0.393" stop-color="#91c749"/><stop offset="0.429" stop-color="#91c749"/><stop offset="0.5" stop-color="#90c749"/><stop offset="0.571" stop-color="#91c749"/><stop offset="0.714" stop-color="#90c649"/><stop offset="0.857" stop-color="#8fc649"/><stop offset="1" stop-color="#8ec648"/></linearGradient><linearGradient id="g151"><stop offset="0" stop-color="#9ccc4c"/><stop offset="0.05" stop-color="#98ca4b"/><stop offset="0.107" stop-color="#96c94a"/><stop offset="0.16" stop-color="#94c84a"/><stop offset="0.214" stop-color="#93c84a"/><stop offset="0.25" stop-color="#93c84a"/><stop offset="0.286" stop-color="#92c749"/><stop offset="0.321" stop-color="#92c749"/><stop offset="0.357" stop-color="#91c749"/><stop offset="0.393" stop-color="#91c749"/><stop offset="0.429" stop-color="#91c749"/><stop offset="0.5" stop-color="#90c749"/><stop offset="0.571" stop-color="#91c749"/><stop offset="0.714" stop-color="#90c649"/><stop offset="0.857" stop-color="#8fc649"/><stop offset="1" stop-color="#8ec648"/></linearGradient><clipPath id="cg"><rect x="1520.4" y="661" width="282.3" height="368.6"/></clipPath><filter id="bg" x="-5%" y="-5%" width="110%" height="110%"><feGaussianBlur stdDeviation="0.6 1.3"/></filter><linearGradient id="cbar" x1="0" y1="0" x2="0" y2="1"><stop offset="0" stop-color="#000080"/><stop offset="0.025" stop-color="#0d1585"/><stop offset="0.05" stop-color="#1a2a89"/><stop offset="0.075" stop-color="#293e90"/><stop offset="0.1" stop-color="#385297"/><stop offset="0.125" stop-color="#44659f"/><stop offset="0.15" stop-color="#5078a8"/><stop offset="0.175" stop-color="#5884ad"/><stop offset="0.2" stop-color="#6293b4"/><stop offset="0.225" stop-color="#6fa5bb"/><stop offset="0.25" stop-color="#85bfc1"/><stop offset="0.275" stop-color="#8ac4b6"/><stop offset="0.3" stop-color="#8ac1a7"/><stop offset="0.325" stop-color="#8abf99"/><stop offset="0.35" stop-color="#8abe8a"/><stop offset="0.375" stop-color="#8abe7a"/><stop offset="0.4" stop-color="#8abf6d"/><stop offset="0.425" stop-color="#8ac262"/><stop offset="0.45" stop-color="#8bc358"/><stop offset="0.475" stop-color="#8cc450"/><stop offset="0.5" stop-color="#8dc548"/><stop offset="0.525" stop-color="#97ca4b"/><stop offset="0.55" stop-color="#a0ce4d"/><stop offset="0.575" stop-color="#aad350"/><stop offset="0.6" stop-color="#b7d95c"/><stop offset="0.625" stop-color="#c4df67"/><stop offset="0.65" stop-color="#d2e672"/><stop offset="0.675" stop-color="#e0ed7a"/><stop offset="0.7" stop-color="#edf480"/><stop offset="0.725" stop-color="#f7fa80"/><stop offset="0.75" stop-color="#fdfa7f"/><stop offset="0.775" stop-color="#f6e57a"/><stop offset="0.8" stop-color="#eace71"/><stop offset="0.825" stop-color="#d9b867"/><stop offset="0.85" stop-color="#c7a561"/><stop offset="0.875" stop-color="#b5915a"/><stop offset="0.9" stop-color="#a47d53"/><stop offset="0.925" stop-color="#94694b"/><stop offset="0.95" stop-color="#845443"/><stop offset="0.975" stop-color="#773f39"/><stop offset="1" stop-color="#6a2a2e"/></linearGradient></defs>
<rect width="2024" height="1111" fill="#fff"/>
<polygon points="94.1,136.6 98.7,136.4 102.5,137.4 109,134.7 114.5,134.5 121.5,132 125.9,133.4 132.4,133.1 137.3,132 144.3,128.2 147.1,128.8 155.2,132.3 160.7,132.8 166.1,132.3 171,134.5 179.7,128.5 184.6,128.5 190.5,123 195,120.6 201.7,115 208.5,103.7 215.2,93.6 222,82.4 227.6,73.4 233.2,57.6 237.7,45.2 241.1,36.2 243.6,34.2 246.7,38.5 249,47.5 252.4,61 255.7,75.6 259.1,89.1 262.5,101.5 265,112.2 267.5,121.4 267.5,122 263.6,122.9 256.9,124 245.6,122.3 234.4,124 223.1,126.2 211.9,133 200,134.3 193.3,135.5 185.1,138.3 177,139.3 172.6,141.5 166.1,141 157.9,142.1 150.9,139.3 147.1,138.3 138.9,141.3 136.2,141 131.3,138.5 124.8,138.3 117.2,136.6 109,137.4 102.5,137.4 94.1,138.3" fill="#b4d8fa" stroke="none" />
<polygon points="390.3,358.9 392.9,359.1 401,360.5 410.5,355.8 434.8,353.7 444.2,355.1 457.7,354.4 471.2,355.8 484.7,355.8 496.2,352.3 507,351.2 517.8,347.4 523.2,347.4 528.6,348.5 536.7,346.3 544.8,345.2 550.2,343.1 561,337.1 569.2,336.1 569.2,338.2 555.6,343.1 547.5,345.8 534,347.4 525.9,350.1 517.8,350.6 507,352.6 496.2,352.8 484.7,356.4 472.6,360.5 461.8,361.8 453.7,364.5 445.6,371.3 437.5,375.3 430.7,382.1 424,392.9 418.6,402.3 413.2,407.7 409.1,408.4 403.7,401 399.7,390.2 396.3,378 392.9,363.2 390.3,355.3" fill="#b4d8fa" stroke="none" />
<polygon points="94.1,156.2 99.8,156.2 109,158.9 117.2,156.2 125.3,152.9 132.4,152.9 138.9,149.7 144.3,148 149.8,144.8 157.9,143.2 166.1,141.5 172.6,142.1 179.7,138.3 185.1,137.7 193.3,133.9 195,133 200,132.5 206.2,130.7 211.9,133 219.7,127.4 226.5,120.6 232.1,115 237.7,107.1 243.4,97 247.3,92.5 251.2,94.7 254.6,101.5 258,110.5 261.4,121.7 265,130.5 266.8,135.5 266.8,136.8 262.5,137.5 251.2,135.8 240,136.9 228.7,136.4 217.5,138.6 206.2,142.5 195,139.7 187.8,140.4 179.7,140.2 172.6,143.2 166.1,142.9 157.9,144.6 149.8,146.3 144.3,149.3 138.9,151 132.4,154.3 125.3,154.3 117.2,157.8 109,160.3 99.8,157.8 94.1,157.8" fill="#fdb6ba" stroke="none" />
<polygon points="394.5,380.8 403.7,381.4 430.7,375.3 437.5,374 446.9,370 457.7,363.2 471.2,359.1 484.7,355.1 496.2,352.5 504.3,352.3 512.4,354.4 534,353.9 547.5,352.8 555.6,352.3 569.2,350.6 569.2,352.3 555.6,353.9 544.8,360.4 528.6,363.3 512.4,360.4 498.9,362 488.1,360.9 480,365.2 472.6,370 464.5,378 456.4,390.2 448.3,403.7 440.2,415.8 434.8,423.9 428,444.2 422.6,460.4 418.6,463.1 413.2,453.6 409.1,438.8 405.1,422.6 401,406.4 397,390.2 394.5,382" fill="#fdb6ba" stroke="none" />
<g clip-path="url(#cpb)"><polygon points="94.1,156.2 99.8,156.2 109,158.9 117.2,156.2 125.3,152.9 132.4,152.9 138.9,149.7 144.3,148 149.8,144.8 157.9,143.2 166.1,141.5 172.6,142.1 179.7,138.3 185.1,137.7 193.3,133.9 195,133 200,132.5 206.2,130.7 211.9,133 219.7,127.4 226.5,120.6 232.1,115 237.7,107.1 243.4,97 247.3,92.5 251.2,94.7 254.6,101.5 258,110.5 261.4,121.7 265,130.5 266.8,135.5 266.8,136.8 262.5,137.5 251.2,135.8 240,136.9 228.7,136.4 217.5,138.6 206.2,142.5 195,139.7 187.8,140.4 179.7,140.2 172.6,143.2 166.1,142.9 157.9,144.6 149.8,146.3 144.3,149.3 138.9,151 132.4,154.3 125.3,154.3 117.2,157.8 109,160.3 99.8,157.8 94.1,157.8" fill="#d8a4b8"/><polygon points="394.5,380.8 403.7,381.4 430.7,375.3 437.5,374 446.9,370 457.7,363.2 471.2,359.1 484.7,355.1 496.2,352.5 504.3,352.3 512.4,354.4 534,353.9 547.5,352.8 555.6,352.3 569.2,350.6 569.2,352.3 555.6,353.9 544.8,360.4 528.6,363.3 512.4,360.4 498.9,362 488.1,360.9 480,365.2 472.6,370 464.5,378 456.4,390.2 448.3,403.7 440.2,415.8 434.8,423.9 428,444.2 422.6,460.4 418.6,463.1 413.2,453.6 409.1,438.8 405.1,422.6 401,406.4 397,390.2 394.5,382" fill="#d8a4b8"/></g>
<line x1="325.4" y1="18" x2="325.4" y2="506" stroke="#0a3f8a" stroke-width="1.9" stroke-dasharray="0.01 4.14" stroke-linecap="round"/>
<line x1="335.2" y1="18" x2="335.2" y2="506" stroke="#e01010" stroke-width="1.9" stroke-dasharray="0.01 4.14" stroke-linecap="round"/>
<line x1="96" y1="245.7" x2="568" y2="245.7" stroke="#2a5ea8" stroke-width="1.9" stroke-dasharray="0.01 4.14" stroke-linecap="round"/>
<line x1="96" y1="273" x2="568" y2="273" stroke="#e82020" stroke-width="1.9" stroke-dasharray="0.01 4.14" stroke-linecap="round"/>
<polyline points="569.2,336.1 561,337.1 550.2,343.1 544.8,345.2 536.7,346.3 528.6,348.5 523.2,347.4 517.8,347.4 507,351.2 496.2,352.3 484.7,355.8 471.2,355.8 457.7,354.4 444.2,355.1 434.8,353.7 410.5,355.8 401,360.5 392.9,359.1 386.2,358.5 378.1,360.5 374.2,361.1 367,364.4 355.5,362.5 349.7,359.6 341.1,356 333.9,350.3 326.7,338.8 320.9,324.4 316.6,308.5 313.7,289.8 310.8,268.2 308,246.6 304.4,225 303.4,215.9 301.7,205.1 299.6,194.3 296.3,181.3 292,167.3 287.7,158.6 282.3,152.1 276.9,143.5 272.6,134.8 268.2,124 265,112.2 262.5,101.5 259.1,89.1 255.7,75.6 252.4,61 249,47.5 246.7,38.5 243.6,34.2 241.1,36.2 237.7,45.2 233.2,57.6 227.6,73.4 222,82.4 215.2,93.6 208.5,103.7 201.7,115 195,120.6 190.5,123 184.6,128.5 179.7,128.5 171,134.5 166.1,132.3 160.7,132.8 155.2,132.3 147.1,128.8 144.3,128.2 137.3,132 132.4,133.1 125.9,133.4 121.5,132 114.5,134.5 109,134.7 102.5,137.4 98.7,136.4 94.1,136.6" fill="none" stroke="#3a72b4" stroke-width="1.1" stroke-linejoin="round" />
<polyline points="94.1,138.3 102.5,137.4 109,137.4 117.2,136.6 124.8,138.3 131.3,138.5 136.2,141 138.9,141.3 147.1,138.3 150.9,139.3 157.9,142.1 166.1,141 172.6,141.5 177,139.3 185.1,138.3 193.3,135.5 200,134.3 211.9,133 223.1,126.2 234.4,124 245.6,122.3 256.9,124 263.6,122.9 272.6,120.8 279,123 286.6,124 311.5,125.1 315.8,129.4 320.1,135.9 324.4,142.4 327.7,151.1 330.9,160.8 333.1,170.5 335.2,183.5 337.4,196.4 339.5,212.6 341.2,230 344,253.8 348.3,275.4 354,297 359.8,308.5 369.9,318.6 377.1,327.2 383.5,337.5 388.9,351 392.9,363.2 396.3,378 399.7,390.2 403.7,401 409.1,408.4 413.2,407.7 418.6,402.3 424,392.9 430.7,382.1 437.5,375.3 445.6,371.3 453.7,364.5 461.8,361.8 472.6,360.5 484.7,356.4 496.2,352.8 507,352.6 517.8,350.6 525.9,350.1 534,347.4 547.5,345.8 555.6,343.1 569.2,338.2" fill="none" stroke="#3a72b4" stroke-width="1.1" stroke-linejoin="round" />
<polyline points="569.2,350.6 555.6,352.3 547.5,352.8 534,353.9 512.4,354.4 504.3,352.3 496.2,352.5 484.7,355.1 471.2,359.1 457.7,363.2 446.9,370 437.5,374 430.7,375.3 403.7,381.4 392.9,380.7 383.5,379.4 370,380.6 354,379.8 345.4,373.3 336.8,363.2 329.6,347.4 323.8,322.9 318.8,297 315.2,272.5 310.8,246.6 307.2,225 306,218 302.8,211.6 295.3,200.8 289.8,187.8 284.4,174.8 279,164 273.6,153.2 269.3,142.4 265,130.5 261.4,121.7 258,110.5 254.6,101.5 251.2,94.7 247.3,92.5 243.4,97 237.7,107.1 232.1,115 226.5,120.6 219.7,127.4 211.9,133 206.2,130.7 200,132.5 195,133 193.3,133.9 185.1,137.7 179.7,138.3 172.6,142.1 166.1,141.5 157.9,143.2 149.8,144.8 144.3,148 138.9,149.7 132.4,152.9 125.3,152.9 117.2,156.2 109,158.9 99.8,156.2 94.1,156.2" fill="none" stroke="#e8404a" stroke-width="1.1" stroke-linejoin="round" />
<polyline points="94.1,157.8 99.8,157.8 109,160.3 117.2,157.8 125.3,154.3 132.4,154.3 138.9,151 144.3,149.3 149.8,146.3 157.9,144.6 166.1,142.9 172.6,143.2 179.7,140.2 187.8,140.4 195,139.7 206.2,142.5 217.5,138.6 228.7,136.4 240,136.9 251.2,135.8 262.5,137.5 273.7,135.8 282.3,134.3 293.1,136.5 320.1,143 324.4,148.9 329.8,154.3 334.1,164 336.3,172.7 339.5,185.6 341.7,198.6 343.9,212.6 345.5,230 348.3,253.8 352.6,282.6 358.4,305.6 364.1,322.9 371.3,335.9 378.1,347 386.2,363.2 392.9,376.7 397,390.2 401,406.4 405.1,422.6 409.1,438.8 413.2,453.6 418.6,463.1 422.6,460.4 428,444.2 434.8,423.9 440.2,415.8 448.3,403.7 456.4,390.2 464.5,378 472.6,370 480,365.2 488.1,360.9 498.9,362 512.4,360.4 528.6,363.3 544.8,360.4 555.6,353.9 569.2,352.3" fill="none" stroke="#e8404a" stroke-width="1.1" stroke-linejoin="round" />
<line x1="325.4" y1="235" x2="325.4" y2="257" stroke="#0a3f8a" stroke-width="2.4" />
<line x1="319" y1="245.7" x2="332" y2="245.7" stroke="#0a3f8a" stroke-width="2.4" />
<line x1="335.3" y1="262" x2="335.3" y2="284" stroke="#e01010" stroke-width="2.4" />
<line x1="329" y1="273" x2="342" y2="273" stroke="#e01010" stroke-width="2.4" />
<rect x="94" y="16.5" width="475.3" height="490.7" fill="none" stroke="#555" stroke-width="1.3"/>
<line x1="86.5" y1="475.2" x2="94" y2="475.2" stroke="#555" stroke-width="1.3" />
<text x="76" y="484.1" font-size="25" text-anchor="end" fill="#000" >–2</text>
<line x1="86.5" y1="368.6" x2="94" y2="368.6" stroke="#555" stroke-width="1.3" />
<text x="76" y="377.5" font-size="25" text-anchor="end" fill="#000" >–1</text>
<line x1="86.5" y1="262" x2="94" y2="262" stroke="#555" stroke-width="1.3" />
<text x="76" y="270.9" font-size="25" text-anchor="end" fill="#000" >0</text>
<line x1="86.5" y1="155.4" x2="94" y2="155.4" stroke="#555" stroke-width="1.3" />
<text x="76" y="164.3" font-size="25" text-anchor="end" fill="#000" >1</text>
<line x1="86.5" y1="48.8" x2="94" y2="48.8" stroke="#555" stroke-width="1.3" />
<text x="76" y="57.7" font-size="25" text-anchor="end" fill="#000" >2</text>
<line x1="89.5" y1="421.9" x2="94" y2="421.9" stroke="#555" stroke-width="1.3" />
<line x1="89.5" y1="315.3" x2="94" y2="315.3" stroke="#555" stroke-width="1.3" />
<line x1="89.5" y1="208.7" x2="94" y2="208.7" stroke="#555" stroke-width="1.3" />
<line x1="89.5" y1="102.1" x2="94" y2="102.1" stroke="#555" stroke-width="1.3" />
<line x1="94" y1="507.2" x2="94" y2="514.2" stroke="#555" stroke-width="1.3" />
<text x="93" y="544.3" font-size="25" text-anchor="middle" fill="#000" >–2</text>
<line x1="212.8" y1="507.2" x2="212.8" y2="514.2" stroke="#555" stroke-width="1.3" />
<text x="211.8" y="544.3" font-size="25" text-anchor="middle" fill="#000" >–1</text>
<line x1="331.5" y1="507.2" x2="331.5" y2="514.2" stroke="#555" stroke-width="1.3" />
<text x="331.5" y="544.3" font-size="25" text-anchor="middle" fill="#000" >0</text>
<line x1="450.2" y1="507.2" x2="450.2" y2="514.2" stroke="#555" stroke-width="1.3" />
<text x="450.2" y="544.3" font-size="25" text-anchor="middle" fill="#000" >1</text>
<line x1="569" y1="507.2" x2="569" y2="514.2" stroke="#555" stroke-width="1.3" />
<text x="569" y="544.3" font-size="25" text-anchor="middle" fill="#000" >2</text>
<text x="21" y="262" font-size="24" text-anchor="middle" fill="#000" transform="rotate(-90 21 262)"><tspan font-style="italic">R</tspan><tspan font-style="italic" font-size="19" dy="7">xy</tspan><tspan dy="-7"> (</tspan><tspan font-family="Liberation Serif, serif">Ω</tspan>)</text>
<text x="333" y="585" font-size="24" text-anchor="middle" fill="#000" ><tspan font-style="italic">B</tspan><tspan font-style="italic" font-size="19" dy="6">z</tspan><tspan dy="-6"> (T)</tspan></text>
<text x="0" y="30" font-size="40" text-anchor="start" fill="#000" font-weight="bold">a</text>
<text x="165" y="53.7" font-size="20.3" text-anchor="middle" fill="#003f87" >(Positive FC)</text>
<text x="163.5" y="78.7" font-size="20.3" text-anchor="middle" fill="#003f87" >–60 mT</text>
<text x="497" y="444.5" font-size="20" text-anchor="middle" fill="#e0101a" >+ 60 mT</text>
<text x="497" y="468" font-size="20" text-anchor="middle" fill="#e0101a" >(Negative FC)</text>
<path d="M229.9,54.2 L228.7,73.4 L239.4,57.1" fill="none" stroke="#0b3d7e" stroke-width="2.3" stroke-linejoin="miter" stroke-linecap="butt"/>
<path d="M236.6,99.2 L232.7,117.2 L245.6,104.3" fill="none" stroke="#e00010" stroke-width="2.3" stroke-linejoin="miter" stroke-linecap="butt"/>
<path d="M293.6,120.3 L311.5,125.1 L293.6,129.4 M286,124 L311.5,125.1" fill="none" stroke="#0b3d7e" stroke-width="2.3" stroke-linejoin="miter" stroke-linecap="butt"/>
<path d="M303.9,134.3 L320.1,143 L301.7,144.4 M294.2,137 L320.1,143" fill="none" stroke="#e00010" stroke-width="2.3" stroke-linejoin="miter" stroke-linecap="butt"/>
<path d="M428.7,348.3 L410.5,353.7 L428.7,357.8 M433.4,353 L410.5,353.7" fill="none" stroke="#0b3d7e" stroke-width="2.3" stroke-linejoin="miter" stroke-linecap="butt"/>
<path d="M421.3,373.3 L403.7,381.4 L422.6,382.1 M425.3,376.7 L403.7,381.4" fill="none" stroke="#e00010" stroke-width="2.3" stroke-linejoin="miter" stroke-linecap="butt"/>
<path d="M414.5,398.3 L428,385.5 L423.3,403 M415.9,405 L428,385.5" fill="none" stroke="#0b3d7e" stroke-width="2.3" stroke-linejoin="miter" stroke-linecap="butt"/>
<path d="M424.7,442.8 L435.5,426.6 L433.4,446.2 M424,456.3 L435.5,426.6" fill="none" stroke="#e00010" stroke-width="2.3" stroke-linejoin="miter" stroke-linecap="butt"/>
<line x1="170" y1="107.1" x2="187.8" y2="107.1" stroke="#5a80b0" stroke-width="1.4"/>
<path d="M158.9,107.2 L174.6,101.3 L170,107.1 L174.6,112.7Z" fill="#003f87"/>
<line x1="457.1" y1="404.4" x2="474" y2="404.4" stroke="#e02020" stroke-width="1.4"/>
<path d="M484.1,404.4 L468.4,398.6 L473,404.4 L468.4,410.2Z" fill="#e00010"/>
<polyline points="776.4,169.7 801.6,171 826.8,173.5 842,176 850,178.2 867.8,194.5 879.7,218.3 894.5,254 909.4,268.8 918.3,289.6 927.2,319.3 936.1,346 945,360.9 954,366.8 980,370 1032,370" fill="none" stroke="#f0198c" stroke-width="1.3" stroke-linejoin="round" stroke-dasharray="0.1 5.8" stroke-linecap="round" opacity="0.75"/>
<polyline points="710,170 776,171 826,174 850,185.6 870.8,209.4 878.2,233.2 882.7,262.9 888.6,298.5 897.5,322.3 909.4,352 918.3,381.7 924.3,405.4 929.6,412.8 939.1,396.5 951,381.7 962.9,371.3 974.7,369.8" fill="none" stroke="#2a9a2a" stroke-width="1.3" stroke-linejoin="round" stroke-dasharray="0.1 5.8" stroke-linecap="round" opacity="0.75"/>
<polyline points="710.4,168 738.6,165.9 776.4,166.4 791.5,168.4 801.6,173.5 807.9,183.6 814.2,206.2 821.8,236.5 828.1,256.7 833.1,270.5 839.4,275.6 848.2,281.9 855.3,289 858.9,307.4 863.4,323.7 869.3,332.7 873.8,343 885.6,356.4 909.4,362.4 939.1,367.7 968.8,370.4 998.5,371.3 1032.7,369.8" fill="none" stroke="#f0198c" stroke-width="1.2" stroke-linejoin="round" />
<polyline points="710.4,168.4 726,169.7 751.2,168.4 763.8,166.4 776.4,165.9 786.5,160.9 796.6,152 801.6,147 809.2,130.6 814.7,125.1 819.3,130.6 824.3,155.8 831.9,188.6 839.4,203.7 849.5,223.9 856,239 860.4,268.8 864.9,304.4 869.3,328.2 873.8,341.6 879.7,349 888.6,357.9 897.5,359.4 909.4,363.2 924.3,366.2 939.1,368.3 954,369.2 968.8,369.8 983.6,370.7 989.6,368.9 1004.4,368.9 1032.7,367.7" fill="none" stroke="#1a8a1a" stroke-width="1.2" stroke-linejoin="round" />
<line x1="871.6" y1="73.2" x2="871.6" y2="464.8" stroke="#000" stroke-width="1.3" />
<line x1="710.4" y1="269.2" x2="1032.7" y2="269.2" stroke="#000" stroke-width="1.3" />
<line x1="710.4" y1="73.2" x2="1032.7" y2="73.2" stroke="#000" stroke-width="1.3" />
<line x1="710.4" y1="464.8" x2="1032.7" y2="464.8" stroke="#000" stroke-width="1.3" />
<line x1="710.4" y1="73.2" x2="710.4" y2="464.8" stroke="#f0198c" stroke-width="1.3" />
<line x1="1032.7" y1="73.2" x2="1032.7" y2="464.8" stroke="#78c878" stroke-width="1.3" />
<line x1="704" y1="465.2" x2="710.4" y2="465.2" stroke="#f0198c" stroke-width="1.3" />
<text x="693.5" y="474.1" font-size="25" text-anchor="end" fill="#f0198c" >–2</text>
<line x1="704" y1="367.2" x2="710.4" y2="367.2" stroke="#f0198c" stroke-width="1.3" />
<text x="693.5" y="376.1" font-size="25" text-anchor="end" fill="#f0198c" >–1</text>
<line x1="704" y1="269.2" x2="710.4" y2="269.2" stroke="#f0198c" stroke-width="1.3" />
<text x="693.5" y="278.1" font-size="25" text-anchor="end" fill="#f0198c" >0</text>
<line x1="704" y1="171.2" x2="710.4" y2="171.2" stroke="#f0198c" stroke-width="1.3" />
<text x="693.5" y="180.1" font-size="25" text-anchor="end" fill="#f0198c" >1</text>
<line x1="704" y1="73.2" x2="710.4" y2="73.2" stroke="#f0198c" stroke-width="1.3" />
<text x="693.5" y="82.1" font-size="25" text-anchor="end" fill="#f0198c" >2</text>
<line x1="707" y1="416.2" x2="710.4" y2="416.2" stroke="#f0198c" stroke-width="1.3" />
<line x1="707" y1="318.2" x2="710.4" y2="318.2" stroke="#f0198c" stroke-width="1.3" />
<line x1="707" y1="220.2" x2="710.4" y2="220.2" stroke="#f0198c" stroke-width="1.3" />
<line x1="707" y1="122.2" x2="710.4" y2="122.2" stroke="#f0198c" stroke-width="1.3" />
<line x1="1032.7" y1="426" x2="1039" y2="426" stroke="#78c878" stroke-width="1.3" />
<text x="1048.5" y="434.9" font-size="25" text-anchor="start" fill="#1a8a1a" >–2</text>
<line x1="1032.7" y1="269.2" x2="1039" y2="269.2" stroke="#78c878" stroke-width="1.3" />
<text x="1048.5" y="278.1" font-size="25" text-anchor="start" fill="#1a8a1a" >0</text>
<line x1="1032.7" y1="112.4" x2="1039" y2="112.4" stroke="#78c878" stroke-width="1.3" />
<text x="1048.5" y="121.3" font-size="25" text-anchor="start" fill="#1a8a1a" >2</text>
<line x1="1032.7" y1="347.6" x2="1036" y2="347.6" stroke="#78c878" stroke-width="1.3" />
<line x1="1032.7" y1="190.8" x2="1036" y2="190.8" stroke="#78c878" stroke-width="1.3" />
<line x1="710.5" y1="464.8" x2="710.5" y2="471.5" stroke="#000" stroke-width="1.3" />
<text x="709.5" y="502" font-size="25" text-anchor="middle" fill="#000" >–2</text>
<line x1="791.1" y1="464.8" x2="791.1" y2="471.5" stroke="#000" stroke-width="1.3" />
<text x="790.1" y="502" font-size="25" text-anchor="middle" fill="#000" >–1</text>
<line x1="871.6" y1="464.8" x2="871.6" y2="471.5" stroke="#000" stroke-width="1.3" />
<text x="871.6" y="502" font-size="25" text-anchor="middle" fill="#000" >0</text>
<line x1="952.1" y1="464.8" x2="952.1" y2="471.5" stroke="#000" stroke-width="1.3" />
<text x="952.1" y="502" font-size="25" text-anchor="middle" fill="#000" >1</text>
<line x1="1032.7" y1="464.8" x2="1032.7" y2="471.5" stroke="#000" stroke-width="1.3" />
<text x="1032.7" y="502" font-size="25" text-anchor="middle" fill="#000" >2</text>
<text x="872" y="546" font-size="24" text-anchor="middle" fill="#000" ><tspan font-style="italic">B</tspan><tspan font-style="italic" font-size="19" dy="6">z</tspan><tspan dy="-6"> (T)</tspan></text>
<text x="974" y="123" font-size="24" text-anchor="middle" fill="#1a8a1a" >ZFC</text>
<text x="616" y="30" font-size="40" text-anchor="start" fill="#000" font-weight="bold">b</text>
<text x="1116" y="269" font-size="25" text-anchor="middle" fill="#1a8a1a" transform="rotate(-90 1116 269)"><tspan font-style="italic">R</tspan><tspan font-style="italic" font-size="19" dy="5">xy</tspan><tspan dy="-5" dx="5">(<tspan font-family="Liberation Serif, serif">Ω</tspan>)</tspan></text>
<text x="644" y="269" font-size="25" text-anchor="middle" fill="#f0198c" transform="rotate(-90 644 269)"><tspan>–</tspan><tspan font-style="italic">M</tspan><tspan> (10</tspan><tspan font-size="17" dy="-9">–5</tspan><tspan dy="9">emu cm</tspan><tspan font-size="17" dy="-9">–2</tspan><tspan dy="9">)</tspan></text>
<line x1="1260.4" y1="151.2" x2="2016.7" y2="151.2" stroke="#999" stroke-width="1.2" stroke-dasharray="8 6"/>
<line x1="1260.4" y1="392" x2="2016.7" y2="392" stroke="#aaa" stroke-width="1.2" stroke-dasharray="8 6"/>
<polyline points="1326.5,271.5 1345,269 1364.8,267.7 1377,267.7 1399.6,270.5 1419.9,270.8 1427.4,272 1431.3,281.2 1434.3,293.1 1437.3,307 1441.2,324.8 1450.1,346.6 1459,360.5 1468,374.3 1471.9,380.7 1477.9,389.2 1482.8,388.2 1486.8,370.4 1490.7,353.5 1495.7,326.8 1500.6,310.9 1507.6,293.1 1512.5,286.2 1518.5,280.2 1524.4,274.9" fill="none" stroke="#3aa03a" stroke-width="1.3" stroke-linejoin="round" stroke-dasharray="0.1 5.5" stroke-linecap="round" opacity="0.85"/>
<polyline points="1260.4,270 1268.4,272.8 1280.6,273.1 1291.3,274.3 1308.1,273.8 1315,270.3 1323.5,271.9 1332.6,267 1341.8,257 1351,243.2 1357.1,224.9 1363.2,195.8 1368.6,169.8 1373.2,151.1 1377,153.7 1386.2,166.7 1388.5,174.4 1393.8,179.7 1399.2,185.9 1406.1,198.9 1410.7,211.1 1412.2,213.4 1416.8,227.9 1419.9,243.2 1422.9,260.1 1427.5,272.3 1433.6,273.8 1439.2,273.7 1450,271.5 1461,270.3 1469,274.3 1486.8,275.3 1498.7,272.9 1528.4,270.9 1546.2,270.3 1550.2,268.3 1564,267.4 1574,268.9 1594.3,268.3" fill="none" stroke="#1a8a1a" stroke-width="1.2" stroke-linejoin="round" />
<rect x="1260.4" y="76.4" width="333.9" height="389.8" fill="none" stroke="#000" stroke-width="1.3"/>
<line x1="1427.4" y1="76.4" x2="1427.4" y2="466.2" stroke="#000" stroke-width="1.3" />
<line x1="1594.3" y1="76.4" x2="1599.8" y2="76.4" stroke="#000" stroke-width="1.3" />
<line x1="1254.4" y1="466.4" x2="1260.4" y2="466.4" stroke="#000" stroke-width="1.3" />
<text x="1243.5" y="475" font-size="25" text-anchor="end" fill="#000" >–2</text>
<line x1="1254.4" y1="369" x2="1260.4" y2="369" stroke="#000" stroke-width="1.3" />
<text x="1243.5" y="377.6" font-size="25" text-anchor="end" fill="#000" >–1</text>
<line x1="1254.4" y1="271.6" x2="1260.4" y2="271.6" stroke="#000" stroke-width="1.3" />
<text x="1243.5" y="280.2" font-size="25" text-anchor="end" fill="#000" >0</text>
<line x1="1254.4" y1="174.2" x2="1260.4" y2="174.2" stroke="#000" stroke-width="1.3" />
<text x="1243.5" y="182.8" font-size="25" text-anchor="end" fill="#000" >1</text>
<line x1="1254.4" y1="76.8" x2="1260.4" y2="76.8" stroke="#000" stroke-width="1.3" />
<text x="1243.5" y="85.4" font-size="25" text-anchor="end" fill="#000" >2</text>
<line x1="1588.3" y1="369" x2="1600.3" y2="369" stroke="#000" stroke-width="1.3" />
<line x1="1588.3" y1="271.6" x2="1600.3" y2="271.6" stroke="#000" stroke-width="1.3" />
<line x1="1588.3" y1="174.2" x2="1600.3" y2="174.2" stroke="#000" stroke-width="1.3" />
<line x1="1260.6" y1="466.2" x2="1260.6" y2="472.7" stroke="#000" stroke-width="1.3" />
<text x="1259.6" y="501.5" font-size="25" text-anchor="middle" fill="#000" >–2</text>
<line x1="1344" y1="466.2" x2="1344" y2="472.7" stroke="#000" stroke-width="1.3" />
<text x="1343" y="501.5" font-size="25" text-anchor="middle" fill="#000" >–1</text>
<line x1="1427.4" y1="466.2" x2="1427.4" y2="472.7" stroke="#000" stroke-width="1.3" />
<text x="1427.4" y="501.5" font-size="25" text-anchor="middle" fill="#000" >0</text>
<line x1="1510.8" y1="466.2" x2="1510.8" y2="472.7" stroke="#000" stroke-width="1.3" />
<text x="1510.8" y="501.5" font-size="25" text-anchor="middle" fill="#000" >1</text>
<line x1="1594.2" y1="466.2" x2="1594.2" y2="472.7" stroke="#000" stroke-width="1.3" />
<text x="1594.2" y="501.5" font-size="25" text-anchor="middle" fill="#000" >2</text>
<text x="1428" y="546" font-size="24" text-anchor="middle" fill="#000" ><tspan font-style="italic">B</tspan><tspan font-style="italic" font-size="19" dy="6">z</tspan><tspan dy="-6"> (T)</tspan></text>
<text x="1540.5" y="123" font-size="24" text-anchor="middle" fill="#1a8a1a" >ZFC</text>
<text x="1163" y="30" font-size="40" text-anchor="start" fill="#000" font-weight="bold">c</text>
<text x="1187" y="271" font-size="25" text-anchor="middle" fill="#000" transform="rotate(-90 1187 271)"><tspan font-style="italic">R</tspan><tspan font-size="19.5" dy="-8">G</tspan><tspan font-style="italic" font-size="19" dx="-14.5" dy="15">xy</tspan><tspan dy="-7" dx="3">(<tspan font-family="Liberation Serif, serif">Ω</tspan>)</tspan></text>
<path d="M1468.6,261.2 C1455,260.6 1444,256.5 1438.6,249 C1435.6,244.5 1434,239 1433.1,234" fill="none" stroke="#000" stroke-width="1.8"/>
<path d="M1430.4,223.1 L1430.8,238.6 L1433.1,233.9 L1436,237.5 Z" fill="#000" stroke="#000" stroke-width="0.8" stroke-linejoin="round"/>
<path d="M1381.8,284.2 C1400,292 1414,305 1420.4,336" fill="none" stroke="#000" stroke-width="1.3" stroke-dasharray="0.1 4" stroke-linecap="round"/>
<path d="M1416,327 L1420.6,338.7 L1422.5,326" fill="none" stroke="#000" stroke-width="1.2"/>
<polyline points="1850,272 1855.1,288.1 1860.5,315.1 1863.2,331.3 1874,347.5 1893,359.7 1897,361 1906.5,342.1 1913.2,315.1 1922.7,290.8 1933.5,278.6 1947,273.2 1980,270" fill="none" stroke="#4a7ac0" stroke-width="1.3" stroke-linejoin="round" stroke-dasharray="0.1 5" stroke-linecap="round" opacity="0.85"/>
<polyline points="1850,273 1852.4,282.7 1857.8,309.7 1863.2,342.1 1868.6,366.4 1882.1,377.2 1893,396.2 1901.1,423.2 1905.9,434 1913.2,409.7 1918.6,369.1 1922.7,347.5 1928.1,320.5 1936.2,301.6 1947,274.6 1980,271" fill="none" stroke="#f04050" stroke-width="1.3" stroke-linejoin="round" stroke-dasharray="0.1 5" stroke-linecap="round" opacity="0.85"/>
<polyline points="1684,268 1720,270 1760,268.5 1800,268 1830,268.5 1850,271" fill="none" stroke="#4a7ac0" stroke-width="1.3" stroke-linejoin="round" stroke-dasharray="0.1 7" stroke-linecap="round" opacity="0.8"/>
<polyline points="1684,266 1720,267 1760,266 1800,265.5 1830,266 1850,270" fill="none" stroke="#f04050" stroke-width="1.3" stroke-linejoin="round" stroke-dasharray="0.1 7" stroke-linecap="round" opacity="0.8"/>
<line x1="1793.5" y1="119" x2="1793.5" y2="271" stroke="#2a5ea8" stroke-width="1.2" stroke-dasharray="1.2 2.2"/>
<line x1="1804.8" y1="176" x2="1804.8" y2="271" stroke="#f04050" stroke-width="1.2" stroke-dasharray="1.2 2.2"/>
<line x1="1896.5" y1="271" x2="1896.5" y2="360" stroke="#4a7ac0" stroke-width="1.2" stroke-dasharray="1.2 2.2"/>
<line x1="1907.8" y1="277" x2="1907.8" y2="430" stroke="#f04050" stroke-width="1.2" stroke-dasharray="1.2 2.2"/>
<polyline points="1683.4,275 1693.9,280 1709.7,278 1719.6,275 1735.4,274.1 1745.3,270.1 1759.2,264.2 1767.1,265.1 1775,254.3 1781,234.5 1786.9,212.7 1793.9,192.9 1798.8,190.9 1802.8,183 1805.7,175 1814.7,178 1822.6,192.9 1830.5,204.8 1836.4,228.5 1841.4,258.2 1845.3,272.1 1850.3,277.3 1855.1,279.4 1868.6,274 1887.5,273.2 1906.5,277.3 1922.7,274.6 1938.9,265.9 1955.1,262.4 1967.3,258.9 1976.7,262.4 1992.9,266.5 2009.1,270.5 2016.7,271.9" fill="none" stroke="#f02030" stroke-width="1.2" stroke-linejoin="round" />
<polyline points="1683.4,260.6 1699.8,261.2 1709.7,263.2 1718.6,261.2 1727.5,266.1 1738.4,270.1 1745.3,265.1 1757.2,256.2 1765.1,238.4 1773.1,218.6 1779,194.9 1785,159.2 1789.9,126.5 1792.9,118.6 1795.8,120.6 1798.8,133.5 1803.8,139.4 1808.7,153.3 1816.6,165.1 1822.6,175 1828.5,194.9 1832.5,208.7 1838.4,238.4 1842.4,262.2 1846.3,270.1 1850.3,271.9 1857.8,274.6 1874,273.2 1893,269.7 1911.9,265.1 1928,267 1949.7,269.2 1965.9,271.3 1982.1,269.2 1998.3,269.2 2009.1,265.1 2016.7,265.1" fill="none" stroke="#2a5ea0" stroke-width="1.2" stroke-linejoin="round" />
<rect x="1683.5" y="75.2" width="333.2" height="391.4" fill="none" stroke="#000" stroke-width="1.3"/>
<line x1="1850.2" y1="75.2" x2="1850.2" y2="466.6" stroke="#000" stroke-width="1.3" />
<line x1="1677.5" y1="466.5" x2="1683.5" y2="466.5" stroke="#000" stroke-width="1.3" />
<text x="1666.5" y="475.1" font-size="25" text-anchor="end" fill="#000" >–2</text>
<line x1="1677.5" y1="368.9" x2="1683.5" y2="368.9" stroke="#000" stroke-width="1.3" />
<text x="1666.5" y="377.5" font-size="25" text-anchor="end" fill="#000" >–1</text>
<line x1="1677.5" y1="271.3" x2="1683.5" y2="271.3" stroke="#000" stroke-width="1.3" />
<text x="1666.5" y="279.9" font-size="25" text-anchor="end" fill="#000" >0</text>
<line x1="1677.5" y1="173.7" x2="1683.5" y2="173.7" stroke="#000" stroke-width="1.3" />
<text x="1666.5" y="182.3" font-size="25" text-anchor="end" fill="#000" >1</text>
<line x1="1677.5" y1="76.1" x2="1683.5" y2="76.1" stroke="#000" stroke-width="1.3" />
<text x="1666.5" y="84.7" font-size="25" text-anchor="end" fill="#000" >2</text>
<line x1="1683.4" y1="466.6" x2="1683.4" y2="473.1" stroke="#000" stroke-width="1.3" />
<text x="1682.4" y="501.5" font-size="25" text-anchor="middle" fill="#000" >–2</text>
<line x1="1766.8" y1="466.6" x2="1766.8" y2="473.1" stroke="#000" stroke-width="1.3" />
<text x="1765.8" y="501.5" font-size="25" text-anchor="middle" fill="#000" >–1</text>
<line x1="1850.2" y1="466.6" x2="1850.2" y2="473.1" stroke="#000" stroke-width="1.3" />
<text x="1850.2" y="501.5" font-size="25" text-anchor="middle" fill="#000" >0</text>
<line x1="1933.6" y1="466.6" x2="1933.6" y2="473.1" stroke="#000" stroke-width="1.3" />
<text x="1933.6" y="501.5" font-size="25" text-anchor="middle" fill="#000" >1</text>
<line x1="2017" y1="466.6" x2="2017" y2="473.1" stroke="#000" stroke-width="1.3" />
<text x="2017" y="501.5" font-size="25" text-anchor="middle" fill="#000" >2</text>
<text x="1851" y="546" font-size="24" text-anchor="middle" fill="#000" ><tspan font-style="italic">B</tspan><tspan font-style="italic" font-size="19" dy="6">z</tspan><tspan dy="-6"> (T)</tspan></text>
<text x="1640" y="30" font-size="40" text-anchor="start" fill="#000" font-weight="bold">d</text>
<text x="1694.5" y="110.5" font-size="25" text-anchor="start" fill="#0d4a8a" >Positive FC</text>
<text x="2004" y="458.5" font-size="25" text-anchor="end" fill="#ee1020" >Negative FC</text>
<line x1="1756" y1="119.6" x2="1793" y2="119.6" stroke="#aaa" stroke-width="1.2" stroke-dasharray="6 4"/>
<line x1="1756" y1="179" x2="1804.8" y2="179" stroke="#aaa" stroke-width="1.2" stroke-dasharray="6 4"/>
<line x1="1769.5" y1="126.5" x2="1769.5" y2="145.3" stroke="#000" stroke-width="2.2"/>
<path d="M1769.5,120.5 L1765.0,130.5 L1769.5,128.0 L1774.0,130.5Z M1769.5,151.3 L1765.0,141.3 L1769.5,143.8 L1774.0,141.3Z" fill="#000"/>
<line x1="1769.5" y1="157.8" x2="1769.5" y2="173.2" stroke="#000" stroke-width="2.2"/>
<path d="M1769.5,151.8 L1765.0,161.8 L1769.5,159.3 L1774.0,161.8Z M1769.5,179.2 L1765.0,169.2 L1769.5,171.7 L1774.0,169.2Z" fill="#000"/>
<text x="1692" y="139.4" font-size="24" text-anchor="start" fill="#000" >+<tspan font-family="Liberation Serif, serif" font-style="italic">δ</tspan><tspan font-style="italic">R</tspan><tspan font-size="19" dy="-10">G</tspan><tspan font-style="italic" font-size="19" dx="-14.5" dy="20">xy</tspan></text>
<text x="1692" y="177" font-size="24" text-anchor="start" fill="#000" >–<tspan font-family="Liberation Serif, serif" font-style="italic">δ</tspan><tspan font-style="italic">R</tspan><tspan font-size="19" dy="-10">G</tspan><tspan font-style="italic" font-size="19" dx="-14.5" dy="20">xy</tspan></text>
<path d="M1895.9,255 C1888,256 1879,254.5 1872,248.5 C1865,242 1861,232 1859.5,221 C1859,216 1858.5,212 1858.2,209.8" fill="none" stroke="#000" stroke-width="1.8"/>
<path d="M1856.4,199.1 L1855.4,213.7 L1858.2,209.6 L1861.3,213.6 Z" fill="#000" stroke="#000" stroke-width="0.8" stroke-linejoin="round"/>
<path d="M1806,293 C1824,302 1836,318 1843,343" fill="none" stroke="#000" stroke-width="1.3" stroke-dasharray="0.1 4" stroke-linecap="round"/>
<path d="M1839,333 L1843.2,345 L1845.5,332" fill="none" stroke="#000" stroke-width="1.2"/>
<rect x="196.4" y="640" width="280.8" height="95.5" fill="#fff" stroke="#8a8a8a" stroke-width="1.1"/>
<line x1="196.4" y1="736.1" x2="477.2" y2="736.1" stroke="#b0b0b0" stroke-width="1"/>
<rect x="196.4" y="640" width="280.8" height="35.8" fill="#14166c"/>
<line x1="207.3" y1="683" x2="207.3" y2="707.3" stroke="#000" stroke-width="2.6"/>
<path d="M207.3,677 L201.9,688.2 L207.3,685.2 L212.7,688.2Z" fill="#000"/>
<line x1="227.5" y1="683" x2="227.5" y2="707.3" stroke="#000" stroke-width="2.6"/>
<path d="M227.5,677 L222.1,688.2 L227.5,685.2 L232.9,688.2Z" fill="#000"/>
<line x1="247.3" y1="683" x2="247.3" y2="707.3" stroke="#000" stroke-width="2.6"/>
<path d="M247.3,677 L241.9,688.2 L247.3,685.2 L252.7,688.2Z" fill="#000"/>
<line x1="269.4" y1="683" x2="269.4" y2="707.3" stroke="#000" stroke-width="2.6"/>
<path d="M269.4,677 L264,688.2 L269.4,685.2 L274.8,688.2Z" fill="#000"/>
<line x1="291" y1="683" x2="291" y2="707.3" stroke="#000" stroke-width="2.6"/>
<path d="M291,677 L285.6,688.2 L291,685.2 L296.4,688.2Z" fill="#000"/>
<line x1="332.4" y1="683" x2="332.4" y2="707.3" stroke="#000" stroke-width="2.6"/>
<path d="M332.4,677 L327,688.2 L332.4,685.2 L337.8,688.2Z" fill="#000"/>
<line x1="354.5" y1="683" x2="354.5" y2="707.3" stroke="#000" stroke-width="2.6"/>
<path d="M354.5,677 L349.1,688.2 L354.5,685.2 L359.9,688.2Z" fill="#000"/>
<line x1="376.1" y1="683" x2="376.1" y2="707.3" stroke="#000" stroke-width="2.6"/>
<path d="M376.1,677 L370.7,688.2 L376.1,685.2 L381.5,688.2Z" fill="#000"/>
<line x1="397.7" y1="683" x2="397.7" y2="707.3" stroke="#000" stroke-width="2.6"/>
<path d="M397.7,677 L392.3,688.2 L397.7,685.2 L403.1,688.2Z" fill="#000"/>
<line x1="435.9" y1="683" x2="435.9" y2="707.3" stroke="#000" stroke-width="2.6"/>
<path d="M435.9,677 L430.5,688.2 L435.9,685.2 L441.3,688.2Z" fill="#000"/>
<line x1="458" y1="683" x2="458" y2="707.3" stroke="#000" stroke-width="2.6"/>
<path d="M458,677 L452.6,688.2 L458,685.2 L463.4,688.2Z" fill="#000"/>
<rect x="196.4" y="763.3" width="280.8" height="95.7" fill="#fff" stroke="#8a8a8a" stroke-width="1.1"/>
<line x1="196.4" y1="859.6" x2="477.2" y2="859.6" stroke="#b0b0b0" stroke-width="1"/>
<rect x="196.4" y="763.3" width="280.8" height="36.3" fill="#14166c"/>
<line x1="207.3" y1="806.8" x2="207.3" y2="831.1" stroke="#000" stroke-width="2.6"/>
<path d="M207.3,800.8 L201.9,812 L207.3,809 L212.7,812Z" fill="#000"/>
<line x1="227.5" y1="806.8" x2="227.5" y2="831.1" stroke="#000" stroke-width="2.6"/>
<path d="M227.5,800.8 L222.1,812 L227.5,809 L232.9,812Z" fill="#000"/>
<line x1="247.3" y1="806.8" x2="247.3" y2="831.1" stroke="#000" stroke-width="2.6"/>
<path d="M247.3,800.8 L241.9,812 L247.3,809 L252.7,812Z" fill="#000"/>
<line x1="269.4" y1="806.8" x2="269.4" y2="831.1" stroke="#000" stroke-width="2.6"/>
<path d="M269.4,800.8 L264,812 L269.4,809 L274.8,812Z" fill="#000"/>
<line x1="291" y1="806.8" x2="291" y2="831.1" stroke="#000" stroke-width="2.6"/>
<path d="M291,800.8 L285.6,812 L291,809 L296.4,812Z" fill="#000"/>
<line x1="332.4" y1="806.8" x2="332.4" y2="831.1" stroke="#000" stroke-width="2.6"/>
<path d="M332.4,800.8 L327,812 L332.4,809 L337.8,812Z" fill="#000"/>
<line x1="354.5" y1="806.8" x2="354.5" y2="831.1" stroke="#000" stroke-width="2.6"/>
<path d="M354.5,800.8 L349.1,812 L354.5,809 L359.9,812Z" fill="#000"/>
<line x1="376.1" y1="806.8" x2="376.1" y2="831.1" stroke="#000" stroke-width="2.6"/>
<path d="M376.1,800.8 L370.7,812 L376.1,809 L381.5,812Z" fill="#000"/>
<line x1="397.7" y1="806.8" x2="397.7" y2="831.1" stroke="#000" stroke-width="2.6"/>
<path d="M397.7,800.8 L392.3,812 L397.7,809 L403.1,812Z" fill="#000"/>
<line x1="435.9" y1="806.8" x2="435.9" y2="831.1" stroke="#000" stroke-width="2.6"/>
<path d="M435.9,800.8 L430.5,812 L435.9,809 L441.3,812Z" fill="#000"/>
<line x1="458" y1="806.8" x2="458" y2="831.1" stroke="#000" stroke-width="2.6"/>
<path d="M458,800.8 L452.6,812 L458,809 L463.4,812Z" fill="#000"/>
<rect x="196.4" y="887.4" width="280.8" height="95.8" fill="#fff" stroke="#8a8a8a" stroke-width="1.1"/>
<line x1="196.4" y1="983.8" x2="477.2" y2="983.8" stroke="#b0b0b0" stroke-width="1"/>
<rect x="196.4" y="887.4" width="280.8" height="37" fill="#14166c"/>
<line x1="207.3" y1="931.6" x2="207.3" y2="955.9" stroke="#000" stroke-width="2.6"/>
<path d="M207.3,925.6 L201.9,936.8 L207.3,933.8 L212.7,936.8Z" fill="#000"/>
<line x1="227.5" y1="931.6" x2="227.5" y2="955.9" stroke="#000" stroke-width="2.6"/>
<path d="M227.5,925.6 L222.1,936.8 L227.5,933.8 L232.9,936.8Z" fill="#000"/>
<line x1="247.3" y1="931.6" x2="247.3" y2="955.9" stroke="#000" stroke-width="2.6"/>
<path d="M247.3,925.6 L241.9,936.8 L247.3,933.8 L252.7,936.8Z" fill="#000"/>
<line x1="269.4" y1="931.6" x2="269.4" y2="955.9" stroke="#000" stroke-width="2.6"/>
<path d="M269.4,925.6 L264,936.8 L269.4,933.8 L274.8,936.8Z" fill="#000"/>
<line x1="291" y1="931.6" x2="291" y2="955.9" stroke="#000" stroke-width="2.6"/>
<path d="M291,925.6 L285.6,936.8 L291,933.8 L296.4,936.8Z" fill="#000"/>
<line x1="332.4" y1="931.6" x2="332.4" y2="955.9" stroke="#000" stroke-width="2.6"/>
<path d="M332.4,925.6 L327,936.8 L332.4,933.8 L337.8,936.8Z" fill="#000"/>
<line x1="354.5" y1="931.6" x2="354.5" y2="955.9" stroke="#000" stroke-width="2.6"/>
<path d="M354.5,925.6 L349.1,936.8 L354.5,933.8 L359.9,936.8Z" fill="#000"/>
<line x1="376.1" y1="931.6" x2="376.1" y2="955.9" stroke="#000" stroke-width="2.6"/>
<path d="M376.1,925.6 L370.7,936.8 L376.1,933.8 L381.5,936.8Z" fill="#000"/>
<line x1="397.7" y1="931.6" x2="397.7" y2="955.9" stroke="#000" stroke-width="2.6"/>
<path d="M397.7,925.6 L392.3,936.8 L397.7,933.8 L403.1,936.8Z" fill="#000"/>
<line x1="435.9" y1="931.6" x2="435.9" y2="955.9" stroke="#000" stroke-width="2.6"/>
<path d="M435.9,925.6 L430.5,936.8 L435.9,933.8 L441.3,936.8Z" fill="#000"/>
<line x1="458" y1="931.6" x2="458" y2="955.9" stroke="#000" stroke-width="2.6"/>
<path d="M458,925.6 L452.6,936.8 L458,933.8 L463.4,936.8Z" fill="#000"/>
<rect x="196.4" y="1010.8" width="280.8" height="96.6" fill="#fff" stroke="#8a8a8a" stroke-width="1.1"/>
<line x1="196.4" y1="1108" x2="477.2" y2="1108" stroke="#b0b0b0" stroke-width="1"/>
<rect x="196.4" y="1010.8" width="280.8" height="37.4" fill="#14166c"/>
<line x1="207.3" y1="1055.4" x2="207.3" y2="1079.7" stroke="#000" stroke-width="2.6"/>
<path d="M207.3,1049.4 L201.9,1060.6 L207.3,1057.6 L212.7,1060.6Z" fill="#000"/>
<line x1="227.5" y1="1055.4" x2="227.5" y2="1079.7" stroke="#000" stroke-width="2.6"/>
<path d="M227.5,1049.4 L222.1,1060.6 L227.5,1057.6 L232.9,1060.6Z" fill="#000"/>
<line x1="247.3" y1="1055.4" x2="247.3" y2="1079.7" stroke="#000" stroke-width="2.6"/>
<path d="M247.3,1049.4 L241.9,1060.6 L247.3,1057.6 L252.7,1060.6Z" fill="#000"/>
<line x1="269.4" y1="1055.4" x2="269.4" y2="1079.7" stroke="#000" stroke-width="2.6"/>
<path d="M269.4,1049.4 L264,1060.6 L269.4,1057.6 L274.8,1060.6Z" fill="#000"/>
<line x1="291" y1="1055.4" x2="291" y2="1079.7" stroke="#000" stroke-width="2.6"/>
<path d="M291,1049.4 L285.6,1060.6 L291,1057.6 L296.4,1060.6Z" fill="#000"/>
<line x1="332.4" y1="1055.4" x2="332.4" y2="1079.7" stroke="#000" stroke-width="2.6"/>
<path d="M332.4,1049.4 L327,1060.6 L332.4,1057.6 L337.8,1060.6Z" fill="#000"/>
<line x1="354.5" y1="1055.4" x2="354.5" y2="1079.7" stroke="#000" stroke-width="2.6"/>
<path d="M354.5,1049.4 L349.1,1060.6 L354.5,1057.6 L359.9,1060.6Z" fill="#000"/>
<line x1="376.1" y1="1055.4" x2="376.1" y2="1079.7" stroke="#000" stroke-width="2.6"/>
<path d="M376.1,1049.4 L370.7,1060.6 L376.1,1057.6 L381.5,1060.6Z" fill="#000"/>
<line x1="397.7" y1="1055.4" x2="397.7" y2="1079.7" stroke="#000" stroke-width="2.6"/>
<path d="M397.7,1049.4 L392.3,1060.6 L397.7,1057.6 L403.1,1060.6Z" fill="#000"/>
<line x1="435.9" y1="1055.4" x2="435.9" y2="1079.7" stroke="#000" stroke-width="2.6"/>
<path d="M435.9,1049.4 L430.5,1060.6 L435.9,1057.6 L441.3,1060.6Z" fill="#000"/>
<line x1="458" y1="1055.4" x2="458" y2="1079.7" stroke="#000" stroke-width="2.6"/>
<path d="M458,1049.4 L452.6,1060.6 L458,1057.6 L463.4,1060.6Z" fill="#000"/>
<ellipse cx="211.9" cy="664.3" rx="12.3" ry="7.6" fill="url(#gred)"/>
<line x1="211.9" y1="665.5" x2="211.9" y2="651" stroke="#fff" stroke-width="1.9"/>
<path d="M211.9,644.3 L206.7,654.6 L211.9,651.8 L217.1,654.6Z" fill="#fff"/>
<ellipse cx="238.1" cy="664.3" rx="12.3" ry="7.6" fill="url(#gred)"/>
<line x1="238.1" y1="665.5" x2="238.1" y2="651" stroke="#fff" stroke-width="1.9"/>
<path d="M238.1,644.3 L232.9,654.6 L238.1,651.8 L243.3,654.6Z" fill="#fff"/>
<ellipse cx="264.3" cy="664.3" rx="12.3" ry="7.6" fill="url(#gred)"/>
<line x1="264.3" y1="665.5" x2="264.3" y2="651" stroke="#fff" stroke-width="1.9"/>
<path d="M264.3,644.3 L259.1,654.6 L264.3,651.8 L269.5,654.6Z" fill="#fff"/>
<ellipse cx="290.1" cy="664.3" rx="12.3" ry="7.6" fill="url(#gred)"/>
<line x1="290.1" y1="665.5" x2="290.1" y2="651" stroke="#fff" stroke-width="1.9"/>
<path d="M290.1,644.3 L284.9,654.6 L290.1,651.8 L295.3,654.6Z" fill="#fff"/>
<ellipse cx="340.7" cy="664.3" rx="12.3" ry="7.6" fill="url(#gred)"/>
<line x1="340.7" y1="665.5" x2="340.7" y2="651" stroke="#fff" stroke-width="1.9"/>
<path d="M340.7,644.3 L335.5,654.6 L340.7,651.8 L345.9,654.6Z" fill="#fff"/>
<ellipse cx="366.9" cy="664.3" rx="12.3" ry="7.6" fill="url(#gred)"/>
<line x1="366.9" y1="665.5" x2="366.9" y2="651" stroke="#fff" stroke-width="1.9"/>
<path d="M366.9,644.3 L361.7,654.6 L366.9,651.8 L372.1,654.6Z" fill="#fff"/>
<ellipse cx="393.1" cy="664.3" rx="12.3" ry="7.6" fill="url(#gred)"/>
<line x1="393.1" y1="665.5" x2="393.1" y2="651" stroke="#fff" stroke-width="1.9"/>
<path d="M393.1,644.3 L387.9,654.6 L393.1,651.8 L398.3,654.6Z" fill="#fff"/>
<ellipse cx="435" cy="664.3" rx="12.3" ry="7.6" fill="url(#gred)"/>
<line x1="435" y1="665.5" x2="435" y2="651" stroke="#fff" stroke-width="1.9"/>
<path d="M435,644.3 L429.8,654.6 L435,651.8 L440.2,654.6Z" fill="#fff"/>
<ellipse cx="461.2" cy="664.3" rx="12.3" ry="7.6" fill="url(#gred)"/>
<line x1="461.2" y1="665.5" x2="461.2" y2="651" stroke="#fff" stroke-width="1.9"/>
<path d="M461.2,644.3 L456,654.6 L461.2,651.8 L466.4,654.6Z" fill="#fff"/>
<path d="M331.5,772.5 L350.5,782.5 L340.5,782.5 L340.5,792.5 L322.5,792.5 L322.5,782.5 L312.5,782.5Z" fill="#fff"/>
<path d="M331.5,1042.5 L350.5,1031 L340.5,1031 L340.5,1017.7 L322.5,1017.7 L322.5,1031 L312.5,1031Z" fill="#fff"/>
<ellipse cx="299.2" cy="903.5" rx="12" ry="7" fill="url(#ggrn)"/>
<line x1="299.2" y1="903.5" x2="299.2" y2="914" stroke="#fff" stroke-width="1.9"/>
<path d="M299.2,920.8 L294.2,910.2 L299.2,913 L304.2,910.2Z" fill="#fff"/>
<ellipse cx="327.1" cy="903.5" rx="12" ry="7" fill="url(#ggrn)"/>
<line x1="327.1" y1="903.5" x2="327.1" y2="914" stroke="#fff" stroke-width="1.9"/>
<path d="M327.1,920.8 L322.1,910.2 L327.1,913 L332.1,910.2Z" fill="#fff"/>
<ellipse cx="415" cy="903.5" rx="12" ry="7" fill="url(#ggrn)"/>
<line x1="415" y1="903.5" x2="415" y2="914" stroke="#fff" stroke-width="1.9"/>
<path d="M415,920.8 L410,910.2 L415,913 L420,910.2Z" fill="#fff"/>
<text x="140" y="652.5" font-size="42" text-anchor="start" fill="#000" font-weight="bold">e</text>
<text x="183.5" y="661" font-size="24" text-anchor="end" fill="#000" >I</text>
<text x="184" y="783.5" font-size="24" text-anchor="end" fill="#000" >II</text>
<text x="183.5" y="906.5" font-size="24" text-anchor="end" fill="#000" >III</text>
<text x="183.5" y="1030" font-size="24" text-anchor="end" fill="#000" >IV</text>
<text x="491.5" y="666.8" font-size="25" text-anchor="start" fill="#000" >FM</text>
<text x="482.3" y="711" font-size="25" text-anchor="start" fill="#000" >AFM</text>
<line x1="476.6" y1="728.2" x2="683" y2="673.3" stroke="#000" stroke-width="1.1" />
<line x1="476.6" y1="812.5" x2="602.5" y2="765.5" stroke="#000" stroke-width="1.1" />
<line x1="476.6" y1="936" x2="777" y2="989.5" stroke="#000" stroke-width="1.1" />
<polyline points="476.6,1077.4 808,1077.4 883.5,946.8" fill="none" stroke="#000" stroke-width="1.1"/>
<line x1="841.9" y1="1099.5" x2="841.9" y2="650" stroke="#000" stroke-width="1.8" />
<path d="M841.9,646.5 L835.6,658.5 L841.9,654 L848.2,658.5Z" fill="#000" stroke="#000" stroke-width="1.2" stroke-linejoin="miter"/>
<line x1="554" y1="860" x2="937" y2="860" stroke="#000" stroke-width="2.2" />
<path d="M942.5,860 L930,853.8 L933.5,860 L930,866.2Z" fill="#000" stroke="#000" stroke-width="1.2"/>
<line x1="840.4" y1="829.2" x2="752" y2="829.2" stroke="#000" stroke-width="2.2" />
<path d="M758.8,824 L750,829.2 L758.8,834.4" fill="none" stroke="#000" stroke-width="2"/>
<line x1="749.6" y1="741" x2="749.6" y2="957.6" stroke="#000" stroke-width="0.9" stroke-dasharray="1 1.5"/>
<path d="M662.3,755.4 C672,722 684,688 691,677 C696,669 701,669 706,677 C714,690 724,722 733.8,755.4 Z" fill="#ff5a60" stroke="#ff0000" stroke-width="2.6" stroke-linejoin="round"/>
<line x1="582" y1="756" x2="734" y2="756" stroke="#ff0000" stroke-width="2.8" />
<polyline points="733.8,755 733.8,936.5 918,936.5" fill="none" stroke="#ff0000" stroke-width="2.8"/>
<path d="M733.8,803.3 L728.3,817.8 L733.8,813.5 L739.3,817.8Z" fill="#ff0000" stroke="#ff0000" stroke-width="1"/>
<path d="M766.3,936.5 C772,960 778,978 786,988 C790,993 795,993 799,988 C806,978 813,960 820.9,936.5 Z" fill="#1fae6e"/>
<path d="M766.3,936.5 C772,960 778,978 786,988 C790,993 795,993 799,988 C806,978 813,960 820.9,936.5" fill="none" stroke="#0b4a2c" stroke-width="2.6" stroke-dasharray="7.5 4.2"/>
<polyline points="582,756 766.6,756 766.6,936.5" fill="none" stroke="#0b4a2c" stroke-width="2.8" stroke-dasharray="7.8 4.3"/>
<polyline points="766.3,936.5 918,936.5" fill="none" stroke="#0b4a2c" stroke-width="2.8" stroke-dasharray="7.8 4.3"/>
<path d="M766.4,908 L760.5,893 L766.4,897.5 L772.3,893Z" fill="#0b4a2c" stroke="#0b4a2c" stroke-width="1"/>
<ellipse cx="699.1" cy="673.3" rx="15.8" ry="9.2" fill="none" stroke="#000" stroke-width="2.6"/>
<ellipse cx="615.3" cy="757.1" rx="15.2" ry="9.8" fill="none" stroke="#000" stroke-width="2.6"/>
<ellipse cx="792.4" cy="991.5" rx="15.4" ry="10" fill="none" stroke="#000" stroke-width="2.6"/>
<ellipse cx="884.6" cy="936" rx="15.6" ry="10" fill="none" stroke="#000" stroke-width="2.6"/>
<text x="698.6" y="656.5" font-size="23" text-anchor="middle" fill="#000" >I</text>
<text x="615" y="739.5" font-size="23" text-anchor="middle" fill="#000" >II</text>
<text x="795.5" y="1030.5" font-size="30" text-anchor="middle" fill="#000" font-weight="bold">III</text>
<text x="884" y="916.8" font-size="23" text-anchor="middle" fill="#000" >IV</text>
<text x="819.5" y="889.6" font-size="22" text-anchor="middle" fill="#000" >0</text>
<text x="789.5" y="659.6" font-size="25" text-anchor="start" fill="#000" ><tspan font-style="italic">R</tspan><tspan font-style="italic" font-size="19.5">xy</tspan></text>
<text x="901" y="844.5" font-size="23" text-anchor="start" fill="#000" ><tspan font-style="italic">B</tspan><tspan font-style="italic" font-size="20">z</tspan></text>
<text x="776.5" y="820.5" font-size="24" text-anchor="start" fill="#000" ><tspan font-style="italic">H</tspan><tspan font-size="19">EB</tspan></text>
<g clip-path="url(#cf)"><g filter="url(#bf)" shape-rendering="crispEdges"><rect x="1132.5" y="656" width="290" height="3.1" fill="url(#f0)"/><rect x="1132.5" y="658.5" width="290" height="3.1" fill="url(#f1)"/><rect x="1132.5" y="661" width="290" height="3.1" fill="url(#f2)"/><rect x="1132.5" y="663.5" width="290" height="3.1" fill="url(#f3)"/><rect x="1132.5" y="666" width="290" height="3.1" fill="url(#f4)"/><rect x="1132.5" y="668.5" width="290" height="3.1" fill="url(#f5)"/><rect x="1132.5" y="671" width="290" height="3.1" fill="url(#f6)"/><rect x="1132.5" y="673.5" width="290" height="3.1" fill="url(#f7)"/><rect x="1132.5" y="676" width="290" height="3.1" fill="url(#f8)"/><rect x="1132.5" y="678.5" width="290" height="3.1" fill="url(#f9)"/><rect x="1132.5" y="681" width="290" height="3.1" fill="url(#f10)"/><rect x="1132.5" y="683.5" width="290" height="3.1" fill="url(#f11)"/><rect x="1132.5" y="686" width="290" height="3.1" fill="url(#f12)"/><rect x="1132.5" y="688.5" width="290" height="3.1" fill="url(#f13)"/><rect x="1132.5" y="691" width="290" height="3.1" fill="url(#f14)"/><rect x="1132.5" y="693.5" width="290" height="3.1" fill="url(#f15)"/><rect x="1132.5" y="696" width="290" height="3.1" fill="url(#f16)"/><rect x="1132.5" y="698.5" width="290" height="3.1" fill="url(#f17)"/><rect x="1132.5" y="701" width="290" height="3.1" fill="url(#f18)"/><rect x="1132.5" y="703.5" width="290" height="3.1" fill="url(#f19)"/><rect x="1132.5" y="706" width="290" height="3.1" fill="url(#f20)"/><rect x="1132.5" y="708.5" width="290" height="3.1" fill="url(#f21)"/><rect x="1132.5" y="711" width="290" height="3.1" fill="url(#f22)"/><rect x="1132.5" y="713.5" width="290" height="3.1" fill="url(#f23)"/><rect x="1132.5" y="716" width="290" height="3.1" fill="url(#f24)"/><rect x="1132.5" y="718.5" width="290" height="3.1" fill="url(#f25)"/><rect x="1132.5" y="721" width="290" height="3.1" fill="url(#f26)"/><rect x="1132.5" y="723.5" width="290" height="3.1" fill="url(#f27)"/><rect x="1132.5" y="726" width="290" height="3.1" fill="url(#f28)"/><rect x="1132.5" y="728.5" width="290" height="3.1" fill="url(#f29)"/><rect x="1132.5" y="731" width="290" height="3.1" fill="url(#f30)"/><rect x="1132.5" y="733.5" width="290" height="3.1" fill="url(#f31)"/><rect x="1132.5" y="736" width="290" height="3.1" fill="url(#f32)"/><rect x="1132.5" y="738.5" width="290" height="3.1" fill="url(#f33)"/><rect x="1132.5" y="741" width="290" height="3.1" fill="url(#f34)"/><rect x="1132.5" y="743.5" width="290" height="3.1" fill="url(#f35)"/><rect x="1132.5" y="746" width="290" height="3.1" fill="url(#f36)"/><rect x="1132.5" y="748.5" width="290" height="3.1" fill="url(#f37)"/><rect x="1132.5" y="751" width="290" height="3.1" fill="url(#f38)"/><rect x="1132.5" y="753.5" width="290" height="3.1" fill="url(#f39)"/><rect x="1132.5" y="756" width="290" height="3.1" fill="url(#f40)"/><rect x="1132.5" y="758.5" width="290" height="3.1" fill="url(#f41)"/><rect x="1132.5" y="761" width="290" height="3.1" fill="url(#f42)"/><rect x="1132.5" y="763.5" width="290" height="3.1" fill="url(#f43)"/><rect x="1132.5" y="766" width="290" height="3.1" fill="url(#f44)"/><rect x="1132.5" y="768.5" width="290" height="3.1" fill="url(#f45)"/><rect x="1132.5" y="771" width="290" height="3.1" fill="url(#f46)"/><rect x="1132.5" y="773.5" width="290" height="3.1" fill="url(#f47)"/><rect x="1132.5" y="776" width="290" height="3.1" fill="url(#f48)"/><rect x="1132.5" y="778.5" width="290" height="3.1" fill="url(#f49)"/><rect x="1132.5" y="781" width="290" height="3.1" fill="url(#f50)"/><rect x="1132.5" y="783.5" width="290" height="3.1" fill="url(#f51)"/><rect x="1132.5" y="786" width="290" height="3.1" fill="url(#f52)"/><rect x="1132.5" y="788.5" width="290" height="3.1" fill="url(#f53)"/><rect x="1132.5" y="791" width="290" height="3.1" fill="url(#f54)"/><rect x="1132.5" y="793.5" width="290" height="3.1" fill="url(#f55)"/><rect x="1132.5" y="796" width="290" height="3.1" fill="url(#f56)"/><rect x="1132.5" y="798.5" width="290" height="3.1" fill="url(#f57)"/><rect x="1132.5" y="801" width="290" height="3.1" fill="url(#f58)"/><rect x="1132.5" y="803.5" width="290" height="3.1" fill="url(#f59)"/><rect x="1132.5" y="806" width="290" height="3.1" fill="url(#f60)"/><rect x="1132.5" y="808.5" width="290" height="3.1" fill="url(#f61)"/><rect x="1132.5" y="811" width="290" height="3.1" fill="url(#f62)"/><rect x="1132.5" y="813.5" width="290" height="3.1" fill="url(#f63)"/><rect x="1132.5" y="816" width="290" height="3.1" fill="url(#f64)"/><rect x="1132.5" y="818.5" width="290" height="3.1" fill="url(#f65)"/><rect x="1132.5" y="821" width="290" height="3.1" fill="url(#f66)"/><rect x="1132.5" y="823.5" width="290" height="3.1" fill="url(#f67)"/><rect x="1132.5" y="826" width="290" height="3.1" fill="url(#f68)"/><rect x="1132.5" y="828.5" width="290" height="3.1" fill="url(#f69)"/><rect x="1132.5" y="831" width="290" height="3.1" fill="url(#f70)"/><rect x="1132.5" y="833.5" width="290" height="3.1" fill="url(#f71)"/><rect x="1132.5" y="836" width="290" height="3.1" fill="url(#f72)"/><rect x="1132.5" y="838.5" width="290" height="3.1" fill="url(#f73)"/><rect x="1132.5" y="841" width="290" height="3.1" fill="url(#f74)"/><rect x="1132.5" y="843.5" width="290" height="3.1" fill="url(#f75)"/><rect x="1132.5" y="846" width="290" height="3.1" fill="url(#f76)"/><rect x="1132.5" y="848.5" width="290" height="3.1" fill="url(#f77)"/><rect x="1132.5" y="851" width="290" height="3.1" fill="url(#f78)"/><rect x="1132.5" y="853.5" width="290" height="3.1" fill="url(#f79)"/><rect x="1132.5" y="856" width="290" height="3.1" fill="url(#f80)"/><rect x="1132.5" y="858.5" width="290" height="3.1" fill="url(#f81)"/><rect x="1132.5" y="861" width="290" height="3.1" fill="url(#f82)"/><rect x="1132.5" y="863.5" width="290" height="3.1" fill="url(#f83)"/><rect x="1132.5" y="866" width="290" height="3.1" fill="url(#f84)"/><rect x="1132.5" y="868.5" width="290" height="3.1" fill="url(#f85)"/><rect x="1132.5" y="871" width="290" height="3.1" fill="url(#f86)"/><rect x="1132.5" y="873.5" width="290" height="3.1" fill="url(#f87)"/><rect x="1132.5" y="876" width="290" height="3.1" fill="url(#f88)"/><rect x="1132.5" y="878.5" width="290" height="3.1" fill="url(#f89)"/><rect x="1132.5" y="881" width="290" height="3.1" fill="url(#f90)"/><rect x="1132.5" y="883.5" width="290" height="3.1" fill="url(#f91)"/><rect x="1132.5" y="886" width="290" height="3.1" fill="url(#f92)"/><rect x="1132.5" y="888.5" width="290" height="3.1" fill="url(#f93)"/><rect x="1132.5" y="891" width="290" height="3.1" fill="url(#f94)"/><rect x="1132.5" y="893.5" width="290" height="3.1" fill="url(#f95)"/><rect x="1132.5" y="896" width="290" height="3.1" fill="url(#f96)"/><rect x="1132.5" y="898.5" width="290" height="3.1" fill="url(#f97)"/><rect x="1132.5" y="901" width="290" height="3.1" fill="url(#f98)"/><rect x="1132.5" y="903.5" width="290" height="3.1" fill="url(#f99)"/><rect x="1132.5" y="906" width="290" height="3.1" fill="url(#f100)"/><rect x="1132.5" y="908.5" width="290" height="3.1" fill="url(#f101)"/><rect x="1132.5" y="911" width="290" height="3.1" fill="url(#f102)"/><rect x="1132.5" y="913.5" width="290" height="3.1" fill="url(#f103)"/><rect x="1132.5" y="916" width="290" height="3.1" fill="url(#f104)"/><rect x="1132.5" y="918.5" width="290" height="3.1" fill="url(#f105)"/><rect x="1132.5" y="921" width="290" height="3.1" fill="url(#f106)"/><rect x="1132.5" y="923.5" width="290" height="3.1" fill="url(#f107)"/><rect x="1132.5" y="926" width="290" height="3.1" fill="url(#f108)"/><rect x="1132.5" y="928.5" width="290" height="3.1" fill="url(#f109)"/><rect x="1132.5" y="931" width="290" height="3.1" fill="url(#f110)"/><rect x="1132.5" y="933.5" width="290" height="3.1" fill="url(#f111)"/><rect x="1132.5" y="936" width="290" height="3.1" fill="url(#f112)"/><rect x="1132.5" y="938.5" width="290" height="3.1" fill="url(#f113)"/><rect x="1132.5" y="941" width="290" height="3.1" fill="url(#f114)"/><rect x="1132.5" y="943.5" width="290" height="3.1" fill="url(#f115)"/><rect x="1132.5" y="946" width="290" height="3.1" fill="url(#f116)"/><rect x="1132.5" y="948.5" width="290" height="3.1" fill="url(#f117)"/><rect x="1132.5" y="951" width="290" height="3.1" fill="url(#f118)"/><rect x="1132.5" y="953.5" width="290" height="3.1" fill="url(#f119)"/><rect x="1132.5" y="956" width="290" height="3.1" fill="url(#f120)"/><rect x="1132.5" y="958.5" width="290" height="3.1" fill="url(#f121)"/><rect x="1132.5" y="961" width="290" height="3.1" fill="url(#f122)"/><rect x="1132.5" y="963.5" width="290" height="3.1" fill="url(#f123)"/><rect x="1132.5" y="966" width="290" height="3.1" fill="url(#f124)"/><rect x="1132.5" y="968.5" width="290" height="3.1" fill="url(#f125)"/><rect x="1132.5" y="971" width="290" height="3.1" fill="url(#f126)"/><rect x="1132.5" y="973.5" width="290" height="3.1" fill="url(#f127)"/><rect x="1132.5" y="976" width="290" height="3.1" fill="url(#f128)"/><rect x="1132.5" y="978.5" width="290" height="3.1" fill="url(#f129)"/><rect x="1132.5" y="981" width="290" height="3.1" fill="url(#f130)"/><rect x="1132.5" y="983.5" width="290" height="3.1" fill="url(#f131)"/><rect x="1132.5" y="986" width="290" height="3.1" fill="url(#f132)"/><rect x="1132.5" y="988.5" width="290" height="3.1" fill="url(#f133)"/><rect x="1132.5" y="991" width="290" height="3.1" fill="url(#f134)"/><rect x="1132.5" y="993.5" width="290" height="3.1" fill="url(#f135)"/><rect x="1132.5" y="996" width="290" height="3.1" fill="url(#f136)"/><rect x="1132.5" y="998.5" width="290" height="3.1" fill="url(#f137)"/><rect x="1132.5" y="1001" width="290" height="3.1" fill="url(#f138)"/><rect x="1132.5" y="1003.5" width="290" height="3.1" fill="url(#f139)"/><rect x="1132.5" y="1006" width="290" height="3.1" fill="url(#f140)"/><rect x="1132.5" y="1008.5" width="290" height="3.1" fill="url(#f141)"/><rect x="1132.5" y="1011" width="290" height="3.1" fill="url(#f142)"/><rect x="1132.5" y="1013.5" width="290" height="3.1" fill="url(#f143)"/><rect x="1132.5" y="1016" width="290" height="3.1" fill="url(#f144)"/><rect x="1132.5" y="1018.5" width="290" height="3.1" fill="url(#f145)"/><rect x="1132.5" y="1021" width="290" height="3.1" fill="url(#f146)"/><rect x="1132.5" y="1023.5" width="290" height="3.1" fill="url(#f147)"/><rect x="1132.5" y="1026" width="290" height="3.1" fill="url(#f148)"/><rect x="1132.5" y="1028.5" width="290" height="3.1" fill="url(#f149)"/><rect x="1132.5" y="1031" width="290" height="3.1" fill="url(#f150)"/><rect x="1132.5" y="1033.5" width="290" height="3.1" fill="url(#f151)"/></g></g>
<line x1="1136.5" y1="847.6" x2="1418.5" y2="847.6" stroke="#111" stroke-width="1.4" stroke-dasharray="4 3.6"/>
<rect x="1136.5" y="661" width="282" height="368.6" fill="none" stroke="#111" stroke-width="1.5"/>
<line x1="1129" y1="686.3" x2="1136.5" y2="686.3" stroke="#111" stroke-width="1.4" />
<text x="1116" y="695.1" font-size="25" text-anchor="end" fill="#000" >–1.0</text>
<line x1="1129" y1="768.5" x2="1136.5" y2="768.5" stroke="#111" stroke-width="1.4" />
<text x="1116" y="777.3" font-size="25" text-anchor="end" fill="#000" >–0.5</text>
<line x1="1129" y1="847.6" x2="1136.5" y2="847.6" stroke="#111" stroke-width="1.4" />
<text x="1116" y="856.4" font-size="25" text-anchor="end" fill="#000" >0</text>
<line x1="1129" y1="928.6" x2="1136.5" y2="928.6" stroke="#111" stroke-width="1.4" />
<text x="1116" y="937.4" font-size="25" text-anchor="end" fill="#000" >0.5</text>
<line x1="1129" y1="1013.6" x2="1136.5" y2="1013.6" stroke="#111" stroke-width="1.4" />
<text x="1116" y="1022.4" font-size="25" text-anchor="end" fill="#000" >1.0</text>
<line x1="1136.5" y1="1029.6" x2="1136.5" y2="1036.6" stroke="#111" stroke-width="1.4" />
<text x="1136.5" y="1064.8" font-size="25" text-anchor="middle" fill="#000" >2</text>
<line x1="1176.8" y1="1029.6" x2="1176.8" y2="1036.6" stroke="#111" stroke-width="1.4" />
<text x="1176.8" y="1064.8" font-size="25" text-anchor="middle" fill="#000" >4</text>
<line x1="1217.1" y1="1029.6" x2="1217.1" y2="1036.6" stroke="#111" stroke-width="1.4" />
<text x="1217.1" y="1064.8" font-size="25" text-anchor="middle" fill="#000" >6</text>
<line x1="1257.4" y1="1029.6" x2="1257.4" y2="1036.6" stroke="#111" stroke-width="1.4" />
<text x="1257.4" y="1064.8" font-size="25" text-anchor="middle" fill="#000" >8</text>
<line x1="1297.6" y1="1029.6" x2="1297.6" y2="1036.6" stroke="#111" stroke-width="1.4" />
<text x="1297.6" y="1064.8" font-size="25" text-anchor="middle" fill="#000" >10</text>
<line x1="1337.9" y1="1029.6" x2="1337.9" y2="1036.6" stroke="#111" stroke-width="1.4" />
<text x="1337.9" y="1064.8" font-size="25" text-anchor="middle" fill="#000" >12</text>
<line x1="1378.2" y1="1029.6" x2="1378.2" y2="1036.6" stroke="#111" stroke-width="1.4" />
<text x="1378.2" y="1064.8" font-size="25" text-anchor="middle" fill="#000" >14</text>
<line x1="1418.5" y1="1029.6" x2="1418.5" y2="1036.6" stroke="#111" stroke-width="1.4" />
<text x="1418.5" y="1064.8" font-size="25" text-anchor="middle" fill="#000" >16</text>
<text x="1278.5" y="1105" font-size="25" text-anchor="middle" fill="#000" ><tspan font-style="italic">T</tspan> (K)</text>
<text x="1277.5" y="644.3" font-size="24.5" text-anchor="middle" fill="#000" >ZFC</text>
<text x="1024" y="653" font-size="42" text-anchor="start" fill="#000" font-weight="bold">f</text>
<g clip-path="url(#cg)"><g filter="url(#bg)" shape-rendering="crispEdges"><rect x="1516.4" y="656" width="290.3" height="3.1" fill="url(#g0)"/><rect x="1516.4" y="658.5" width="290.3" height="3.1" fill="url(#g1)"/><rect x="1516.4" y="661" width="290.3" height="3.1" fill="url(#g2)"/><rect x="1516.4" y="663.5" width="290.3" height="3.1" fill="url(#g3)"/><rect x="1516.4" y="666" width="290.3" height="3.1" fill="url(#g4)"/><rect x="1516.4" y="668.5" width="290.3" height="3.1" fill="url(#g5)"/><rect x="1516.4" y="671" width="290.3" height="3.1" fill="url(#g6)"/><rect x="1516.4" y="673.5" width="290.3" height="3.1" fill="url(#g7)"/><rect x="1516.4" y="676" width="290.3" height="3.1" fill="url(#g8)"/><rect x="1516.4" y="678.5" width="290.3" height="3.1" fill="url(#g9)"/><rect x="1516.4" y="681" width="290.3" height="3.1" fill="url(#g10)"/><rect x="1516.4" y="683.5" width="290.3" height="3.1" fill="url(#g11)"/><rect x="1516.4" y="686" width="290.3" height="3.1" fill="url(#g12)"/><rect x="1516.4" y="688.5" width="290.3" height="3.1" fill="url(#g13)"/><rect x="1516.4" y="691" width="290.3" height="3.1" fill="url(#g14)"/><rect x="1516.4" y="693.5" width="290.3" height="3.1" fill="url(#g15)"/><rect x="1516.4" y="696" width="290.3" height="3.1" fill="url(#g16)"/><rect x="1516.4" y="698.5" width="290.3" height="3.1" fill="url(#g17)"/><rect x="1516.4" y="701" width="290.3" height="3.1" fill="url(#g18)"/><rect x="1516.4" y="703.5" width="290.3" height="3.1" fill="url(#g19)"/><rect x="1516.4" y="706" width="290.3" height="3.1" fill="url(#g20)"/><rect x="1516.4" y="708.5" width="290.3" height="3.1" fill="url(#g21)"/><rect x="1516.4" y="711" width="290.3" height="3.1" fill="url(#g22)"/><rect x="1516.4" y="713.5" width="290.3" height="3.1" fill="url(#g23)"/><rect x="1516.4" y="716" width="290.3" height="3.1" fill="url(#g24)"/><rect x="1516.4" y="718.5" width="290.3" height="3.1" fill="url(#g25)"/><rect x="1516.4" y="721" width="290.3" height="3.1" fill="url(#g26)"/><rect x="1516.4" y="723.5" width="290.3" height="3.1" fill="url(#g27)"/><rect x="1516.4" y="726" width="290.3" height="3.1" fill="url(#g28)"/><rect x="1516.4" y="728.5" width="290.3" height="3.1" fill="url(#g29)"/><rect x="1516.4" y="731" width="290.3" height="3.1" fill="url(#g30)"/><rect x="1516.4" y="733.5" width="290.3" height="3.1" fill="url(#g31)"/><rect x="1516.4" y="736" width="290.3" height="3.1" fill="url(#g32)"/><rect x="1516.4" y="738.5" width="290.3" height="3.1" fill="url(#g33)"/><rect x="1516.4" y="741" width="290.3" height="3.1" fill="url(#g34)"/><rect x="1516.4" y="743.5" width="290.3" height="3.1" fill="url(#g35)"/><rect x="1516.4" y="746" width="290.3" height="3.1" fill="url(#g36)"/><rect x="1516.4" y="748.5" width="290.3" height="3.1" fill="url(#g37)"/><rect x="1516.4" y="751" width="290.3" height="3.1" fill="url(#g38)"/><rect x="1516.4" y="753.5" width="290.3" height="3.1" fill="url(#g39)"/><rect x="1516.4" y="756" width="290.3" height="3.1" fill="url(#g40)"/><rect x="1516.4" y="758.5" width="290.3" height="3.1" fill="url(#g41)"/><rect x="1516.4" y="761" width="290.3" height="3.1" fill="url(#g42)"/><rect x="1516.4" y="763.5" width="290.3" height="3.1" fill="url(#g43)"/><rect x="1516.4" y="766" width="290.3" height="3.1" fill="url(#g44)"/><rect x="1516.4" y="768.5" width="290.3" height="3.1" fill="url(#g45)"/><rect x="1516.4" y="771" width="290.3" height="3.1" fill="url(#g46)"/><rect x="1516.4" y="773.5" width="290.3" height="3.1" fill="url(#g47)"/><rect x="1516.4" y="776" width="290.3" height="3.1" fill="url(#g48)"/><rect x="1516.4" y="778.5" width="290.3" height="3.1" fill="url(#g49)"/><rect x="1516.4" y="781" width="290.3" height="3.1" fill="url(#g50)"/><rect x="1516.4" y="783.5" width="290.3" height="3.1" fill="url(#g51)"/><rect x="1516.4" y="786" width="290.3" height="3.1" fill="url(#g52)"/><rect x="1516.4" y="788.5" width="290.3" height="3.1" fill="url(#g53)"/><rect x="1516.4" y="791" width="290.3" height="3.1" fill="url(#g54)"/><rect x="1516.4" y="793.5" width="290.3" height="3.1" fill="url(#g55)"/><rect x="1516.4" y="796" width="290.3" height="3.1" fill="url(#g56)"/><rect x="1516.4" y="798.5" width="290.3" height="3.1" fill="url(#g57)"/><rect x="1516.4" y="801" width="290.3" height="3.1" fill="url(#g58)"/><rect x="1516.4" y="803.5" width="290.3" height="3.1" fill="url(#g59)"/><rect x="1516.4" y="806" width="290.3" height="3.1" fill="url(#g60)"/><rect x="1516.4" y="808.5" width="290.3" height="3.1" fill="url(#g61)"/><rect x="1516.4" y="811" width="290.3" height="3.1" fill="url(#g62)"/><rect x="1516.4" y="813.5" width="290.3" height="3.1" fill="url(#g63)"/><rect x="1516.4" y="816" width="290.3" height="3.1" fill="url(#g64)"/><rect x="1516.4" y="818.5" width="290.3" height="3.1" fill="url(#g65)"/><rect x="1516.4" y="821" width="290.3" height="3.1" fill="url(#g66)"/><rect x="1516.4" y="823.5" width="290.3" height="3.1" fill="url(#g67)"/><rect x="1516.4" y="826" width="290.3" height="3.1" fill="url(#g68)"/><rect x="1516.4" y="828.5" width="290.3" height="3.1" fill="url(#g69)"/><rect x="1516.4" y="831" width="290.3" height="3.1" fill="url(#g70)"/><rect x="1516.4" y="833.5" width="290.3" height="3.1" fill="url(#g71)"/><rect x="1516.4" y="836" width="290.3" height="3.1" fill="url(#g72)"/><rect x="1516.4" y="838.5" width="290.3" height="3.1" fill="url(#g73)"/><rect x="1516.4" y="841" width="290.3" height="3.1" fill="url(#g74)"/><rect x="1516.4" y="843.5" width="290.3" height="3.1" fill="url(#g75)"/><rect x="1516.4" y="846" width="290.3" height="3.1" fill="url(#g76)"/><rect x="1516.4" y="848.5" width="290.3" height="3.1" fill="url(#g77)"/><rect x="1516.4" y="851" width="290.3" height="3.1" fill="url(#g78)"/><rect x="1516.4" y="853.5" width="290.3" height="3.1" fill="url(#g79)"/><rect x="1516.4" y="856" width="290.3" height="3.1" fill="url(#g80)"/><rect x="1516.4" y="858.5" width="290.3" height="3.1" fill="url(#g81)"/><rect x="1516.4" y="861" width="290.3" height="3.1" fill="url(#g82)"/><rect x="1516.4" y="863.5" width="290.3" height="3.1" fill="url(#g83)"/><rect x="1516.4" y="866" width="290.3" height="3.1" fill="url(#g84)"/><rect x="1516.4" y="868.5" width="290.3" height="3.1" fill="url(#g85)"/><rect x="1516.4" y="871" width="290.3" height="3.1" fill="url(#g86)"/><rect x="1516.4" y="873.5" width="290.3" height="3.1" fill="url(#g87)"/><rect x="1516.4" y="876" width="290.3" height="3.1" fill="url(#g88)"/><rect x="1516.4" y="878.5" width="290.3" height="3.1" fill="url(#g89)"/><rect x="1516.4" y="881" width="290.3" height="3.1" fill="url(#g90)"/><rect x="1516.4" y="883.5" width="290.3" height="3.1" fill="url(#g91)"/><rect x="1516.4" y="886" width="290.3" height="3.1" fill="url(#g92)"/><rect x="1516.4" y="888.5" width="290.3" height="3.1" fill="url(#g93)"/><rect x="1516.4" y="891" width="290.3" height="3.1" fill="url(#g94)"/><rect x="1516.4" y="893.5" width="290.3" height="3.1" fill="url(#g95)"/><rect x="1516.4" y="896" width="290.3" height="3.1" fill="url(#g96)"/><rect x="1516.4" y="898.5" width="290.3" height="3.1" fill="url(#g97)"/><rect x="1516.4" y="901" width="290.3" height="3.1" fill="url(#g98)"/><rect x="1516.4" y="903.5" width="290.3" height="3.1" fill="url(#g99)"/><rect x="1516.4" y="906" width="290.3" height="3.1" fill="url(#g100)"/><rect x="1516.4" y="908.5" width="290.3" height="3.1" fill="url(#g101)"/><rect x="1516.4" y="911" width="290.3" height="3.1" fill="url(#g102)"/><rect x="1516.4" y="913.5" width="290.3" height="3.1" fill="url(#g103)"/><rect x="1516.4" y="916" width="290.3" height="3.1" fill="url(#g104)"/><rect x="1516.4" y="918.5" width="290.3" height="3.1" fill="url(#g105)"/><rect x="1516.4" y="921" width="290.3" height="3.1" fill="url(#g106)"/><rect x="1516.4" y="923.5" width="290.3" height="3.1" fill="url(#g107)"/><rect x="1516.4" y="926" width="290.3" height="3.1" fill="url(#g108)"/><rect x="1516.4" y="928.5" width="290.3" height="3.1" fill="url(#g109)"/><rect x="1516.4" y="931" width="290.3" height="3.1" fill="url(#g110)"/><rect x="1516.4" y="933.5" width="290.3" height="3.1" fill="url(#g111)"/><rect x="1516.4" y="936" width="290.3" height="3.1" fill="url(#g112)"/><rect x="1516.4" y="938.5" width="290.3" height="3.1" fill="url(#g113)"/><rect x="1516.4" y="941" width="290.3" height="3.1" fill="url(#g114)"/><rect x="1516.4" y="943.5" width="290.3" height="3.1" fill="url(#g115)"/><rect x="1516.4" y="946" width="290.3" height="3.1" fill="url(#g116)"/><rect x="1516.4" y="948.5" width="290.3" height="3.1" fill="url(#g117)"/><rect x="1516.4" y="951" width="290.3" height="3.1" fill="url(#g118)"/><rect x="1516.4" y="953.5" width="290.3" height="3.1" fill="url(#g119)"/><rect x="1516.4" y="956" width="290.3" height="3.1" fill="url(#g120)"/><rect x="1516.4" y="958.5" width="290.3" height="3.1" fill="url(#g121)"/><rect x="1516.4" y="961" width="290.3" height="3.1" fill="url(#g122)"/><rect x="1516.4" y="963.5" width="290.3" height="3.1" fill="url(#g123)"/><rect x="1516.4" y="966" width="290.3" height="3.1" fill="url(#g124)"/><rect x="1516.4" y="968.5" width="290.3" height="3.1" fill="url(#g125)"/><rect x="1516.4" y="971" width="290.3" height="3.1" fill="url(#g126)"/><rect x="1516.4" y="973.5" width="290.3" height="3.1" fill="url(#g127)"/><rect x="1516.4" y="976" width="290.3" height="3.1" fill="url(#g128)"/><rect x="1516.4" y="978.5" width="290.3" height="3.1" fill="url(#g129)"/><rect x="1516.4" y="981" width="290.3" height="3.1" fill="url(#g130)"/><rect x="1516.4" y="983.5" width="290.3" height="3.1" fill="url(#g131)"/><rect x="1516.4" y="986" width="290.3" height="3.1" fill="url(#g132)"/><rect x="1516.4" y="988.5" width="290.3" height="3.1" fill="url(#g133)"/><rect x="1516.4" y="991" width="290.3" height="3.1" fill="url(#g134)"/><rect x="1516.4" y="993.5" width="290.3" height="3.1" fill="url(#g135)"/><rect x="1516.4" y="996" width="290.3" height="3.1" fill="url(#g136)"/><rect x="1516.4" y="998.5" width="290.3" height="3.1" fill="url(#g137)"/><rect x="1516.4" y="1001" width="290.3" height="3.1" fill="url(#g138)"/><rect x="1516.4" y="1003.5" width="290.3" height="3.1" fill="url(#g139)"/><rect x="1516.4" y="1006" width="290.3" height="3.1" fill="url(#g140)"/><rect x="1516.4" y="1008.5" width="290.3" height="3.1" fill="url(#g141)"/><rect x="1516.4" y="1011" width="290.3" height="3.1" fill="url(#g142)"/><rect x="1516.4" y="1013.5" width="290.3" height="3.1" fill="url(#g143)"/><rect x="1516.4" y="1016" width="290.3" height="3.1" fill="url(#g144)"/><rect x="1516.4" y="1018.5" width="290.3" height="3.1" fill="url(#g145)"/><rect x="1516.4" y="1021" width="290.3" height="3.1" fill="url(#g146)"/><rect x="1516.4" y="1023.5" width="290.3" height="3.1" fill="url(#g147)"/><rect x="1516.4" y="1026" width="290.3" height="3.1" fill="url(#g148)"/><rect x="1516.4" y="1028.5" width="290.3" height="3.1" fill="url(#g149)"/><rect x="1516.4" y="1031" width="290.3" height="3.1" fill="url(#g150)"/><rect x="1516.4" y="1033.5" width="290.3" height="3.1" fill="url(#g151)"/></g></g>
<line x1="1520.4" y1="847.6" x2="1802.7" y2="847.6" stroke="#111" stroke-width="1.4" stroke-dasharray="4 3.6"/>
<rect x="1520.4" y="661" width="282.3" height="368.6" fill="none" stroke="#111" stroke-width="1.5"/>
<line x1="1512.9" y1="686.3" x2="1520.4" y2="686.3" stroke="#111" stroke-width="1.4" />
<text x="1499.9" y="695.1" font-size="25" text-anchor="end" fill="#000" >–1.0</text>
<line x1="1512.9" y1="768.5" x2="1520.4" y2="768.5" stroke="#111" stroke-width="1.4" />
<text x="1499.9" y="777.3" font-size="25" text-anchor="end" fill="#000" >–0.5</text>
<line x1="1512.9" y1="847.6" x2="1520.4" y2="847.6" stroke="#111" stroke-width="1.4" />
<text x="1499.9" y="856.4" font-size="25" text-anchor="end" fill="#000" >0</text>
<line x1="1512.9" y1="928.6" x2="1520.4" y2="928.6" stroke="#111" stroke-width="1.4" />
<text x="1499.9" y="937.4" font-size="25" text-anchor="end" fill="#000" >0.5</text>
<line x1="1512.9" y1="1013.6" x2="1520.4" y2="1013.6" stroke="#111" stroke-width="1.4" />
<text x="1499.9" y="1022.4" font-size="25" text-anchor="end" fill="#000" >1.0</text>
<line x1="1520.4" y1="1029.6" x2="1520.4" y2="1036.6" stroke="#111" stroke-width="1.4" />
<text x="1520.4" y="1064.8" font-size="25" text-anchor="middle" fill="#000" >2</text>
<line x1="1560.7" y1="1029.6" x2="1560.7" y2="1036.6" stroke="#111" stroke-width="1.4" />
<text x="1560.7" y="1064.8" font-size="25" text-anchor="middle" fill="#000" >4</text>
<line x1="1601.1" y1="1029.6" x2="1601.1" y2="1036.6" stroke="#111" stroke-width="1.4" />
<text x="1601.1" y="1064.8" font-size="25" text-anchor="middle" fill="#000" >6</text>
<line x1="1641.4" y1="1029.6" x2="1641.4" y2="1036.6" stroke="#111" stroke-width="1.4" />
<text x="1641.4" y="1064.8" font-size="25" text-anchor="middle" fill="#000" >8</text>
<line x1="1681.7" y1="1029.6" x2="1681.7" y2="1036.6" stroke="#111" stroke-width="1.4" />
<text x="1681.7" y="1064.8" font-size="25" text-anchor="middle" fill="#000" >10</text>
<line x1="1722" y1="1029.6" x2="1722" y2="1036.6" stroke="#111" stroke-width="1.4" />
<text x="1722" y="1064.8" font-size="25" text-anchor="middle" fill="#000" >12</text>
<line x1="1762.4" y1="1029.6" x2="1762.4" y2="1036.6" stroke="#111" stroke-width="1.4" />
<text x="1762.4" y="1064.8" font-size="25" text-anchor="middle" fill="#000" >14</text>
<line x1="1802.7" y1="1029.6" x2="1802.7" y2="1036.6" stroke="#111" stroke-width="1.4" />
<text x="1802.7" y="1064.8" font-size="25" text-anchor="middle" fill="#000" >16</text>
<text x="1662.6" y="1105" font-size="25" text-anchor="middle" fill="#000" ><tspan font-style="italic">T</tspan> (K)</text>
<text x="1661" y="644.3" font-size="24.5" text-anchor="middle" fill="#000" >Negative FC</text>
<text x="1443" y="653" font-size="42" text-anchor="start" fill="#000" font-weight="bold">g</text>
<text x="1046" y="845" font-size="25" text-anchor="middle" fill="#000" transform="rotate(-90 1046 845)"><tspan font-style="italic">B</tspan> (T)</text>
<rect x="1851" y="679.7" width="23.3" height="343.5" fill="url(#cbar)"/>
<line x1="1851" y1="679.7" x2="1851" y2="1023.2" stroke="#000" stroke-width="1.5" />
<line x1="1874.3" y1="679.7" x2="1874.3" y2="1023.2" stroke="#000" stroke-width="1.5" />
<line x1="1851" y1="744.2" x2="1856.4" y2="744.2" stroke="#111" stroke-width="1.4" />
<line x1="1868.9" y1="744.2" x2="1874.3" y2="744.2" stroke="#111" stroke-width="1.4" />
<text x="1887" y="752.9" font-size="24" text-anchor="start" fill="#000" >1.0</text>
<line x1="1851" y1="851.2" x2="1856.4" y2="851.2" stroke="#111" stroke-width="1.4" />
<line x1="1868.9" y1="851.2" x2="1874.3" y2="851.2" stroke="#111" stroke-width="1.4" />
<text x="1887" y="859.9" font-size="24" text-anchor="start" fill="#000" >0.0</text>
<line x1="1851" y1="959.4" x2="1856.4" y2="959.4" stroke="#111" stroke-width="1.4" />
<line x1="1868.9" y1="959.4" x2="1874.3" y2="959.4" stroke="#111" stroke-width="1.4" />
<text x="1880" y="968.1" font-size="24" text-anchor="start" fill="#000" >–1.0</text>
<text x="1827" y="657" font-size="25" text-anchor="start" fill="#000" ><tspan font-style="italic">R</tspan><tspan font-size="19.5" dy="-9">G</tspan><tspan font-style="italic" font-size="19" dx="-14.5" dy="17">xy</tspan><tspan dy="-8" dx="4">(<tspan font-family="Liberation Serif, serif">Ω</tspan>)</tspan></text>
</svg></body></html>
